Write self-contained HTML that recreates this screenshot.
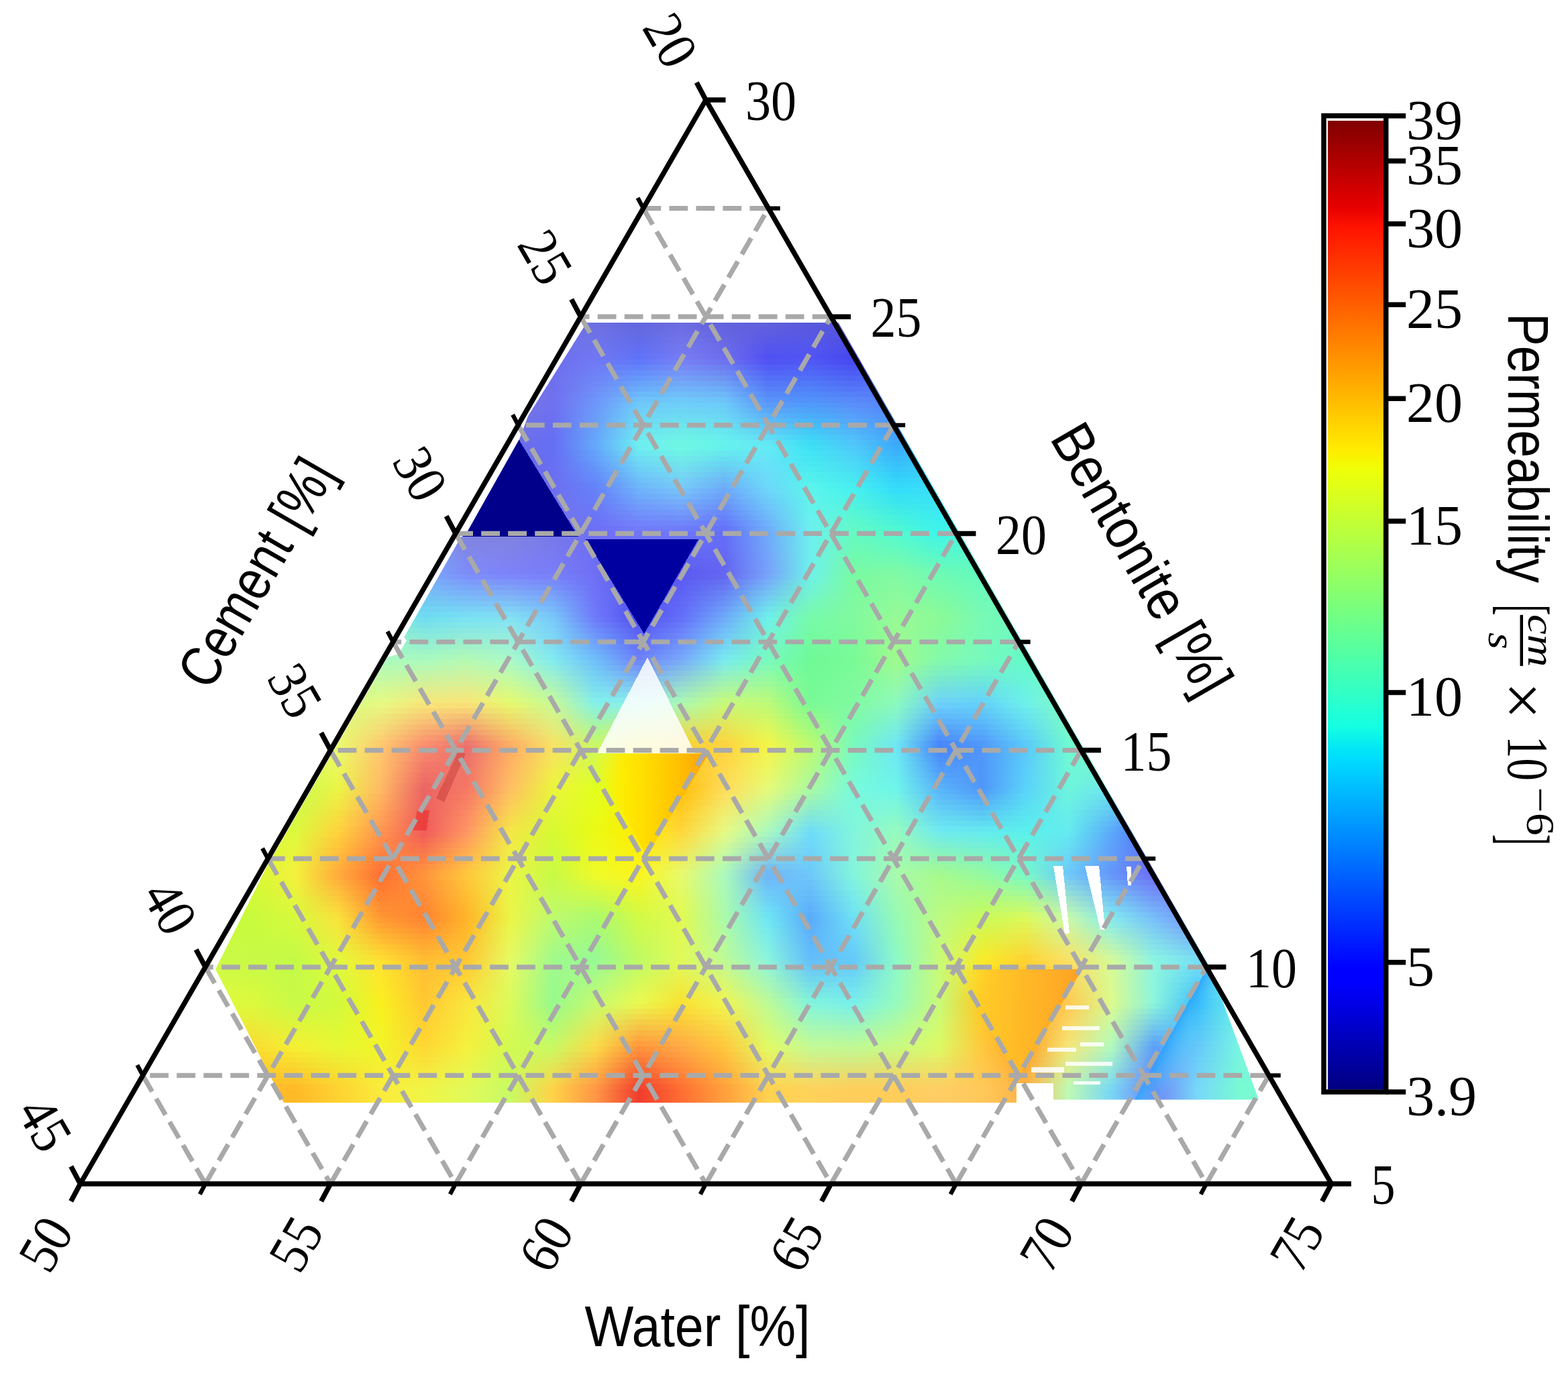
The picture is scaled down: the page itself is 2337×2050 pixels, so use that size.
<!DOCTYPE html>
<html><head><meta charset="utf-8"><title>Ternary permeability</title>
<style>html,body{margin:0;padding:0;background:#fff}body{width:2337px;height:2050px;overflow:hidden}svg{display:block}text{fill:#000}.s{font-family:"Liberation Serif",serif}.n{font-family:"Liberation Sans",sans-serif}</style></head><body>
<svg width="2337" height="2050" viewBox="0 0 2337 2050">
<rect width="2337" height="2050" fill="#fff"/>
<defs>
<clipPath id="hm"><polygon points="874.4,481 1249.6,481 1804.8,1445 1876,1639.5 1570,1639.5 1570,1644 423,1644 321.2,1445 398.7,1290 577.5,980 594.4,975 606,955 602.3,950 686.8,801 695.3,795 774,655 787.2,620"/></clipPath>
<linearGradient id="r0" gradientUnits="userSpaceOnUse" x1="312" y1="0" x2="1976" y2="0"><stop offset="0.3077" stop-color="#6e6ee5"/><stop offset="0.3462" stop-color="#6e70e1"/><stop offset="0.3846" stop-color="#6367de"/><stop offset="0.4231" stop-color="#6c6de1"/><stop offset="0.4615" stop-color="#6363dc"/><stop offset="0.5000" stop-color="#6060dd"/><stop offset="0.5385" stop-color="#5859dd"/><stop offset="0.5769" stop-color="#5656dc"/></linearGradient>
<linearGradient id="r1" gradientUnits="userSpaceOnUse" x1="312" y1="0" x2="1976" y2="0"><stop offset="0.3077" stop-color="#6e6ee6"/><stop offset="0.3462" stop-color="#6f71e4"/><stop offset="0.3846" stop-color="#6269e2"/><stop offset="0.4231" stop-color="#6e6fe4"/><stop offset="0.4615" stop-color="#6464df"/><stop offset="0.5000" stop-color="#5e5ee0"/><stop offset="0.5385" stop-color="#5758e0"/><stop offset="0.5769" stop-color="#5454df"/></linearGradient>
<linearGradient id="r2" gradientUnits="userSpaceOnUse" x1="312" y1="0" x2="1976" y2="0"><stop offset="0.3077" stop-color="#6e6ee7"/><stop offset="0.3462" stop-color="#6f72e7"/><stop offset="0.3846" stop-color="#626be6"/><stop offset="0.4231" stop-color="#7072e7"/><stop offset="0.4615" stop-color="#6666e2"/><stop offset="0.5000" stop-color="#5b5be4"/><stop offset="0.5385" stop-color="#5658e4"/><stop offset="0.5769" stop-color="#5151e2"/><stop offset="0.6154" stop-color="#565ee4"/></linearGradient>
<linearGradient id="r3" gradientUnits="userSpaceOnUse" x1="312" y1="0" x2="1976" y2="0"><stop offset="0.3077" stop-color="#6e6ee8"/><stop offset="0.3462" stop-color="#6f74ea"/><stop offset="0.3846" stop-color="#616ceb"/><stop offset="0.4231" stop-color="#7174ea"/><stop offset="0.4615" stop-color="#6868e5"/><stop offset="0.5000" stop-color="#5959e8"/><stop offset="0.5385" stop-color="#5457e8"/><stop offset="0.5769" stop-color="#4f4fe5"/><stop offset="0.6154" stop-color="#5460e8"/></linearGradient>
<linearGradient id="r4" gradientUnits="userSpaceOnUse" x1="312" y1="0" x2="1976" y2="0"><stop offset="0.2692" stop-color="#7272e4"/><stop offset="0.3077" stop-color="#6e6ee9"/><stop offset="0.3462" stop-color="#6f75ed"/><stop offset="0.3846" stop-color="#616eef"/><stop offset="0.4231" stop-color="#7377ed"/><stop offset="0.4615" stop-color="#6a6ae8"/><stop offset="0.5000" stop-color="#5656ec"/><stop offset="0.5385" stop-color="#5357ec"/><stop offset="0.5769" stop-color="#4c4ce8"/><stop offset="0.6154" stop-color="#5361ec"/></linearGradient>
<linearGradient id="r5" gradientUnits="userSpaceOnUse" x1="312" y1="0" x2="1976" y2="0"><stop offset="0.2692" stop-color="#7373e4"/><stop offset="0.3077" stop-color="#6e6eea"/><stop offset="0.3462" stop-color="#7076f0"/><stop offset="0.3846" stop-color="#6070f3"/><stop offset="0.4231" stop-color="#7579f0"/><stop offset="0.4615" stop-color="#6b6beb"/><stop offset="0.5000" stop-color="#5454ef"/><stop offset="0.5385" stop-color="#5256ef"/><stop offset="0.5769" stop-color="#4a4aeb"/><stop offset="0.6154" stop-color="#5262ef"/></linearGradient>
<linearGradient id="r6" gradientUnits="userSpaceOnUse" x1="312" y1="0" x2="1976" y2="0"><stop offset="0.2692" stop-color="#7373e4"/><stop offset="0.3077" stop-color="#6e6eeb"/><stop offset="0.3462" stop-color="#7077f3"/><stop offset="0.3846" stop-color="#5f72f8"/><stop offset="0.4231" stop-color="#777cf3"/><stop offset="0.4615" stop-color="#6d6dee"/><stop offset="0.5000" stop-color="#5151f3"/><stop offset="0.5385" stop-color="#5155f3"/><stop offset="0.5769" stop-color="#4747ee"/><stop offset="0.6154" stop-color="#5163f3"/></linearGradient>
<linearGradient id="r7" gradientUnits="userSpaceOnUse" x1="312" y1="0" x2="1976" y2="0"><stop offset="0.2692" stop-color="#7373e3"/><stop offset="0.3077" stop-color="#6e6eeb"/><stop offset="0.3462" stop-color="#707af5"/><stop offset="0.3846" stop-color="#6078fa"/><stop offset="0.4231" stop-color="#7782f5"/><stop offset="0.4615" stop-color="#6e74f1"/><stop offset="0.5000" stop-color="#5154f5"/><stop offset="0.5385" stop-color="#5059f5"/><stop offset="0.5769" stop-color="#474af1"/><stop offset="0.6154" stop-color="#5166f5"/></linearGradient>
<linearGradient id="r8" gradientUnits="userSpaceOnUse" x1="312" y1="0" x2="1976" y2="0"><stop offset="0.2692" stop-color="#7474e2"/><stop offset="0.3077" stop-color="#6e6eec"/><stop offset="0.3462" stop-color="#707ef6"/><stop offset="0.3846" stop-color="#6283fa"/><stop offset="0.4231" stop-color="#768cf6"/><stop offset="0.4615" stop-color="#6e7ff2"/><stop offset="0.5000" stop-color="#525df6"/><stop offset="0.5385" stop-color="#5061f6"/><stop offset="0.5769" stop-color="#4a53f2"/><stop offset="0.6154" stop-color="#526af6"/></linearGradient>
<linearGradient id="r9" gradientUnits="userSpaceOnUse" x1="312" y1="0" x2="1976" y2="0"><stop offset="0.2692" stop-color="#7575e1"/><stop offset="0.3077" stop-color="#6f6fed"/><stop offset="0.3462" stop-color="#6f81f7"/><stop offset="0.3846" stop-color="#648efa"/><stop offset="0.4231" stop-color="#7596f7"/><stop offset="0.4615" stop-color="#6e8af3"/><stop offset="0.5000" stop-color="#5366f7"/><stop offset="0.5385" stop-color="#5069f7"/><stop offset="0.5769" stop-color="#4c5cf3"/><stop offset="0.6154" stop-color="#536df7"/></linearGradient>
<linearGradient id="r10" gradientUnits="userSpaceOnUse" x1="312" y1="0" x2="1976" y2="0"><stop offset="0.2692" stop-color="#7575e0"/><stop offset="0.3077" stop-color="#6f6fed"/><stop offset="0.3462" stop-color="#6f85f7"/><stop offset="0.3846" stop-color="#6698fa"/><stop offset="0.4231" stop-color="#74a0f7"/><stop offset="0.4615" stop-color="#6e95f4"/><stop offset="0.5000" stop-color="#546ff7"/><stop offset="0.5385" stop-color="#5071f7"/><stop offset="0.5769" stop-color="#4f65f4"/><stop offset="0.6154" stop-color="#5471f7"/></linearGradient>
<linearGradient id="r11" gradientUnits="userSpaceOnUse" x1="312" y1="0" x2="1976" y2="0"><stop offset="0.2692" stop-color="#7676df"/><stop offset="0.3077" stop-color="#6f6fee"/><stop offset="0.3462" stop-color="#6f89f8"/><stop offset="0.3846" stop-color="#67a3fa"/><stop offset="0.4231" stop-color="#72aaf8"/><stop offset="0.4615" stop-color="#6ea1f6"/><stop offset="0.5000" stop-color="#5677f8"/><stop offset="0.5385" stop-color="#507af8"/><stop offset="0.5769" stop-color="#516df6"/><stop offset="0.6154" stop-color="#5675f8"/></linearGradient>
<linearGradient id="r12" gradientUnits="userSpaceOnUse" x1="312" y1="0" x2="1976" y2="0"><stop offset="0.2692" stop-color="#7676de"/><stop offset="0.3077" stop-color="#6f6fee"/><stop offset="0.3462" stop-color="#6f8df8"/><stop offset="0.3846" stop-color="#69adfa"/><stop offset="0.4231" stop-color="#71b4f8"/><stop offset="0.4615" stop-color="#6eacf7"/><stop offset="0.5000" stop-color="#5780f8"/><stop offset="0.5385" stop-color="#5082f8"/><stop offset="0.5769" stop-color="#5476f7"/><stop offset="0.6154" stop-color="#5779f8"/></linearGradient>
<linearGradient id="r13" gradientUnits="userSpaceOnUse" x1="312" y1="0" x2="1976" y2="0"><stop offset="0.2692" stop-color="#7777dd"/><stop offset="0.3077" stop-color="#7070ef"/><stop offset="0.3462" stop-color="#6e90f9"/><stop offset="0.3846" stop-color="#6bb8fa"/><stop offset="0.4231" stop-color="#70bef9"/><stop offset="0.4615" stop-color="#6eb7f8"/><stop offset="0.5000" stop-color="#5889f9"/><stop offset="0.5385" stop-color="#508af9"/><stop offset="0.5769" stop-color="#567ff8"/><stop offset="0.6154" stop-color="#587cf9"/></linearGradient>
<linearGradient id="r14" gradientUnits="userSpaceOnUse" x1="312" y1="0" x2="1976" y2="0"><stop offset="0.2692" stop-color="#7878dc"/><stop offset="0.3077" stop-color="#7070f0"/><stop offset="0.3462" stop-color="#6e94fa"/><stop offset="0.3846" stop-color="#6dc3fa"/><stop offset="0.4231" stop-color="#6fc8fa"/><stop offset="0.4615" stop-color="#6ec2f9"/><stop offset="0.5000" stop-color="#5992fa"/><stop offset="0.5385" stop-color="#5092fa"/><stop offset="0.5769" stop-color="#5988f9"/><stop offset="0.6154" stop-color="#5980fa"/></linearGradient>
<linearGradient id="r15" gradientUnits="userSpaceOnUse" x1="312" y1="0" x2="1976" y2="0"><stop offset="0.2692" stop-color="#7777dd"/><stop offset="0.3077" stop-color="#6f70f0"/><stop offset="0.3462" stop-color="#6d97fa"/><stop offset="0.3846" stop-color="#6ecaf9"/><stop offset="0.4231" stop-color="#6ed0f8"/><stop offset="0.4615" stop-color="#6dcbf9"/><stop offset="0.5000" stop-color="#5b9bfa"/><stop offset="0.5385" stop-color="#4f9bfa"/><stop offset="0.5769" stop-color="#5990fa"/><stop offset="0.6154" stop-color="#5884fa"/></linearGradient>
<linearGradient id="r16" gradientUnits="userSpaceOnUse" x1="312" y1="0" x2="1976" y2="0"><stop offset="0.2692" stop-color="#7676de"/><stop offset="0.3077" stop-color="#6e70f1"/><stop offset="0.3462" stop-color="#6c9afa"/><stop offset="0.3846" stop-color="#6ed0f8"/><stop offset="0.4231" stop-color="#6ed5f5"/><stop offset="0.4615" stop-color="#6cd0f7"/><stop offset="0.5000" stop-color="#5ca6f9"/><stop offset="0.5385" stop-color="#4ca4f9"/><stop offset="0.5769" stop-color="#5897fa"/><stop offset="0.6154" stop-color="#548afa"/><stop offset="0.6538" stop-color="#548efa"/></linearGradient>
<linearGradient id="r17" gradientUnits="userSpaceOnUse" x1="312" y1="0" x2="1976" y2="0"><stop offset="0.2692" stop-color="#7575df"/><stop offset="0.3077" stop-color="#6c6ff2"/><stop offset="0.3462" stop-color="#6b9cfa"/><stop offset="0.3846" stop-color="#6ed4f7"/><stop offset="0.4231" stop-color="#6edbf2"/><stop offset="0.4615" stop-color="#6bd6f5"/><stop offset="0.5000" stop-color="#5db1f8"/><stop offset="0.5385" stop-color="#4aadf8"/><stop offset="0.5769" stop-color="#579ffa"/><stop offset="0.6154" stop-color="#518efa"/><stop offset="0.6538" stop-color="#5196fa"/></linearGradient>
<linearGradient id="r18" gradientUnits="userSpaceOnUse" x1="312" y1="0" x2="1976" y2="0"><stop offset="0.2308" stop-color="#7171de"/><stop offset="0.2692" stop-color="#7474e0"/><stop offset="0.3077" stop-color="#6b6ff2"/><stop offset="0.3462" stop-color="#6a9ffa"/><stop offset="0.3846" stop-color="#6edaf6"/><stop offset="0.4231" stop-color="#6ee1ef"/><stop offset="0.4615" stop-color="#6adcf3"/><stop offset="0.5000" stop-color="#5ebbf8"/><stop offset="0.5385" stop-color="#47b7f8"/><stop offset="0.5769" stop-color="#56a6fa"/><stop offset="0.6154" stop-color="#4d94fa"/><stop offset="0.6538" stop-color="#4d9efa"/></linearGradient>
<linearGradient id="r19" gradientUnits="userSpaceOnUse" x1="312" y1="0" x2="1976" y2="0"><stop offset="0.2308" stop-color="#7070df"/><stop offset="0.2692" stop-color="#7272e2"/><stop offset="0.3077" stop-color="#696ff3"/><stop offset="0.3462" stop-color="#68a1fa"/><stop offset="0.3846" stop-color="#6edef4"/><stop offset="0.4231" stop-color="#6ee6ec"/><stop offset="0.4615" stop-color="#68e1f2"/><stop offset="0.5000" stop-color="#60c6f7"/><stop offset="0.5385" stop-color="#45c0f7"/><stop offset="0.5769" stop-color="#54aefa"/><stop offset="0.6154" stop-color="#4998fa"/><stop offset="0.6538" stop-color="#49a7fa"/></linearGradient>
<linearGradient id="r20" gradientUnits="userSpaceOnUse" x1="312" y1="0" x2="1976" y2="0"><stop offset="0.2308" stop-color="#6e6edf"/><stop offset="0.2692" stop-color="#7171e3"/><stop offset="0.3077" stop-color="#686ff3"/><stop offset="0.3462" stop-color="#67a4fa"/><stop offset="0.3846" stop-color="#6ee4f3"/><stop offset="0.4231" stop-color="#6eece9"/><stop offset="0.4615" stop-color="#67e7f0"/><stop offset="0.5000" stop-color="#61d0f7"/><stop offset="0.5385" stop-color="#42caf7"/><stop offset="0.5769" stop-color="#53b5fa"/><stop offset="0.6154" stop-color="#459efa"/><stop offset="0.6538" stop-color="#45affa"/></linearGradient>
<linearGradient id="r21" gradientUnits="userSpaceOnUse" x1="312" y1="0" x2="1976" y2="0"><stop offset="0.2308" stop-color="#6c6ce0"/><stop offset="0.2692" stop-color="#7070e4"/><stop offset="0.3077" stop-color="#666ef4"/><stop offset="0.3462" stop-color="#66a6fa"/><stop offset="0.3846" stop-color="#6ee8f2"/><stop offset="0.4231" stop-color="#6ef2e6"/><stop offset="0.4615" stop-color="#66edee"/><stop offset="0.5000" stop-color="#62dbf6"/><stop offset="0.5385" stop-color="#40d3f6"/><stop offset="0.5769" stop-color="#52bdfa"/><stop offset="0.6154" stop-color="#42a2fa"/><stop offset="0.6538" stop-color="#42b7fa"/></linearGradient>
<linearGradient id="r22" gradientUnits="userSpaceOnUse" x1="312" y1="0" x2="1976" y2="0"><stop offset="0.2308" stop-color="#6a6ae1"/><stop offset="0.2692" stop-color="#6f6fe5"/><stop offset="0.3077" stop-color="#656ef5"/><stop offset="0.3462" stop-color="#65a9fa"/><stop offset="0.3846" stop-color="#6eeef1"/><stop offset="0.4231" stop-color="#6ef7e3"/><stop offset="0.4615" stop-color="#65f2ec"/><stop offset="0.5000" stop-color="#63e6f5"/><stop offset="0.5385" stop-color="#3ddcf5"/><stop offset="0.5769" stop-color="#51c4fa"/><stop offset="0.6154" stop-color="#3ea8fa"/><stop offset="0.6538" stop-color="#3ebffa"/></linearGradient>
<linearGradient id="r23" gradientUnits="userSpaceOnUse" x1="312" y1="0" x2="1976" y2="0"><stop offset="0.2308" stop-color="#6969e1"/><stop offset="0.2692" stop-color="#6d6de5"/><stop offset="0.3077" stop-color="#656ef5"/><stop offset="0.3462" stop-color="#64a8fa"/><stop offset="0.3846" stop-color="#6eecf1"/><stop offset="0.4231" stop-color="#6ff7e3"/><stop offset="0.4615" stop-color="#65f0ec"/><stop offset="0.5000" stop-color="#65eaf5"/><stop offset="0.5385" stop-color="#3ee2f4"/><stop offset="0.5769" stop-color="#4fcaf9"/><stop offset="0.6154" stop-color="#3badfa"/><stop offset="0.6538" stop-color="#3cc5fa"/></linearGradient>
<linearGradient id="r24" gradientUnits="userSpaceOnUse" x1="312" y1="0" x2="1976" y2="0"><stop offset="0.2308" stop-color="#6868e0"/><stop offset="0.2692" stop-color="#6c6ce4"/><stop offset="0.3077" stop-color="#666ef4"/><stop offset="0.3462" stop-color="#64a2fa"/><stop offset="0.3846" stop-color="#6ee5f2"/><stop offset="0.4231" stop-color="#70f1e6"/><stop offset="0.4615" stop-color="#66e7ee"/><stop offset="0.5000" stop-color="#66e7f6"/><stop offset="0.5385" stop-color="#42e5f3"/><stop offset="0.5769" stop-color="#4ed0f8"/><stop offset="0.6154" stop-color="#3ab3fa"/><stop offset="0.6538" stop-color="#3cc8fa"/></linearGradient>
<linearGradient id="r25" gradientUnits="userSpaceOnUse" x1="312" y1="0" x2="1976" y2="0"><stop offset="0.2308" stop-color="#6767df"/><stop offset="0.2692" stop-color="#6b6be3"/><stop offset="0.3077" stop-color="#676ef3"/><stop offset="0.3462" stop-color="#649efa"/><stop offset="0.3846" stop-color="#6eddf3"/><stop offset="0.4231" stop-color="#71eae9"/><stop offset="0.4615" stop-color="#67def0"/><stop offset="0.5000" stop-color="#67e5f7"/><stop offset="0.5385" stop-color="#45e7f2"/><stop offset="0.5769" stop-color="#4dd4f7"/><stop offset="0.6154" stop-color="#39bafa"/><stop offset="0.6538" stop-color="#3ccbfa"/></linearGradient>
<linearGradient id="r26" gradientUnits="userSpaceOnUse" x1="312" y1="0" x2="1976" y2="0"><stop offset="0.2308" stop-color="#6767df"/><stop offset="0.2692" stop-color="#6a6ae2"/><stop offset="0.3077" stop-color="#686ef3"/><stop offset="0.3462" stop-color="#6498fa"/><stop offset="0.3846" stop-color="#6ed6f4"/><stop offset="0.4231" stop-color="#72e4ec"/><stop offset="0.4615" stop-color="#68d4f2"/><stop offset="0.5000" stop-color="#68e2f7"/><stop offset="0.5385" stop-color="#49eaf1"/><stop offset="0.5769" stop-color="#4cdaf6"/><stop offset="0.6154" stop-color="#38c0fa"/><stop offset="0.6538" stop-color="#3ccefa"/></linearGradient>
<linearGradient id="r27" gradientUnits="userSpaceOnUse" x1="312" y1="0" x2="1976" y2="0"><stop offset="0.2308" stop-color="#6666de"/><stop offset="0.2692" stop-color="#6868e0"/><stop offset="0.3077" stop-color="#6a6ef2"/><stop offset="0.3462" stop-color="#6494fa"/><stop offset="0.3846" stop-color="#6ecef6"/><stop offset="0.4231" stop-color="#74deef"/><stop offset="0.4615" stop-color="#6acbf3"/><stop offset="0.5000" stop-color="#6ae0f8"/><stop offset="0.5385" stop-color="#4decef"/><stop offset="0.5769" stop-color="#4adef4"/><stop offset="0.6154" stop-color="#36c6fa"/><stop offset="0.6538" stop-color="#3cd1fa"/></linearGradient>
<linearGradient id="r28" gradientUnits="userSpaceOnUse" x1="312" y1="0" x2="1976" y2="0"><stop offset="0.2308" stop-color="#6666de"/><stop offset="0.2692" stop-color="#6767df"/><stop offset="0.3077" stop-color="#6b6ef2"/><stop offset="0.3462" stop-color="#648efa"/><stop offset="0.3846" stop-color="#6ec7f7"/><stop offset="0.4231" stop-color="#75d8f2"/><stop offset="0.4615" stop-color="#6bc1f5"/><stop offset="0.5000" stop-color="#6bddf8"/><stop offset="0.5385" stop-color="#51efee"/><stop offset="0.5769" stop-color="#49e4f3"/><stop offset="0.6154" stop-color="#35ccfa"/><stop offset="0.6538" stop-color="#3cd4fa"/></linearGradient>
<linearGradient id="r29" gradientUnits="userSpaceOnUse" x1="312" y1="0" x2="1976" y2="0"><stop offset="0.2308" stop-color="#6565dd"/><stop offset="0.2692" stop-color="#6666de"/><stop offset="0.3077" stop-color="#6c6ef1"/><stop offset="0.3462" stop-color="#648afa"/><stop offset="0.3846" stop-color="#6ebff8"/><stop offset="0.4231" stop-color="#76d1f5"/><stop offset="0.4615" stop-color="#6cb8f7"/><stop offset="0.5000" stop-color="#6cdbf9"/><stop offset="0.5385" stop-color="#54f1ed"/><stop offset="0.5769" stop-color="#48e8f2"/><stop offset="0.6154" stop-color="#34d3fa"/><stop offset="0.6538" stop-color="#3cd7fa"/></linearGradient>
<linearGradient id="r30" gradientUnits="userSpaceOnUse" x1="312" y1="0" x2="1976" y2="0"><stop offset="0.2308" stop-color="#6464dc"/><stop offset="0.2692" stop-color="#6565dd"/><stop offset="0.3077" stop-color="#6d6ef0"/><stop offset="0.3462" stop-color="#6484fa"/><stop offset="0.3846" stop-color="#6eb8f9"/><stop offset="0.4231" stop-color="#77cbf8"/><stop offset="0.4615" stop-color="#6daff9"/><stop offset="0.5000" stop-color="#6dd8fa"/><stop offset="0.5385" stop-color="#58f4ec"/><stop offset="0.5769" stop-color="#47eef1"/><stop offset="0.6154" stop-color="#33d9fa"/><stop offset="0.6538" stop-color="#3cdafa"/><stop offset="0.6923" stop-color="#3cdbfa"/></linearGradient>
<linearGradient id="r31" gradientUnits="userSpaceOnUse" x1="312" y1="0" x2="1976" y2="0"><stop offset="0.1923" stop-color="#6667dd"/><stop offset="0.2308" stop-color="#6666dc"/><stop offset="0.2692" stop-color="#6666dc"/><stop offset="0.3077" stop-color="#6f6fef"/><stop offset="0.3462" stop-color="#6581fa"/><stop offset="0.3846" stop-color="#6eb0fa"/><stop offset="0.4231" stop-color="#77c3fa"/><stop offset="0.4615" stop-color="#6da6fa"/><stop offset="0.5000" stop-color="#6ed4fa"/><stop offset="0.5385" stop-color="#5bf5eb"/><stop offset="0.5769" stop-color="#48f1ed"/><stop offset="0.6154" stop-color="#34def8"/><stop offset="0.6538" stop-color="#3cdef9"/><stop offset="0.6923" stop-color="#3ddef8"/></linearGradient>
<linearGradient id="r32" gradientUnits="userSpaceOnUse" x1="312" y1="0" x2="1976" y2="0"><stop offset="0.1923" stop-color="#696ddf"/><stop offset="0.2308" stop-color="#6a6adc"/><stop offset="0.2692" stop-color="#6a6adc"/><stop offset="0.3077" stop-color="#7070ee"/><stop offset="0.3462" stop-color="#667ef9"/><stop offset="0.3846" stop-color="#6fa9fa"/><stop offset="0.4231" stop-color="#76b9fa"/><stop offset="0.4615" stop-color="#6c9ffa"/><stop offset="0.5000" stop-color="#6ecffa"/><stop offset="0.5385" stop-color="#5ef4ec"/><stop offset="0.5769" stop-color="#4cf2e8"/><stop offset="0.6154" stop-color="#38e2f2"/><stop offset="0.6538" stop-color="#3ce1f7"/><stop offset="0.6923" stop-color="#40e1f3"/></linearGradient>
<linearGradient id="r33" gradientUnits="userSpaceOnUse" x1="312" y1="0" x2="1976" y2="0"><stop offset="0.1923" stop-color="#6c74e1"/><stop offset="0.2308" stop-color="#6d6ddc"/><stop offset="0.2692" stop-color="#6d6ddc"/><stop offset="0.3077" stop-color="#7171ed"/><stop offset="0.3462" stop-color="#677cf8"/><stop offset="0.3846" stop-color="#70a1fa"/><stop offset="0.4231" stop-color="#75affa"/><stop offset="0.4615" stop-color="#6b97fa"/><stop offset="0.5000" stop-color="#6ec9fa"/><stop offset="0.5385" stop-color="#60f3ed"/><stop offset="0.5769" stop-color="#4ff3e2"/><stop offset="0.6154" stop-color="#3be5ee"/><stop offset="0.6538" stop-color="#3ce4f5"/><stop offset="0.6923" stop-color="#42e5ee"/></linearGradient>
<linearGradient id="r34" gradientUnits="userSpaceOnUse" x1="312" y1="0" x2="1976" y2="0"><stop offset="0.1923" stop-color="#6f7ae3"/><stop offset="0.2308" stop-color="#7171dc"/><stop offset="0.2692" stop-color="#7171dc"/><stop offset="0.3077" stop-color="#7272ec"/><stop offset="0.3462" stop-color="#6879f8"/><stop offset="0.3846" stop-color="#709afa"/><stop offset="0.4231" stop-color="#74a5fa"/><stop offset="0.4615" stop-color="#6a90fa"/><stop offset="0.5000" stop-color="#6ec3fa"/><stop offset="0.5385" stop-color="#63f3ed"/><stop offset="0.5769" stop-color="#53f4dc"/><stop offset="0.6154" stop-color="#3fe9e8"/><stop offset="0.6538" stop-color="#3ce7f3"/><stop offset="0.6923" stop-color="#45e8ea"/></linearGradient>
<linearGradient id="r35" gradientUnits="userSpaceOnUse" x1="312" y1="0" x2="1976" y2="0"><stop offset="0.1923" stop-color="#7280e4"/><stop offset="0.2308" stop-color="#7575dc"/><stop offset="0.2692" stop-color="#7575dc"/><stop offset="0.3077" stop-color="#7474ea"/><stop offset="0.3462" stop-color="#6a77f7"/><stop offset="0.3846" stop-color="#7192fa"/><stop offset="0.4231" stop-color="#729bfa"/><stop offset="0.4615" stop-color="#6888fa"/><stop offset="0.5000" stop-color="#6ebefa"/><stop offset="0.5385" stop-color="#65f2ee"/><stop offset="0.5769" stop-color="#57f6d7"/><stop offset="0.6154" stop-color="#43ede4"/><stop offset="0.6538" stop-color="#3ceaf2"/><stop offset="0.6923" stop-color="#47ebe5"/></linearGradient>
<linearGradient id="r36" gradientUnits="userSpaceOnUse" x1="312" y1="0" x2="1976" y2="0"><stop offset="0.1923" stop-color="#7586e6"/><stop offset="0.2308" stop-color="#7979dc"/><stop offset="0.2692" stop-color="#7979dc"/><stop offset="0.3077" stop-color="#7575e9"/><stop offset="0.3462" stop-color="#6b74f7"/><stop offset="0.3846" stop-color="#718bfa"/><stop offset="0.4231" stop-color="#7191fa"/><stop offset="0.4615" stop-color="#6781fa"/><stop offset="0.5000" stop-color="#6eb8fa"/><stop offset="0.5385" stop-color="#68f2ee"/><stop offset="0.5769" stop-color="#5bf7d1"/><stop offset="0.6154" stop-color="#47f1de"/><stop offset="0.6538" stop-color="#3cedf0"/><stop offset="0.6923" stop-color="#4aefe0"/></linearGradient>
<linearGradient id="r37" gradientUnits="userSpaceOnUse" x1="312" y1="0" x2="1976" y2="0"><stop offset="0.1923" stop-color="#788de8"/><stop offset="0.2308" stop-color="#7c7cdc"/><stop offset="0.2692" stop-color="#7c7cdc"/><stop offset="0.3077" stop-color="#7676e8"/><stop offset="0.3462" stop-color="#6c72f6"/><stop offset="0.3846" stop-color="#7283fa"/><stop offset="0.4231" stop-color="#7087fa"/><stop offset="0.4615" stop-color="#6679fa"/><stop offset="0.5000" stop-color="#6eb2fa"/><stop offset="0.5385" stop-color="#6af1ef"/><stop offset="0.5769" stop-color="#5ef8cb"/><stop offset="0.6154" stop-color="#4af4da"/><stop offset="0.6538" stop-color="#3cf0ee"/><stop offset="0.6923" stop-color="#4cf2dc"/></linearGradient>
<linearGradient id="r38" gradientUnits="userSpaceOnUse" x1="312" y1="0" x2="1976" y2="0"><stop offset="0.1923" stop-color="#7b93ea"/><stop offset="0.2308" stop-color="#8080dc"/><stop offset="0.2692" stop-color="#8080dc"/><stop offset="0.3077" stop-color="#7777e7"/><stop offset="0.3462" stop-color="#6d6ff5"/><stop offset="0.3846" stop-color="#737cfa"/><stop offset="0.4231" stop-color="#6f7dfa"/><stop offset="0.4615" stop-color="#6572fa"/><stop offset="0.5000" stop-color="#6eadfa"/><stop offset="0.5385" stop-color="#6df0f0"/><stop offset="0.5769" stop-color="#62f9c6"/><stop offset="0.6154" stop-color="#4ef8d4"/><stop offset="0.6538" stop-color="#3cf3ec"/><stop offset="0.6923" stop-color="#4ff6d7"/></linearGradient>
<linearGradient id="r39" gradientUnits="userSpaceOnUse" x1="312" y1="0" x2="1976" y2="0"><stop offset="0.1923" stop-color="#7d97ec"/><stop offset="0.2308" stop-color="#8283de"/><stop offset="0.2692" stop-color="#8282de"/><stop offset="0.3077" stop-color="#7878e7"/><stop offset="0.3462" stop-color="#6e6ef5"/><stop offset="0.3846" stop-color="#7176f9"/><stop offset="0.4231" stop-color="#6d76f9"/><stop offset="0.4615" stop-color="#646df9"/><stop offset="0.5000" stop-color="#6fa9fa"/><stop offset="0.5385" stop-color="#6ef0f0"/><stop offset="0.5769" stop-color="#65fac1"/><stop offset="0.6154" stop-color="#53facf"/><stop offset="0.6538" stop-color="#3ff5e8"/><stop offset="0.6923" stop-color="#51f8d3"/></linearGradient>
<linearGradient id="r40" gradientUnits="userSpaceOnUse" x1="312" y1="0" x2="1976" y2="0"><stop offset="0.1923" stop-color="#7c9aee"/><stop offset="0.2308" stop-color="#8184e2"/><stop offset="0.2692" stop-color="#8182e2"/><stop offset="0.3077" stop-color="#7879ea"/><stop offset="0.3462" stop-color="#6e6ef5"/><stop offset="0.3846" stop-color="#6e72f8"/><stop offset="0.4231" stop-color="#6a72f8"/><stop offset="0.4615" stop-color="#646cf8"/><stop offset="0.5000" stop-color="#70a8fa"/><stop offset="0.5385" stop-color="#6ef0ef"/><stop offset="0.5769" stop-color="#68fabc"/><stop offset="0.6154" stop-color="#59faca"/><stop offset="0.6538" stop-color="#45f6e1"/><stop offset="0.6923" stop-color="#54f8d0"/></linearGradient>
<linearGradient id="r41" gradientUnits="userSpaceOnUse" x1="312" y1="0" x2="1976" y2="0"><stop offset="0.1923" stop-color="#7b9cf0"/><stop offset="0.2308" stop-color="#8085e5"/><stop offset="0.2692" stop-color="#8082e5"/><stop offset="0.3077" stop-color="#787aec"/><stop offset="0.3462" stop-color="#6e6ef5"/><stop offset="0.3846" stop-color="#6b6ff7"/><stop offset="0.4231" stop-color="#686ff7"/><stop offset="0.4615" stop-color="#646bf7"/><stop offset="0.5000" stop-color="#71a7fa"/><stop offset="0.5385" stop-color="#6ef0ee"/><stop offset="0.5769" stop-color="#6afab8"/><stop offset="0.6154" stop-color="#60fac4"/><stop offset="0.6538" stop-color="#4cf7da"/><stop offset="0.6923" stop-color="#56f8cd"/></linearGradient>
<linearGradient id="r42" gradientUnits="userSpaceOnUse" x1="312" y1="0" x2="1976" y2="0"><stop offset="0.1923" stop-color="#7b9ff2"/><stop offset="0.2308" stop-color="#8086e9"/><stop offset="0.2692" stop-color="#8082e9"/><stop offset="0.3077" stop-color="#787aef"/><stop offset="0.3462" stop-color="#6e6ef5"/><stop offset="0.3846" stop-color="#686bf6"/><stop offset="0.4231" stop-color="#656bf6"/><stop offset="0.4615" stop-color="#646af6"/><stop offset="0.5000" stop-color="#72a6fa"/><stop offset="0.5385" stop-color="#6ef0ee"/><stop offset="0.5769" stop-color="#6dfab4"/><stop offset="0.6154" stop-color="#66fabe"/><stop offset="0.6538" stop-color="#52f7d3"/><stop offset="0.6923" stop-color="#59f9cb"/></linearGradient>
<linearGradient id="r43" gradientUnits="userSpaceOnUse" x1="312" y1="0" x2="1976" y2="0"><stop offset="0.1923" stop-color="#7aa1f3"/><stop offset="0.2308" stop-color="#7f88ed"/><stop offset="0.2692" stop-color="#7f82ed"/><stop offset="0.3077" stop-color="#787bf1"/><stop offset="0.3462" stop-color="#6e6ef5"/><stop offset="0.3846" stop-color="#6567f4"/><stop offset="0.4231" stop-color="#6367f4"/><stop offset="0.4615" stop-color="#6468f4"/><stop offset="0.5000" stop-color="#74a4fa"/><stop offset="0.5385" stop-color="#6ef0ed"/><stop offset="0.5769" stop-color="#6ffaaf"/><stop offset="0.6154" stop-color="#6cfab9"/><stop offset="0.6538" stop-color="#58f8cc"/><stop offset="0.6923" stop-color="#5bf9c8"/></linearGradient>
<linearGradient id="r44" gradientUnits="userSpaceOnUse" x1="312" y1="0" x2="1976" y2="0"><stop offset="0.1923" stop-color="#7aa4f5"/><stop offset="0.2308" stop-color="#7f89f1"/><stop offset="0.2692" stop-color="#7f82f1"/><stop offset="0.3077" stop-color="#787bf4"/><stop offset="0.3462" stop-color="#6e6ef5"/><stop offset="0.3846" stop-color="#6263f3"/><stop offset="0.4231" stop-color="#6063f3"/><stop offset="0.4615" stop-color="#6467f3"/><stop offset="0.5000" stop-color="#75a3fa"/><stop offset="0.5385" stop-color="#6ef0ed"/><stop offset="0.5769" stop-color="#72faab"/><stop offset="0.6154" stop-color="#72fab3"/><stop offset="0.6538" stop-color="#5ef8c5"/><stop offset="0.6923" stop-color="#5ef9c5"/><stop offset="0.7308" stop-color="#65fac2"/></linearGradient>
<linearGradient id="r45" gradientUnits="userSpaceOnUse" x1="312" y1="0" x2="1976" y2="0"><stop offset="0.1538" stop-color="#78a8f9"/><stop offset="0.1923" stop-color="#79a6f7"/><stop offset="0.2308" stop-color="#7e8af4"/><stop offset="0.2692" stop-color="#7e82f4"/><stop offset="0.3077" stop-color="#787cf6"/><stop offset="0.3462" stop-color="#6e6ef5"/><stop offset="0.3846" stop-color="#5f60f2"/><stop offset="0.4231" stop-color="#5e60f2"/><stop offset="0.4615" stop-color="#6466f2"/><stop offset="0.5000" stop-color="#76a2fa"/><stop offset="0.5385" stop-color="#6ef0ec"/><stop offset="0.5769" stop-color="#74faa7"/><stop offset="0.6154" stop-color="#79faad"/><stop offset="0.6538" stop-color="#65f9be"/><stop offset="0.6923" stop-color="#60fac2"/><stop offset="0.7308" stop-color="#67fac0"/></linearGradient>
<linearGradient id="r46" gradientUnits="userSpaceOnUse" x1="312" y1="0" x2="1976" y2="0"><stop offset="0.1538" stop-color="#78a9fa"/><stop offset="0.1923" stop-color="#78a9f9"/><stop offset="0.2308" stop-color="#7d8bf8"/><stop offset="0.2692" stop-color="#7d82f8"/><stop offset="0.3077" stop-color="#787df9"/><stop offset="0.3462" stop-color="#6e6ef5"/><stop offset="0.3846" stop-color="#5c5cf1"/><stop offset="0.4231" stop-color="#5b5cf1"/><stop offset="0.4615" stop-color="#6465f1"/><stop offset="0.5000" stop-color="#77a1fa"/><stop offset="0.5385" stop-color="#6ef0eb"/><stop offset="0.5769" stop-color="#77faa2"/><stop offset="0.6154" stop-color="#7ffaa8"/><stop offset="0.6538" stop-color="#6bfab7"/><stop offset="0.6923" stop-color="#63fabf"/><stop offset="0.7308" stop-color="#68fabf"/></linearGradient>
<linearGradient id="r47" gradientUnits="userSpaceOnUse" x1="312" y1="0" x2="1976" y2="0"><stop offset="0.1538" stop-color="#79aef8"/><stop offset="0.1923" stop-color="#77adf9"/><stop offset="0.2308" stop-color="#7d91fa"/><stop offset="0.2692" stop-color="#7d88fa"/><stop offset="0.3077" stop-color="#7882fa"/><stop offset="0.3462" stop-color="#6e6ff5"/><stop offset="0.3846" stop-color="#5959f0"/><stop offset="0.4231" stop-color="#5b5bf1"/><stop offset="0.4615" stop-color="#6568f1"/><stop offset="0.5000" stop-color="#77a5f9"/><stop offset="0.5385" stop-color="#6ff1e7"/><stop offset="0.5769" stop-color="#79faa0"/><stop offset="0.6154" stop-color="#83faa4"/><stop offset="0.6538" stop-color="#70fab2"/><stop offset="0.6923" stop-color="#65fabd"/><stop offset="0.7308" stop-color="#69fabe"/></linearGradient>
<linearGradient id="r48" gradientUnits="userSpaceOnUse" x1="312" y1="0" x2="1976" y2="0"><stop offset="0.1538" stop-color="#7cb6f3"/><stop offset="0.1923" stop-color="#76b3f8"/><stop offset="0.2308" stop-color="#7c9cf9"/><stop offset="0.2692" stop-color="#7e94f9"/><stop offset="0.3077" stop-color="#788bfa"/><stop offset="0.3462" stop-color="#6e70f6"/><stop offset="0.3846" stop-color="#5858f0"/><stop offset="0.4231" stop-color="#5c5ef2"/><stop offset="0.4615" stop-color="#6671f2"/><stop offset="0.5000" stop-color="#76aff7"/><stop offset="0.5385" stop-color="#70f2df"/><stop offset="0.5769" stop-color="#7afaa0"/><stop offset="0.6154" stop-color="#86faa2"/><stop offset="0.6538" stop-color="#74faae"/><stop offset="0.6923" stop-color="#68fabc"/><stop offset="0.7308" stop-color="#6afabe"/></linearGradient>
<linearGradient id="r49" gradientUnits="userSpaceOnUse" x1="312" y1="0" x2="1976" y2="0"><stop offset="0.1538" stop-color="#7ebeef"/><stop offset="0.1923" stop-color="#75baf7"/><stop offset="0.2308" stop-color="#7ba7f8"/><stop offset="0.2692" stop-color="#7fa0f8"/><stop offset="0.3077" stop-color="#7894fa"/><stop offset="0.3462" stop-color="#6e71f7"/><stop offset="0.3846" stop-color="#5757f0"/><stop offset="0.4231" stop-color="#5d60f3"/><stop offset="0.4615" stop-color="#677af3"/><stop offset="0.5000" stop-color="#75b9f5"/><stop offset="0.5385" stop-color="#71f3d7"/><stop offset="0.5769" stop-color="#7bfaa0"/><stop offset="0.6154" stop-color="#88faa0"/><stop offset="0.6538" stop-color="#77faab"/><stop offset="0.6923" stop-color="#6afabb"/><stop offset="0.7308" stop-color="#6bfabe"/></linearGradient>
<linearGradient id="r50" gradientUnits="userSpaceOnUse" x1="312" y1="0" x2="1976" y2="0"><stop offset="0.1538" stop-color="#81c6eb"/><stop offset="0.1923" stop-color="#74c0f6"/><stop offset="0.2308" stop-color="#7bb1f8"/><stop offset="0.2692" stop-color="#7facf8"/><stop offset="0.3077" stop-color="#789efa"/><stop offset="0.3462" stop-color="#6e72f7"/><stop offset="0.3846" stop-color="#5656f0"/><stop offset="0.4231" stop-color="#5e63f4"/><stop offset="0.4615" stop-color="#6883f4"/><stop offset="0.5000" stop-color="#74c3f3"/><stop offset="0.5385" stop-color="#72f4cf"/><stop offset="0.5769" stop-color="#7cfaa0"/><stop offset="0.6154" stop-color="#8bfa9e"/><stop offset="0.6538" stop-color="#7bfaa7"/><stop offset="0.6923" stop-color="#6dfaba"/><stop offset="0.7308" stop-color="#6bfabe"/></linearGradient>
<linearGradient id="r51" gradientUnits="userSpaceOnUse" x1="312" y1="0" x2="1976" y2="0"><stop offset="0.1538" stop-color="#83cfe6"/><stop offset="0.1923" stop-color="#72c6f4"/><stop offset="0.2308" stop-color="#7abcf7"/><stop offset="0.2692" stop-color="#80b7f7"/><stop offset="0.3077" stop-color="#78a7fa"/><stop offset="0.3462" stop-color="#6e74f8"/><stop offset="0.3846" stop-color="#5454f0"/><stop offset="0.4231" stop-color="#6065f6"/><stop offset="0.4615" stop-color="#6a8bf6"/><stop offset="0.5000" stop-color="#72cdf2"/><stop offset="0.5385" stop-color="#74f6c6"/><stop offset="0.5769" stop-color="#7efaa0"/><stop offset="0.6154" stop-color="#8dfa9d"/><stop offset="0.6538" stop-color="#7ffaa3"/><stop offset="0.6923" stop-color="#6ffab8"/><stop offset="0.7308" stop-color="#6cfabe"/></linearGradient>
<linearGradient id="r52" gradientUnits="userSpaceOnUse" x1="312" y1="0" x2="1976" y2="0"><stop offset="0.1538" stop-color="#86d7e2"/><stop offset="0.1923" stop-color="#71ccf3"/><stop offset="0.2308" stop-color="#7ac6f7"/><stop offset="0.2692" stop-color="#80c3f7"/><stop offset="0.3077" stop-color="#78b1fa"/><stop offset="0.3462" stop-color="#6e75f8"/><stop offset="0.3846" stop-color="#5353f0"/><stop offset="0.4231" stop-color="#6168f7"/><stop offset="0.4615" stop-color="#6b94f7"/><stop offset="0.5000" stop-color="#71d7f0"/><stop offset="0.5385" stop-color="#75f7be"/><stop offset="0.5769" stop-color="#7ffaa0"/><stop offset="0.6154" stop-color="#90fa9b"/><stop offset="0.6538" stop-color="#83fa9f"/><stop offset="0.6923" stop-color="#72fab7"/><stop offset="0.7308" stop-color="#6cfabe"/></linearGradient>
<linearGradient id="r53" gradientUnits="userSpaceOnUse" x1="312" y1="0" x2="1976" y2="0"><stop offset="0.1538" stop-color="#88dfde"/><stop offset="0.1923" stop-color="#70d3f2"/><stop offset="0.2308" stop-color="#79d1f6"/><stop offset="0.2692" stop-color="#81cff6"/><stop offset="0.3077" stop-color="#78bafa"/><stop offset="0.3462" stop-color="#6e76f9"/><stop offset="0.3846" stop-color="#5252f0"/><stop offset="0.4231" stop-color="#626af8"/><stop offset="0.4615" stop-color="#6c9df8"/><stop offset="0.5000" stop-color="#70e1ee"/><stop offset="0.5385" stop-color="#76f8b6"/><stop offset="0.5769" stop-color="#80faa0"/><stop offset="0.6154" stop-color="#92fa99"/><stop offset="0.6538" stop-color="#86fa9c"/><stop offset="0.6923" stop-color="#74fab6"/><stop offset="0.7308" stop-color="#6dfabe"/></linearGradient>
<linearGradient id="r54" gradientUnits="userSpaceOnUse" x1="312" y1="0" x2="1976" y2="0"><stop offset="0.1538" stop-color="#8be7d9"/><stop offset="0.1923" stop-color="#6fd9f1"/><stop offset="0.2308" stop-color="#78dcf5"/><stop offset="0.2692" stop-color="#82dbf5"/><stop offset="0.3077" stop-color="#78c3fa"/><stop offset="0.3462" stop-color="#6e77fa"/><stop offset="0.3846" stop-color="#5151f0"/><stop offset="0.4231" stop-color="#636df9"/><stop offset="0.4615" stop-color="#6da6f9"/><stop offset="0.5000" stop-color="#6febec"/><stop offset="0.5385" stop-color="#77f9ae"/><stop offset="0.5769" stop-color="#81faa0"/><stop offset="0.6154" stop-color="#95fa97"/><stop offset="0.6538" stop-color="#8afa98"/><stop offset="0.6923" stop-color="#77fab5"/><stop offset="0.7308" stop-color="#6efabe"/></linearGradient>
<linearGradient id="r55" gradientUnits="userSpaceOnUse" x1="312" y1="0" x2="1976" y2="0"><stop offset="0.1538" stop-color="#8eecd5"/><stop offset="0.1923" stop-color="#72deed"/><stop offset="0.2308" stop-color="#7ce3f1"/><stop offset="0.2692" stop-color="#84e3f2"/><stop offset="0.3077" stop-color="#79caf9"/><stop offset="0.3462" stop-color="#6e7cfa"/><stop offset="0.3846" stop-color="#5253f1"/><stop offset="0.4231" stop-color="#6572fa"/><stop offset="0.4615" stop-color="#6faef9"/><stop offset="0.5000" stop-color="#6ff1e8"/><stop offset="0.5385" stop-color="#77faa9"/><stop offset="0.5769" stop-color="#81fa9f"/><stop offset="0.6154" stop-color="#97fa95"/><stop offset="0.6538" stop-color="#8bfa97"/><stop offset="0.6923" stop-color="#78fab5"/><stop offset="0.7308" stop-color="#6dfabf"/></linearGradient>
<linearGradient id="r56" gradientUnits="userSpaceOnUse" x1="312" y1="0" x2="1976" y2="0"><stop offset="0.1538" stop-color="#92eed2"/><stop offset="0.1923" stop-color="#79e2e7"/><stop offset="0.2308" stop-color="#83e6e9"/><stop offset="0.2692" stop-color="#8ae6ed"/><stop offset="0.3077" stop-color="#7acff8"/><stop offset="0.3462" stop-color="#6e85fa"/><stop offset="0.3846" stop-color="#5659f2"/><stop offset="0.4231" stop-color="#6879fa"/><stop offset="0.4615" stop-color="#70b6f8"/><stop offset="0.5000" stop-color="#70f2e3"/><stop offset="0.5385" stop-color="#76faa6"/><stop offset="0.5769" stop-color="#80fa9e"/><stop offset="0.6154" stop-color="#98fa94"/><stop offset="0.6538" stop-color="#8afa9a"/><stop offset="0.6923" stop-color="#78fab6"/><stop offset="0.7308" stop-color="#6cfac0"/></linearGradient>
<linearGradient id="r57" gradientUnits="userSpaceOnUse" x1="312" y1="0" x2="1976" y2="0"><stop offset="0.1538" stop-color="#95f0cf"/><stop offset="0.1923" stop-color="#81e5e0"/><stop offset="0.2308" stop-color="#8be9e1"/><stop offset="0.2692" stop-color="#8ee9e7"/><stop offset="0.3077" stop-color="#7bd3f7"/><stop offset="0.3462" stop-color="#6e8efa"/><stop offset="0.3846" stop-color="#5960f3"/><stop offset="0.4231" stop-color="#6a81fa"/><stop offset="0.4615" stop-color="#71bef7"/><stop offset="0.5000" stop-color="#71f3dd"/><stop offset="0.5385" stop-color="#75faa4"/><stop offset="0.5769" stop-color="#7ffa9d"/><stop offset="0.6154" stop-color="#99fa93"/><stop offset="0.6538" stop-color="#89fa9c"/><stop offset="0.6923" stop-color="#78fab7"/><stop offset="0.7308" stop-color="#6bfac1"/><stop offset="0.7692" stop-color="#70fac0"/></linearGradient>
<linearGradient id="r58" gradientUnits="userSpaceOnUse" x1="312" y1="0" x2="1976" y2="0"><stop offset="0.1538" stop-color="#99f2cc"/><stop offset="0.1923" stop-color="#88e9da"/><stop offset="0.2308" stop-color="#92ecd9"/><stop offset="0.2692" stop-color="#94ece1"/><stop offset="0.3077" stop-color="#7cd7f6"/><stop offset="0.3462" stop-color="#6e97fa"/><stop offset="0.3846" stop-color="#5d66f4"/><stop offset="0.4231" stop-color="#6d88fa"/><stop offset="0.4615" stop-color="#72c6f6"/><stop offset="0.5000" stop-color="#72f4d7"/><stop offset="0.5385" stop-color="#74faa1"/><stop offset="0.5769" stop-color="#7efa9c"/><stop offset="0.6154" stop-color="#9afa92"/><stop offset="0.6538" stop-color="#88fa9f"/><stop offset="0.6923" stop-color="#78fab8"/><stop offset="0.7308" stop-color="#6afac2"/><stop offset="0.7692" stop-color="#70fac0"/></linearGradient>
<linearGradient id="r59" gradientUnits="userSpaceOnUse" x1="312" y1="0" x2="1976" y2="0"><stop offset="0.1154" stop-color="#b3f7ac"/><stop offset="0.1538" stop-color="#9df3c9"/><stop offset="0.1923" stop-color="#90edd4"/><stop offset="0.2308" stop-color="#9aefd0"/><stop offset="0.2692" stop-color="#98efdc"/><stop offset="0.3077" stop-color="#7edcf4"/><stop offset="0.3462" stop-color="#6e9ffa"/><stop offset="0.3846" stop-color="#616cf6"/><stop offset="0.4231" stop-color="#6f90fa"/><stop offset="0.4615" stop-color="#74cff4"/><stop offset="0.5000" stop-color="#74f6d2"/><stop offset="0.5385" stop-color="#72fa9f"/><stop offset="0.5769" stop-color="#7cfa9a"/><stop offset="0.6154" stop-color="#9cfa90"/><stop offset="0.6538" stop-color="#86faa1"/><stop offset="0.6923" stop-color="#78faba"/><stop offset="0.7308" stop-color="#68fac4"/><stop offset="0.7692" stop-color="#71fac1"/></linearGradient>
<linearGradient id="r60" gradientUnits="userSpaceOnUse" x1="312" y1="0" x2="1976" y2="0"><stop offset="0.1154" stop-color="#b6f8a9"/><stop offset="0.1538" stop-color="#a1f5c6"/><stop offset="0.1923" stop-color="#97f1ce"/><stop offset="0.2308" stop-color="#a1f2c8"/><stop offset="0.2692" stop-color="#9ef2d6"/><stop offset="0.3077" stop-color="#7fe0f3"/><stop offset="0.3462" stop-color="#6ea8fa"/><stop offset="0.3846" stop-color="#6572f7"/><stop offset="0.4231" stop-color="#7297fa"/><stop offset="0.4615" stop-color="#75d7f3"/><stop offset="0.5000" stop-color="#75f7cc"/><stop offset="0.5385" stop-color="#71fa9c"/><stop offset="0.5769" stop-color="#7bfa99"/><stop offset="0.6154" stop-color="#9dfa8f"/><stop offset="0.6538" stop-color="#85faa4"/><stop offset="0.6923" stop-color="#78fabb"/><stop offset="0.7308" stop-color="#67fac5"/><stop offset="0.7692" stop-color="#71fac1"/></linearGradient>
<linearGradient id="r61" gradientUnits="userSpaceOnUse" x1="312" y1="0" x2="1976" y2="0"><stop offset="0.1154" stop-color="#b9f9a5"/><stop offset="0.1538" stop-color="#a4f7c3"/><stop offset="0.1923" stop-color="#9ff4c7"/><stop offset="0.2308" stop-color="#a9f5c0"/><stop offset="0.2692" stop-color="#a2f5d0"/><stop offset="0.3077" stop-color="#80e4f2"/><stop offset="0.3462" stop-color="#6eb1fa"/><stop offset="0.3846" stop-color="#6879f8"/><stop offset="0.4231" stop-color="#749ffa"/><stop offset="0.4615" stop-color="#76dff2"/><stop offset="0.5000" stop-color="#76f8c6"/><stop offset="0.5385" stop-color="#70fa9a"/><stop offset="0.5769" stop-color="#7afa98"/><stop offset="0.6154" stop-color="#9efa8e"/><stop offset="0.6538" stop-color="#84faa6"/><stop offset="0.6923" stop-color="#78fabc"/><stop offset="0.7308" stop-color="#66fac6"/><stop offset="0.7692" stop-color="#72fac2"/></linearGradient>
<linearGradient id="r62" gradientUnits="userSpaceOnUse" x1="312" y1="0" x2="1976" y2="0"><stop offset="0.1154" stop-color="#bcfaa2"/><stop offset="0.1538" stop-color="#a8f9c0"/><stop offset="0.1923" stop-color="#a6f8c1"/><stop offset="0.2308" stop-color="#b0f8b8"/><stop offset="0.2692" stop-color="#a8f8cb"/><stop offset="0.3077" stop-color="#81e9f1"/><stop offset="0.3462" stop-color="#6ebafa"/><stop offset="0.3846" stop-color="#6c7ff9"/><stop offset="0.4231" stop-color="#77a6fa"/><stop offset="0.4615" stop-color="#77e7f1"/><stop offset="0.5000" stop-color="#77f9c1"/><stop offset="0.5385" stop-color="#6ffa97"/><stop offset="0.5769" stop-color="#79fa97"/><stop offset="0.6154" stop-color="#9ffa8d"/><stop offset="0.6538" stop-color="#83faa9"/><stop offset="0.6923" stop-color="#78fabd"/><stop offset="0.7308" stop-color="#65fac7"/><stop offset="0.7692" stop-color="#73fac3"/></linearGradient>
<linearGradient id="r63" gradientUnits="userSpaceOnUse" x1="312" y1="0" x2="1976" y2="0"><stop offset="0.1154" stop-color="#bffa9e"/><stop offset="0.1538" stop-color="#aefaba"/><stop offset="0.1923" stop-color="#aff9ba"/><stop offset="0.2308" stop-color="#b8f9b0"/><stop offset="0.2692" stop-color="#aefac2"/><stop offset="0.3077" stop-color="#86ecea"/><stop offset="0.3462" stop-color="#6fc1f9"/><stop offset="0.3846" stop-color="#7089f9"/><stop offset="0.4231" stop-color="#7baff6"/><stop offset="0.4615" stop-color="#7dece8"/><stop offset="0.5000" stop-color="#7cfaba"/><stop offset="0.5385" stop-color="#6ffa96"/><stop offset="0.5769" stop-color="#79fa97"/><stop offset="0.6154" stop-color="#9ffa8f"/><stop offset="0.6538" stop-color="#81f8af"/><stop offset="0.6923" stop-color="#77f8c2"/><stop offset="0.7308" stop-color="#65f9ca"/><stop offset="0.7692" stop-color="#74fac3"/></linearGradient>
<linearGradient id="r64" gradientUnits="userSpaceOnUse" x1="312" y1="0" x2="1976" y2="0"><stop offset="0.1154" stop-color="#c2fa9a"/><stop offset="0.1538" stop-color="#b5fab3"/><stop offset="0.1923" stop-color="#b9f7b1"/><stop offset="0.2308" stop-color="#c1f6a9"/><stop offset="0.2692" stop-color="#b5fab7"/><stop offset="0.3077" stop-color="#8feedf"/><stop offset="0.3462" stop-color="#72c7f7"/><stop offset="0.3846" stop-color="#7497f7"/><stop offset="0.4231" stop-color="#81b9ed"/><stop offset="0.4615" stop-color="#87eeda"/><stop offset="0.5000" stop-color="#85fab1"/><stop offset="0.5385" stop-color="#70fa96"/><stop offset="0.5769" stop-color="#7afa98"/><stop offset="0.6154" stop-color="#9cfa95"/><stop offset="0.6538" stop-color="#7ef2b9"/><stop offset="0.6923" stop-color="#74f2c9"/><stop offset="0.7308" stop-color="#66f8cf"/><stop offset="0.7692" stop-color="#76fac2"/></linearGradient>
<linearGradient id="r65" gradientUnits="userSpaceOnUse" x1="312" y1="0" x2="1976" y2="0"><stop offset="0.1154" stop-color="#c4fa97"/><stop offset="0.1538" stop-color="#bdfaab"/><stop offset="0.1923" stop-color="#c2f4a8"/><stop offset="0.2308" stop-color="#caf4a1"/><stop offset="0.2692" stop-color="#bdfaac"/><stop offset="0.3077" stop-color="#98f0d4"/><stop offset="0.3462" stop-color="#74cef5"/><stop offset="0.3846" stop-color="#77a4f5"/><stop offset="0.4231" stop-color="#88c3e4"/><stop offset="0.4615" stop-color="#91f0ca"/><stop offset="0.5000" stop-color="#8efaa8"/><stop offset="0.5385" stop-color="#71fa96"/><stop offset="0.5769" stop-color="#7bfa99"/><stop offset="0.6154" stop-color="#9afa9c"/><stop offset="0.6538" stop-color="#7ceec3"/><stop offset="0.6923" stop-color="#72eed1"/><stop offset="0.7308" stop-color="#67f7d3"/><stop offset="0.7692" stop-color="#78fac1"/></linearGradient>
<linearGradient id="r66" gradientUnits="userSpaceOnUse" x1="312" y1="0" x2="1976" y2="0"><stop offset="0.1154" stop-color="#c7fa93"/><stop offset="0.1538" stop-color="#c4faa4"/><stop offset="0.1923" stop-color="#ccf29f"/><stop offset="0.2308" stop-color="#d3f19a"/><stop offset="0.2692" stop-color="#c4faa1"/><stop offset="0.3077" stop-color="#a1f2c9"/><stop offset="0.3462" stop-color="#77d4f3"/><stop offset="0.3846" stop-color="#7bb2f3"/><stop offset="0.4231" stop-color="#8ecddb"/><stop offset="0.4615" stop-color="#9bf2bc"/><stop offset="0.5000" stop-color="#97fa9f"/><stop offset="0.5385" stop-color="#72fa96"/><stop offset="0.5769" stop-color="#7cfa9a"/><stop offset="0.6154" stop-color="#97faa2"/><stop offset="0.6538" stop-color="#79e8cd"/><stop offset="0.6923" stop-color="#6fe8d8"/><stop offset="0.7308" stop-color="#68f6d7"/><stop offset="0.7692" stop-color="#7afac1"/></linearGradient>
<linearGradient id="r67" gradientUnits="userSpaceOnUse" x1="312" y1="0" x2="1976" y2="0"><stop offset="0.1154" stop-color="#c9fa8f"/><stop offset="0.1538" stop-color="#ccfa9c"/><stop offset="0.1923" stop-color="#d6f097"/><stop offset="0.2308" stop-color="#dbef92"/><stop offset="0.2692" stop-color="#ccfa95"/><stop offset="0.3077" stop-color="#a9f3bd"/><stop offset="0.3462" stop-color="#79daf2"/><stop offset="0.3846" stop-color="#7fc0f2"/><stop offset="0.4231" stop-color="#94d7d3"/><stop offset="0.4615" stop-color="#a5f3ac"/><stop offset="0.5000" stop-color="#9ffa97"/><stop offset="0.5385" stop-color="#74fa96"/><stop offset="0.5769" stop-color="#7efa9c"/><stop offset="0.6154" stop-color="#95faa8"/><stop offset="0.6538" stop-color="#77e4d7"/><stop offset="0.6923" stop-color="#6de4e0"/><stop offset="0.7308" stop-color="#6af4dc"/><stop offset="0.7692" stop-color="#7bfac0"/></linearGradient>
<linearGradient id="r68" gradientUnits="userSpaceOnUse" x1="312" y1="0" x2="1976" y2="0"><stop offset="0.1154" stop-color="#ccfa8b"/><stop offset="0.1538" stop-color="#d3fa95"/><stop offset="0.1923" stop-color="#e0ee8e"/><stop offset="0.2308" stop-color="#e4ec8b"/><stop offset="0.2692" stop-color="#d3fa8a"/><stop offset="0.3077" stop-color="#b2f5b2"/><stop offset="0.3462" stop-color="#7ce0f0"/><stop offset="0.3846" stop-color="#83cef0"/><stop offset="0.4231" stop-color="#9ae1ca"/><stop offset="0.4615" stop-color="#aff59e"/><stop offset="0.5000" stop-color="#a8fa8e"/><stop offset="0.5385" stop-color="#75fa96"/><stop offset="0.5769" stop-color="#7ffa9d"/><stop offset="0.6154" stop-color="#92faae"/><stop offset="0.6538" stop-color="#74dee1"/><stop offset="0.6923" stop-color="#6adee7"/><stop offset="0.7308" stop-color="#6bf3e0"/><stop offset="0.7692" stop-color="#7dfac0"/></linearGradient>
<linearGradient id="r69" gradientUnits="userSpaceOnUse" x1="312" y1="0" x2="1976" y2="0"><stop offset="0.1154" stop-color="#cefa88"/><stop offset="0.1538" stop-color="#dbfa8d"/><stop offset="0.1923" stop-color="#e9eb85"/><stop offset="0.2308" stop-color="#edea83"/><stop offset="0.2692" stop-color="#dbfa7f"/><stop offset="0.3077" stop-color="#bbf7a7"/><stop offset="0.3462" stop-color="#7ee7ee"/><stop offset="0.3846" stop-color="#86dbee"/><stop offset="0.4231" stop-color="#a1ebc1"/><stop offset="0.4615" stop-color="#b9f78e"/><stop offset="0.5000" stop-color="#b1fa85"/><stop offset="0.5385" stop-color="#76fa96"/><stop offset="0.5769" stop-color="#80fa9e"/><stop offset="0.6154" stop-color="#90fab5"/><stop offset="0.6538" stop-color="#72daeb"/><stop offset="0.6923" stop-color="#68daef"/><stop offset="0.7308" stop-color="#6cf2e4"/><stop offset="0.7692" stop-color="#7ffabf"/></linearGradient>
<linearGradient id="r70" gradientUnits="userSpaceOnUse" x1="312" y1="0" x2="1976" y2="0"><stop offset="0.1154" stop-color="#d1fa84"/><stop offset="0.1538" stop-color="#e2fa86"/><stop offset="0.1923" stop-color="#f3e97c"/><stop offset="0.2308" stop-color="#f6e77c"/><stop offset="0.2692" stop-color="#e2fa74"/><stop offset="0.3077" stop-color="#c4f99c"/><stop offset="0.3462" stop-color="#81edec"/><stop offset="0.3846" stop-color="#8ae9ec"/><stop offset="0.4231" stop-color="#a7f5b8"/><stop offset="0.4615" stop-color="#c3f980"/><stop offset="0.5000" stop-color="#bafa7c"/><stop offset="0.5385" stop-color="#77fa96"/><stop offset="0.5769" stop-color="#81fa9f"/><stop offset="0.6154" stop-color="#8dfabb"/><stop offset="0.6538" stop-color="#6fd4f5"/><stop offset="0.6923" stop-color="#65d4f6"/><stop offset="0.7308" stop-color="#6df1e9"/><stop offset="0.7692" stop-color="#81fabe"/></linearGradient>
<linearGradient id="r71" gradientUnits="userSpaceOnUse" x1="312" y1="0" x2="1976" y2="0"><stop offset="0.1154" stop-color="#d4fa81"/><stop offset="0.1538" stop-color="#e8f781"/><stop offset="0.1923" stop-color="#f8e277"/><stop offset="0.2308" stop-color="#f9de77"/><stop offset="0.2692" stop-color="#e8f56d"/><stop offset="0.3077" stop-color="#cbf893"/><stop offset="0.3462" stop-color="#86f1e3"/><stop offset="0.3846" stop-color="#93f0df"/><stop offset="0.4231" stop-color="#aff8ac"/><stop offset="0.4615" stop-color="#cbf874"/><stop offset="0.5000" stop-color="#c1fa75"/><stop offset="0.5385" stop-color="#7cfa94"/><stop offset="0.5769" stop-color="#81faa2"/><stop offset="0.6154" stop-color="#8af9c1"/><stop offset="0.6538" stop-color="#6ccdfa"/><stop offset="0.6923" stop-color="#63cefa"/><stop offset="0.7308" stop-color="#6deeec"/><stop offset="0.7692" stop-color="#81fabf"/><stop offset="0.8077" stop-color="#82fab3"/></linearGradient>
<linearGradient id="r72" gradientUnits="userSpaceOnUse" x1="312" y1="0" x2="1976" y2="0"><stop offset="0.1154" stop-color="#d7fa7e"/><stop offset="0.1538" stop-color="#ebf17e"/><stop offset="0.1923" stop-color="#f8d776"/><stop offset="0.2308" stop-color="#f7d076"/><stop offset="0.2692" stop-color="#ebeb6c"/><stop offset="0.3077" stop-color="#d1f58d"/><stop offset="0.3462" stop-color="#8ff2d2"/><stop offset="0.3846" stop-color="#a0efc6"/><stop offset="0.4231" stop-color="#b9f29c"/><stop offset="0.4615" stop-color="#d2f26d"/><stop offset="0.5000" stop-color="#c8f96f"/><stop offset="0.5385" stop-color="#85fa8e"/><stop offset="0.5769" stop-color="#80faa6"/><stop offset="0.6154" stop-color="#86f6c8"/><stop offset="0.6538" stop-color="#66c3fa"/><stop offset="0.6923" stop-color="#60c7fa"/><stop offset="0.7308" stop-color="#6ae8ee"/><stop offset="0.7692" stop-color="#7efac2"/><stop offset="0.8077" stop-color="#82fab2"/></linearGradient>
<linearGradient id="r73" gradientUnits="userSpaceOnUse" x1="312" y1="0" x2="1976" y2="0"><stop offset="0.0769" stop-color="#d4fa77"/><stop offset="0.1154" stop-color="#dafa7c"/><stop offset="0.1538" stop-color="#eeea7c"/><stop offset="0.1923" stop-color="#f9cb75"/><stop offset="0.2308" stop-color="#f5c075"/><stop offset="0.2692" stop-color="#eee16b"/><stop offset="0.3077" stop-color="#d8f286"/><stop offset="0.3462" stop-color="#98f3c1"/><stop offset="0.3846" stop-color="#adeeae"/><stop offset="0.4231" stop-color="#c3ee8b"/><stop offset="0.4615" stop-color="#d9ee65"/><stop offset="0.5000" stop-color="#cff868"/><stop offset="0.5385" stop-color="#8efa8a"/><stop offset="0.5769" stop-color="#7ffaa9"/><stop offset="0.6154" stop-color="#83f4cf"/><stop offset="0.6538" stop-color="#62b9fa"/><stop offset="0.6923" stop-color="#5ebffa"/><stop offset="0.7308" stop-color="#68e4f0"/><stop offset="0.7692" stop-color="#7cfac4"/><stop offset="0.8077" stop-color="#82fab1"/></linearGradient>
<linearGradient id="r74" gradientUnits="userSpaceOnUse" x1="312" y1="0" x2="1976" y2="0"><stop offset="0.0769" stop-color="#d5fa73"/><stop offset="0.1154" stop-color="#ddfa79"/><stop offset="0.1538" stop-color="#f1e479"/><stop offset="0.1923" stop-color="#f9c074"/><stop offset="0.2308" stop-color="#f3b274"/><stop offset="0.2692" stop-color="#f1d76a"/><stop offset="0.3077" stop-color="#deef80"/><stop offset="0.3462" stop-color="#a1f4b0"/><stop offset="0.3846" stop-color="#baee96"/><stop offset="0.4231" stop-color="#cde87b"/><stop offset="0.4615" stop-color="#e0e85e"/><stop offset="0.5000" stop-color="#d6f862"/><stop offset="0.5385" stop-color="#97fa84"/><stop offset="0.5769" stop-color="#7efaad"/><stop offset="0.6154" stop-color="#7ff1d6"/><stop offset="0.6538" stop-color="#5caffa"/><stop offset="0.6923" stop-color="#5bb8fa"/><stop offset="0.7308" stop-color="#65def2"/><stop offset="0.7692" stop-color="#79fac7"/><stop offset="0.8077" stop-color="#82fab0"/></linearGradient>
<linearGradient id="r75" gradientUnits="userSpaceOnUse" x1="312" y1="0" x2="1976" y2="0"><stop offset="0.0769" stop-color="#d6fa6e"/><stop offset="0.1154" stop-color="#e0fa77"/><stop offset="0.1538" stop-color="#f4de77"/><stop offset="0.1923" stop-color="#f9b472"/><stop offset="0.2308" stop-color="#f2a272"/><stop offset="0.2692" stop-color="#f4cd68"/><stop offset="0.3077" stop-color="#e4ec7a"/><stop offset="0.3462" stop-color="#a9f69f"/><stop offset="0.3846" stop-color="#c7ed7d"/><stop offset="0.4231" stop-color="#d7e46b"/><stop offset="0.4615" stop-color="#e7e456"/><stop offset="0.5000" stop-color="#ddf75c"/><stop offset="0.5385" stop-color="#9ffa80"/><stop offset="0.5769" stop-color="#7cfab1"/><stop offset="0.6154" stop-color="#7befdd"/><stop offset="0.6538" stop-color="#58a5fa"/><stop offset="0.6923" stop-color="#59b0fa"/><stop offset="0.7308" stop-color="#63daf3"/><stop offset="0.7692" stop-color="#77fac9"/><stop offset="0.8077" stop-color="#82faae"/></linearGradient>
<linearGradient id="r76" gradientUnits="userSpaceOnUse" x1="312" y1="0" x2="1976" y2="0"><stop offset="0.0769" stop-color="#d7fa6a"/><stop offset="0.1154" stop-color="#e3fa74"/><stop offset="0.1538" stop-color="#f7d874"/><stop offset="0.1923" stop-color="#f9a971"/><stop offset="0.2308" stop-color="#f09471"/><stop offset="0.2692" stop-color="#f7c367"/><stop offset="0.3077" stop-color="#eae974"/><stop offset="0.3462" stop-color="#b2f78e"/><stop offset="0.3846" stop-color="#d4ed65"/><stop offset="0.4231" stop-color="#e1de5b"/><stop offset="0.4615" stop-color="#eede4f"/><stop offset="0.5000" stop-color="#e4f756"/><stop offset="0.5385" stop-color="#a8fa7a"/><stop offset="0.5769" stop-color="#7bfab5"/><stop offset="0.6154" stop-color="#77ece4"/><stop offset="0.6538" stop-color="#529bfa"/><stop offset="0.6923" stop-color="#56a9fa"/><stop offset="0.7308" stop-color="#60d4f5"/><stop offset="0.7692" stop-color="#74facc"/><stop offset="0.8077" stop-color="#82faad"/></linearGradient>
<linearGradient id="r77" gradientUnits="userSpaceOnUse" x1="312" y1="0" x2="1976" y2="0"><stop offset="0.0769" stop-color="#d8fa66"/><stop offset="0.1154" stop-color="#e6fa72"/><stop offset="0.1538" stop-color="#fad172"/><stop offset="0.1923" stop-color="#fa9d70"/><stop offset="0.2308" stop-color="#ee8470"/><stop offset="0.2692" stop-color="#fab966"/><stop offset="0.3077" stop-color="#f1e66d"/><stop offset="0.3462" stop-color="#bbf87d"/><stop offset="0.3846" stop-color="#e1ec4d"/><stop offset="0.4231" stop-color="#ebda4a"/><stop offset="0.4615" stop-color="#f5da47"/><stop offset="0.5000" stop-color="#ebf64f"/><stop offset="0.5385" stop-color="#b1fa76"/><stop offset="0.5769" stop-color="#7afab8"/><stop offset="0.6154" stop-color="#74eaeb"/><stop offset="0.6538" stop-color="#4e91fa"/><stop offset="0.6923" stop-color="#54a1fa"/><stop offset="0.7308" stop-color="#5ed0f7"/><stop offset="0.7692" stop-color="#72face"/><stop offset="0.8077" stop-color="#82faac"/></linearGradient>
<linearGradient id="r78" gradientUnits="userSpaceOnUse" x1="312" y1="0" x2="1976" y2="0"><stop offset="0.0769" stop-color="#d9fa61"/><stop offset="0.1154" stop-color="#e9fa6f"/><stop offset="0.1538" stop-color="#fdcb6f"/><stop offset="0.1923" stop-color="#fa926f"/><stop offset="0.2308" stop-color="#ec766f"/><stop offset="0.2692" stop-color="#fdaf65"/><stop offset="0.3077" stop-color="#f7e367"/><stop offset="0.3462" stop-color="#c4f96c"/><stop offset="0.3846" stop-color="#eeeb34"/><stop offset="0.4231" stop-color="#f5d43a"/><stop offset="0.4615" stop-color="#fcd440"/><stop offset="0.5000" stop-color="#f2f549"/><stop offset="0.5385" stop-color="#bafa70"/><stop offset="0.5769" stop-color="#79fabc"/><stop offset="0.6154" stop-color="#70e7f2"/><stop offset="0.6538" stop-color="#4887fa"/><stop offset="0.6923" stop-color="#519afa"/><stop offset="0.7308" stop-color="#5bcaf9"/><stop offset="0.7692" stop-color="#6ffad1"/><stop offset="0.8077" stop-color="#82faab"/></linearGradient>
<linearGradient id="r79" gradientUnits="userSpaceOnUse" x1="312" y1="0" x2="1976" y2="0"><stop offset="0.0769" stop-color="#d8fa5e"/><stop offset="0.1154" stop-color="#ebfa6c"/><stop offset="0.1538" stop-color="#ffc76d"/><stop offset="0.1923" stop-color="#f98a6d"/><stop offset="0.2308" stop-color="#ec6f6d"/><stop offset="0.2692" stop-color="#ffab64"/><stop offset="0.3077" stop-color="#f9e262"/><stop offset="0.3462" stop-color="#cafa60"/><stop offset="0.3846" stop-color="#f6eb26"/><stop offset="0.4231" stop-color="#fad130"/><stop offset="0.4615" stop-color="#ffd33e"/><stop offset="0.5000" stop-color="#f4f549"/><stop offset="0.5385" stop-color="#bdfa71"/><stop offset="0.5769" stop-color="#78fac0"/><stop offset="0.6154" stop-color="#6ee7f4"/><stop offset="0.6538" stop-color="#4785fa"/><stop offset="0.6923" stop-color="#5096fa"/><stop offset="0.7308" stop-color="#5ac9fa"/><stop offset="0.7692" stop-color="#6efad3"/><stop offset="0.8077" stop-color="#81f9ae"/></linearGradient>
<linearGradient id="r80" gradientUnits="userSpaceOnUse" x1="312" y1="0" x2="1976" y2="0"><stop offset="0.0769" stop-color="#d6fa5c"/><stop offset="0.1154" stop-color="#ebf966"/><stop offset="0.1538" stop-color="#ffc56c"/><stop offset="0.1923" stop-color="#f7846c"/><stop offset="0.2308" stop-color="#ed706c"/><stop offset="0.2692" stop-color="#ffae64"/><stop offset="0.3077" stop-color="#f7e55c"/><stop offset="0.3462" stop-color="#cdfb57"/><stop offset="0.3846" stop-color="#f7eb20"/><stop offset="0.4231" stop-color="#fbce2a"/><stop offset="0.4615" stop-color="#ffd442"/><stop offset="0.5000" stop-color="#f2f64f"/><stop offset="0.5385" stop-color="#bafa77"/><stop offset="0.5769" stop-color="#78fac4"/><stop offset="0.6154" stop-color="#6ee9f3"/><stop offset="0.6538" stop-color="#4a8bfa"/><stop offset="0.6923" stop-color="#5096fa"/><stop offset="0.7308" stop-color="#5acafa"/><stop offset="0.7692" stop-color="#6ef9d4"/><stop offset="0.8077" stop-color="#7ef6b7"/></linearGradient>
<linearGradient id="r81" gradientUnits="userSpaceOnUse" x1="312" y1="0" x2="1976" y2="0"><stop offset="0.0769" stop-color="#d4fa5a"/><stop offset="0.1154" stop-color="#ebf862"/><stop offset="0.1538" stop-color="#ffc36b"/><stop offset="0.1923" stop-color="#f5806b"/><stop offset="0.2308" stop-color="#ee716b"/><stop offset="0.2692" stop-color="#ffb064"/><stop offset="0.3077" stop-color="#f5e758"/><stop offset="0.3462" stop-color="#d0fc4e"/><stop offset="0.3846" stop-color="#f8eb1c"/><stop offset="0.4231" stop-color="#fccc26"/><stop offset="0.4615" stop-color="#ffd545"/><stop offset="0.5000" stop-color="#f0f756"/><stop offset="0.5385" stop-color="#b8fa7e"/><stop offset="0.5769" stop-color="#78fac7"/><stop offset="0.6154" stop-color="#6eebf2"/><stop offset="0.6538" stop-color="#4c92fa"/><stop offset="0.6923" stop-color="#5096fa"/><stop offset="0.7308" stop-color="#5acbfa"/><stop offset="0.7692" stop-color="#6ef8d5"/><stop offset="0.8077" stop-color="#7cf4c0"/></linearGradient>
<linearGradient id="r82" gradientUnits="userSpaceOnUse" x1="312" y1="0" x2="1976" y2="0"><stop offset="0.0769" stop-color="#d2fa58"/><stop offset="0.1154" stop-color="#ebf85c"/><stop offset="0.1538" stop-color="#ffc16a"/><stop offset="0.1923" stop-color="#f37a6a"/><stop offset="0.2308" stop-color="#ef726a"/><stop offset="0.2692" stop-color="#ffb364"/><stop offset="0.3077" stop-color="#f3ea52"/><stop offset="0.3462" stop-color="#d3fc45"/><stop offset="0.3846" stop-color="#f9eb16"/><stop offset="0.4231" stop-color="#fcc920"/><stop offset="0.4615" stop-color="#ffd649"/><stop offset="0.5000" stop-color="#eef75c"/><stop offset="0.5385" stop-color="#b5fa84"/><stop offset="0.5769" stop-color="#78facb"/><stop offset="0.6154" stop-color="#6eedf1"/><stop offset="0.6538" stop-color="#4f98fa"/><stop offset="0.6923" stop-color="#5096fa"/><stop offset="0.7308" stop-color="#5accfa"/><stop offset="0.7692" stop-color="#6ef8d6"/><stop offset="0.8077" stop-color="#79f1c9"/></linearGradient>
<linearGradient id="r83" gradientUnits="userSpaceOnUse" x1="312" y1="0" x2="1976" y2="0"><stop offset="0.0769" stop-color="#d0fa57"/><stop offset="0.1154" stop-color="#ebf758"/><stop offset="0.1538" stop-color="#ffc068"/><stop offset="0.1923" stop-color="#f27668"/><stop offset="0.2308" stop-color="#f17468"/><stop offset="0.2692" stop-color="#ffb564"/><stop offset="0.3077" stop-color="#f2ec4e"/><stop offset="0.3462" stop-color="#d6fd3d"/><stop offset="0.3846" stop-color="#fbeb12"/><stop offset="0.4231" stop-color="#fdc71c"/><stop offset="0.4615" stop-color="#ffd84d"/><stop offset="0.5000" stop-color="#edf862"/><stop offset="0.5385" stop-color="#b3fa8a"/><stop offset="0.5769" stop-color="#78facf"/><stop offset="0.6154" stop-color="#6eeeef"/><stop offset="0.6538" stop-color="#519efa"/><stop offset="0.6923" stop-color="#5096fa"/><stop offset="0.7308" stop-color="#5acefa"/><stop offset="0.7692" stop-color="#6ef7d8"/><stop offset="0.8077" stop-color="#77efd1"/></linearGradient>
<linearGradient id="r84" gradientUnits="userSpaceOnUse" x1="312" y1="0" x2="1976" y2="0"><stop offset="0.0769" stop-color="#cdfa55"/><stop offset="0.1154" stop-color="#ebf752"/><stop offset="0.1538" stop-color="#ffbe67"/><stop offset="0.1923" stop-color="#f07067"/><stop offset="0.2308" stop-color="#f27567"/><stop offset="0.2692" stop-color="#ffb864"/><stop offset="0.3077" stop-color="#f0ef48"/><stop offset="0.3462" stop-color="#d9fd34"/><stop offset="0.3846" stop-color="#fceb0c"/><stop offset="0.4231" stop-color="#fdc416"/><stop offset="0.4615" stop-color="#ffd951"/><stop offset="0.5000" stop-color="#ebf868"/><stop offset="0.5385" stop-color="#b0fa90"/><stop offset="0.5769" stop-color="#78fad3"/><stop offset="0.6154" stop-color="#6ef0ee"/><stop offset="0.6538" stop-color="#54a4fa"/><stop offset="0.6923" stop-color="#5096fa"/><stop offset="0.7308" stop-color="#5acffa"/><stop offset="0.7692" stop-color="#6ef7d9"/><stop offset="0.8077" stop-color="#74ecda"/></linearGradient>
<linearGradient id="r85" gradientUnits="userSpaceOnUse" x1="312" y1="0" x2="1976" y2="0"><stop offset="0.0769" stop-color="#cbfa53"/><stop offset="0.1154" stop-color="#ebf64e"/><stop offset="0.1538" stop-color="#ffbc66"/><stop offset="0.1923" stop-color="#ee6c66"/><stop offset="0.2308" stop-color="#f37666"/><stop offset="0.2692" stop-color="#ffba64"/><stop offset="0.3077" stop-color="#eef144"/><stop offset="0.3462" stop-color="#dcfe2b"/><stop offset="0.3846" stop-color="#fdeb08"/><stop offset="0.4231" stop-color="#fec212"/><stop offset="0.4615" stop-color="#ffda54"/><stop offset="0.5000" stop-color="#e9f96f"/><stop offset="0.5385" stop-color="#aefa97"/><stop offset="0.5769" stop-color="#78fad6"/><stop offset="0.6154" stop-color="#6ef2ed"/><stop offset="0.6538" stop-color="#56abfa"/><stop offset="0.6923" stop-color="#5096fa"/><stop offset="0.7308" stop-color="#5ad0fa"/><stop offset="0.7692" stop-color="#6ef6da"/><stop offset="0.8077" stop-color="#72eae3"/><stop offset="0.8462" stop-color="#66b5e7"/></linearGradient>
<linearGradient id="r86" gradientUnits="userSpaceOnUse" x1="312" y1="0" x2="1976" y2="0"><stop offset="0.0769" stop-color="#c9fa51"/><stop offset="0.1154" stop-color="#ebf548"/><stop offset="0.1538" stop-color="#ffba65"/><stop offset="0.1923" stop-color="#ec6665"/><stop offset="0.2308" stop-color="#f47765"/><stop offset="0.2692" stop-color="#ffbd64"/><stop offset="0.3077" stop-color="#ecf43e"/><stop offset="0.3462" stop-color="#dfff22"/><stop offset="0.3846" stop-color="#feeb02"/><stop offset="0.4231" stop-color="#ffbf0c"/><stop offset="0.4615" stop-color="#ffdb58"/><stop offset="0.5000" stop-color="#e7fa75"/><stop offset="0.5385" stop-color="#abfa9d"/><stop offset="0.5769" stop-color="#78fada"/><stop offset="0.6154" stop-color="#6ef4ec"/><stop offset="0.6538" stop-color="#59b1fa"/><stop offset="0.6923" stop-color="#5096fa"/><stop offset="0.7308" stop-color="#5ad1fa"/><stop offset="0.7692" stop-color="#6ef5db"/><stop offset="0.8077" stop-color="#6fe7ec"/><stop offset="0.8462" stop-color="#61aaf0"/></linearGradient>
<linearGradient id="r87" gradientUnits="userSpaceOnUse" x1="312" y1="0" x2="1976" y2="0"><stop offset="0.0385" stop-color="#c9fa4e"/><stop offset="0.0769" stop-color="#c9fa4f"/><stop offset="0.1154" stop-color="#ecf345"/><stop offset="0.1538" stop-color="#ffb763"/><stop offset="0.1923" stop-color="#eb6363"/><stop offset="0.2308" stop-color="#f67a64"/><stop offset="0.2692" stop-color="#fec062"/><stop offset="0.3077" stop-color="#eaf53b"/><stop offset="0.3462" stop-color="#e2ff1d"/><stop offset="0.3846" stop-color="#ffeb00"/><stop offset="0.4231" stop-color="#ffc00d"/><stop offset="0.4615" stop-color="#fdde5c"/><stop offset="0.5000" stop-color="#e2fa7c"/><stop offset="0.5385" stop-color="#a6f8a6"/><stop offset="0.5769" stop-color="#79fadc"/><stop offset="0.6154" stop-color="#70f5e8"/><stop offset="0.6538" stop-color="#5bb7f9"/><stop offset="0.6923" stop-color="#519bf9"/><stop offset="0.7308" stop-color="#5ad4f9"/><stop offset="0.7692" stop-color="#6df4dd"/><stop offset="0.8077" stop-color="#6de2f1"/><stop offset="0.8462" stop-color="#5ea1f5"/></linearGradient>
<linearGradient id="r88" gradientUnits="userSpaceOnUse" x1="312" y1="0" x2="1976" y2="0"><stop offset="0.0385" stop-color="#cbfa4b"/><stop offset="0.0769" stop-color="#ccfa4c"/><stop offset="0.1154" stop-color="#efee44"/><stop offset="0.1538" stop-color="#ffb260"/><stop offset="0.1923" stop-color="#ec6262"/><stop offset="0.2308" stop-color="#f77e64"/><stop offset="0.2692" stop-color="#fdc65e"/><stop offset="0.3077" stop-color="#e7f63a"/><stop offset="0.3462" stop-color="#e3fe1c"/><stop offset="0.3846" stop-color="#ffeb00"/><stop offset="0.4231" stop-color="#ffc313"/><stop offset="0.4615" stop-color="#fae262"/><stop offset="0.5000" stop-color="#dbfa85"/><stop offset="0.5385" stop-color="#9ff4b1"/><stop offset="0.5769" stop-color="#7af9dc"/><stop offset="0.6154" stop-color="#76f6e3"/><stop offset="0.6538" stop-color="#5ebef8"/><stop offset="0.6923" stop-color="#54a6f8"/><stop offset="0.7308" stop-color="#5ad8f7"/><stop offset="0.7692" stop-color="#6cf3e0"/><stop offset="0.8077" stop-color="#6adbf2"/><stop offset="0.8462" stop-color="#5c99f6"/></linearGradient>
<linearGradient id="r89" gradientUnits="userSpaceOnUse" x1="312" y1="0" x2="1976" y2="0"><stop offset="0.0385" stop-color="#cdfa48"/><stop offset="0.0769" stop-color="#cefa4a"/><stop offset="0.1154" stop-color="#f1ea43"/><stop offset="0.1538" stop-color="#ffae5e"/><stop offset="0.1923" stop-color="#ed6161"/><stop offset="0.2308" stop-color="#f88164"/><stop offset="0.2692" stop-color="#fcca5b"/><stop offset="0.3077" stop-color="#e5f739"/><stop offset="0.3462" stop-color="#e4fd1b"/><stop offset="0.3846" stop-color="#ffeb00"/><stop offset="0.4231" stop-color="#ffc61a"/><stop offset="0.4615" stop-color="#f7e566"/><stop offset="0.5000" stop-color="#d3fa8e"/><stop offset="0.5385" stop-color="#97f1bc"/><stop offset="0.5769" stop-color="#7bf8dc"/><stop offset="0.6154" stop-color="#7af7dd"/><stop offset="0.6538" stop-color="#60c5f7"/><stop offset="0.6923" stop-color="#56b1f7"/><stop offset="0.7308" stop-color="#5adbf5"/><stop offset="0.7692" stop-color="#6bf2e2"/><stop offset="0.8077" stop-color="#68d3f3"/><stop offset="0.8462" stop-color="#5a91f7"/></linearGradient>
<linearGradient id="r90" gradientUnits="userSpaceOnUse" x1="312" y1="0" x2="1976" y2="0"><stop offset="0.0385" stop-color="#d0fa45"/><stop offset="0.0769" stop-color="#d1fa47"/><stop offset="0.1154" stop-color="#f4e642"/><stop offset="0.1538" stop-color="#ffaa5b"/><stop offset="0.1923" stop-color="#ed6060"/><stop offset="0.2308" stop-color="#f98564"/><stop offset="0.2692" stop-color="#fbd057"/><stop offset="0.3077" stop-color="#e2f738"/><stop offset="0.3462" stop-color="#e5fd1a"/><stop offset="0.3846" stop-color="#ffeb00"/><stop offset="0.4231" stop-color="#ffc920"/><stop offset="0.4615" stop-color="#f4e96c"/><stop offset="0.5000" stop-color="#ccfa97"/><stop offset="0.5385" stop-color="#90edc7"/><stop offset="0.5769" stop-color="#7cf8dc"/><stop offset="0.6154" stop-color="#80f7d7"/><stop offset="0.6538" stop-color="#63ccf6"/><stop offset="0.6923" stop-color="#59bbf6"/><stop offset="0.7308" stop-color="#5adff3"/><stop offset="0.7692" stop-color="#6af1e5"/><stop offset="0.8077" stop-color="#65ccf4"/><stop offset="0.8462" stop-color="#5889f7"/></linearGradient>
<linearGradient id="r91" gradientUnits="userSpaceOnUse" x1="312" y1="0" x2="1976" y2="0"><stop offset="0.0385" stop-color="#d2fa42"/><stop offset="0.0769" stop-color="#d3fa45"/><stop offset="0.1154" stop-color="#f6e140"/><stop offset="0.1538" stop-color="#ffa559"/><stop offset="0.1923" stop-color="#ee5e5e"/><stop offset="0.2308" stop-color="#fb8964"/><stop offset="0.2692" stop-color="#f9d453"/><stop offset="0.3077" stop-color="#e0f836"/><stop offset="0.3462" stop-color="#e7fc18"/><stop offset="0.3846" stop-color="#ffeb00"/><stop offset="0.4231" stop-color="#ffcc26"/><stop offset="0.4615" stop-color="#f1ed70"/><stop offset="0.5000" stop-color="#c4fa9f"/><stop offset="0.5385" stop-color="#88e9d3"/><stop offset="0.5769" stop-color="#7ef7dc"/><stop offset="0.6154" stop-color="#84f8d2"/><stop offset="0.6538" stop-color="#65d3f4"/><stop offset="0.6923" stop-color="#5bc6f4"/><stop offset="0.7308" stop-color="#5ae3f2"/><stop offset="0.7692" stop-color="#68efe7"/><stop offset="0.8077" stop-color="#63c4f6"/><stop offset="0.8462" stop-color="#5780f8"/></linearGradient>
<linearGradient id="r92" gradientUnits="userSpaceOnUse" x1="312" y1="0" x2="1976" y2="0"><stop offset="0.0385" stop-color="#d4fa3f"/><stop offset="0.0769" stop-color="#d6fa42"/><stop offset="0.1154" stop-color="#f9dd3f"/><stop offset="0.1538" stop-color="#ffa156"/><stop offset="0.1923" stop-color="#ee5d5d"/><stop offset="0.2308" stop-color="#fc8d64"/><stop offset="0.2692" stop-color="#f8da4f"/><stop offset="0.3077" stop-color="#ddf835"/><stop offset="0.3462" stop-color="#e8fc17"/><stop offset="0.3846" stop-color="#ffeb00"/><stop offset="0.4231" stop-color="#ffcf2c"/><stop offset="0.4615" stop-color="#eef176"/><stop offset="0.5000" stop-color="#bdfaa8"/><stop offset="0.5385" stop-color="#81e5de"/><stop offset="0.5769" stop-color="#7ff7dc"/><stop offset="0.6154" stop-color="#8af8cc"/><stop offset="0.6538" stop-color="#68daf3"/><stop offset="0.6923" stop-color="#5ed0f3"/><stop offset="0.7308" stop-color="#5ae7f0"/><stop offset="0.7692" stop-color="#67eeea"/><stop offset="0.8077" stop-color="#60bdf7"/><stop offset="0.8462" stop-color="#5578f8"/></linearGradient>
<linearGradient id="r93" gradientUnits="userSpaceOnUse" x1="312" y1="0" x2="1976" y2="0"><stop offset="0.0385" stop-color="#d6fa3c"/><stop offset="0.0769" stop-color="#d8fa40"/><stop offset="0.1154" stop-color="#fbd93e"/><stop offset="0.1538" stop-color="#ff9d54"/><stop offset="0.1923" stop-color="#ef5c5c"/><stop offset="0.2308" stop-color="#fd9064"/><stop offset="0.2692" stop-color="#f7de4c"/><stop offset="0.3077" stop-color="#dbf934"/><stop offset="0.3462" stop-color="#e9fb16"/><stop offset="0.3846" stop-color="#ffeb00"/><stop offset="0.4231" stop-color="#ffd233"/><stop offset="0.4615" stop-color="#ebf47a"/><stop offset="0.5000" stop-color="#b5fab1"/><stop offset="0.5385" stop-color="#79e2e9"/><stop offset="0.5769" stop-color="#80f6dc"/><stop offset="0.6154" stop-color="#8ef9c6"/><stop offset="0.6538" stop-color="#6ae1f2"/><stop offset="0.6923" stop-color="#60dbf2"/><stop offset="0.7308" stop-color="#5aeaee"/><stop offset="0.7692" stop-color="#66edec"/><stop offset="0.8077" stop-color="#5eb5f8"/><stop offset="0.8462" stop-color="#5370f9"/></linearGradient>
<linearGradient id="r94" gradientUnits="userSpaceOnUse" x1="312" y1="0" x2="1976" y2="0"><stop offset="0.0385" stop-color="#d8fa39"/><stop offset="0.0769" stop-color="#dbfa3d"/><stop offset="0.1154" stop-color="#fed43d"/><stop offset="0.1538" stop-color="#ff9851"/><stop offset="0.1923" stop-color="#f05b5b"/><stop offset="0.2308" stop-color="#fe9464"/><stop offset="0.2692" stop-color="#f6e448"/><stop offset="0.3077" stop-color="#d8fa33"/><stop offset="0.3462" stop-color="#eafa15"/><stop offset="0.3846" stop-color="#ffeb00"/><stop offset="0.4231" stop-color="#ffd539"/><stop offset="0.4615" stop-color="#e8f880"/><stop offset="0.5000" stop-color="#aefaba"/><stop offset="0.5385" stop-color="#72def4"/><stop offset="0.5769" stop-color="#81f5dc"/><stop offset="0.6154" stop-color="#94fac1"/><stop offset="0.6538" stop-color="#6de8f1"/><stop offset="0.6923" stop-color="#63e6f1"/><stop offset="0.7308" stop-color="#5aeeec"/><stop offset="0.7692" stop-color="#65ecef"/><stop offset="0.8077" stop-color="#5baef9"/><stop offset="0.8462" stop-color="#5168fa"/></linearGradient>
<linearGradient id="r95" gradientUnits="userSpaceOnUse" x1="312" y1="0" x2="1976" y2="0"><stop offset="0.0385" stop-color="#d9fa37"/><stop offset="0.0769" stop-color="#def93c"/><stop offset="0.1154" stop-color="#ffd03c"/><stop offset="0.1538" stop-color="#ff944e"/><stop offset="0.1923" stop-color="#f15e58"/><stop offset="0.2308" stop-color="#ff9962"/><stop offset="0.2692" stop-color="#f4e746"/><stop offset="0.3077" stop-color="#d6fa33"/><stop offset="0.3462" stop-color="#ebfa15"/><stop offset="0.3846" stop-color="#ffec02"/><stop offset="0.4231" stop-color="#fdd93f"/><stop offset="0.4615" stop-color="#e2fa86"/><stop offset="0.5000" stop-color="#a6f6c2"/><stop offset="0.5385" stop-color="#6edbfa"/><stop offset="0.5769" stop-color="#82f5dc"/><stop offset="0.6154" stop-color="#97fabd"/><stop offset="0.6538" stop-color="#71ecea"/><stop offset="0.6923" stop-color="#67eceb"/><stop offset="0.7308" stop-color="#5cf1e9"/><stop offset="0.7692" stop-color="#65e9f1"/><stop offset="0.8077" stop-color="#5ba9fa"/><stop offset="0.8462" stop-color="#5265fa"/></linearGradient>
<linearGradient id="r96" gradientUnits="userSpaceOnUse" x1="312" y1="0" x2="1976" y2="0"><stop offset="0.0385" stop-color="#d9fa36"/><stop offset="0.0769" stop-color="#e1f83c"/><stop offset="0.1154" stop-color="#ffca3c"/><stop offset="0.1538" stop-color="#ff8e4a"/><stop offset="0.1923" stop-color="#f36554"/><stop offset="0.2308" stop-color="#ff9f5c"/><stop offset="0.2692" stop-color="#f3e946"/><stop offset="0.3077" stop-color="#d4fa36"/><stop offset="0.3462" stop-color="#ecfa18"/><stop offset="0.3846" stop-color="#feed06"/><stop offset="0.4231" stop-color="#fade45"/><stop offset="0.4615" stop-color="#dbfa8d"/><stop offset="0.5000" stop-color="#9fedc9"/><stop offset="0.5385" stop-color="#6ed8fa"/><stop offset="0.5769" stop-color="#82f5dc"/><stop offset="0.6154" stop-color="#9afaba"/><stop offset="0.6538" stop-color="#78eedd"/><stop offset="0.6923" stop-color="#6deee1"/><stop offset="0.7308" stop-color="#60f2e4"/><stop offset="0.7692" stop-color="#66e4f2"/><stop offset="0.8077" stop-color="#5ca6fa"/><stop offset="0.8462" stop-color="#5666f9"/></linearGradient>
<linearGradient id="r97" gradientUnits="userSpaceOnUse" x1="312" y1="0" x2="1976" y2="0"><stop offset="0.0385" stop-color="#d9fa35"/><stop offset="0.0769" stop-color="#e4f73c"/><stop offset="0.1154" stop-color="#ffc63c"/><stop offset="0.1538" stop-color="#ff8a47"/><stop offset="0.1923" stop-color="#f56d51"/><stop offset="0.2308" stop-color="#ffa658"/><stop offset="0.2692" stop-color="#f2eb46"/><stop offset="0.3077" stop-color="#d2fa38"/><stop offset="0.3462" stop-color="#edfa1a"/><stop offset="0.3846" stop-color="#fdee09"/><stop offset="0.4231" stop-color="#f7e24c"/><stop offset="0.4615" stop-color="#d3fa95"/><stop offset="0.5000" stop-color="#97e4d1"/><stop offset="0.5385" stop-color="#6ed6fa"/><stop offset="0.5769" stop-color="#82f5dc"/><stop offset="0.6154" stop-color="#9cfab8"/><stop offset="0.6538" stop-color="#7ff0d1"/><stop offset="0.6923" stop-color="#74f0d7"/><stop offset="0.7308" stop-color="#63f3e0"/><stop offset="0.7692" stop-color="#67e0f3"/><stop offset="0.8077" stop-color="#5da4fa"/><stop offset="0.8462" stop-color="#5967f8"/></linearGradient>
<linearGradient id="r98" gradientUnits="userSpaceOnUse" x1="312" y1="0" x2="1976" y2="0"><stop offset="0.0385" stop-color="#d8fa35"/><stop offset="0.0769" stop-color="#e7f63c"/><stop offset="0.1154" stop-color="#ffc03c"/><stop offset="0.1538" stop-color="#ff8443"/><stop offset="0.1923" stop-color="#f7744d"/><stop offset="0.2308" stop-color="#ffac52"/><stop offset="0.2692" stop-color="#f1ed46"/><stop offset="0.3077" stop-color="#d0fa3b"/><stop offset="0.3462" stop-color="#edfa1d"/><stop offset="0.3846" stop-color="#fdef0d"/><stop offset="0.4231" stop-color="#f4e652"/><stop offset="0.4615" stop-color="#ccfa9c"/><stop offset="0.5000" stop-color="#90dbd8"/><stop offset="0.5385" stop-color="#6ed3fa"/><stop offset="0.5769" stop-color="#82f5dc"/><stop offset="0.6154" stop-color="#9ffab5"/><stop offset="0.6538" stop-color="#86f2c4"/><stop offset="0.6923" stop-color="#7af2cd"/><stop offset="0.7308" stop-color="#67f4dc"/><stop offset="0.7692" stop-color="#68dcf4"/><stop offset="0.8077" stop-color="#5ea1fa"/><stop offset="0.8462" stop-color="#5d68f8"/></linearGradient>
<linearGradient id="r99" gradientUnits="userSpaceOnUse" x1="312" y1="0" x2="1976" y2="0"><stop offset="0.0385" stop-color="#d8fa34"/><stop offset="0.0769" stop-color="#eaf43c"/><stop offset="0.1154" stop-color="#ffbc3c"/><stop offset="0.1538" stop-color="#ff803f"/><stop offset="0.1923" stop-color="#f87c49"/><stop offset="0.2308" stop-color="#ffb24e"/><stop offset="0.2692" stop-color="#efee46"/><stop offset="0.3077" stop-color="#cffa3d"/><stop offset="0.3462" stop-color="#eefa1f"/><stop offset="0.3846" stop-color="#fcf111"/><stop offset="0.4231" stop-color="#f1eb58"/><stop offset="0.4615" stop-color="#c4faa4"/><stop offset="0.5000" stop-color="#88d3e0"/><stop offset="0.5385" stop-color="#6ed1fa"/><stop offset="0.5769" stop-color="#82f5dc"/><stop offset="0.6154" stop-color="#a1fab3"/><stop offset="0.6538" stop-color="#8df3b8"/><stop offset="0.6923" stop-color="#80f3c3"/><stop offset="0.7308" stop-color="#6bf6d7"/><stop offset="0.7692" stop-color="#6ad7f6"/><stop offset="0.8077" stop-color="#609ffa"/><stop offset="0.8462" stop-color="#616af7"/><stop offset="0.8846" stop-color="#6472f9"/></linearGradient>
<linearGradient id="r100" gradientUnits="userSpaceOnUse" x1="312" y1="0" x2="1976" y2="0"><stop offset="0.0385" stop-color="#d8fa34"/><stop offset="0.0769" stop-color="#edf33c"/><stop offset="0.1154" stop-color="#ffb63c"/><stop offset="0.1538" stop-color="#ff7a3b"/><stop offset="0.1923" stop-color="#fa8345"/><stop offset="0.2308" stop-color="#ffb848"/><stop offset="0.2692" stop-color="#eef046"/><stop offset="0.3077" stop-color="#cdfa40"/><stop offset="0.3462" stop-color="#eefa22"/><stop offset="0.3846" stop-color="#fcf215"/><stop offset="0.4231" stop-color="#eeef5e"/><stop offset="0.4615" stop-color="#bdfaab"/><stop offset="0.5000" stop-color="#81cae7"/><stop offset="0.5385" stop-color="#6ecefa"/><stop offset="0.5769" stop-color="#82f5dc"/><stop offset="0.6154" stop-color="#a4fab0"/><stop offset="0.6538" stop-color="#94f5ab"/><stop offset="0.6923" stop-color="#86f5b9"/><stop offset="0.7308" stop-color="#6ff7d3"/><stop offset="0.7692" stop-color="#6bd3f7"/><stop offset="0.8077" stop-color="#619cfa"/><stop offset="0.8462" stop-color="#656bf7"/><stop offset="0.8846" stop-color="#6875f8"/></linearGradient>
<linearGradient id="r101" gradientUnits="userSpaceOnUse" x1="312" y1="0" x2="1976" y2="0"><stop offset="0.0000" stop-color="#d3fa37"/><stop offset="0.0385" stop-color="#d7fa33"/><stop offset="0.0769" stop-color="#f0f23c"/><stop offset="0.1154" stop-color="#ffb23c"/><stop offset="0.1538" stop-color="#ff7638"/><stop offset="0.1923" stop-color="#fc8b42"/><stop offset="0.2308" stop-color="#ffbf44"/><stop offset="0.2692" stop-color="#edf246"/><stop offset="0.3077" stop-color="#cbfa42"/><stop offset="0.3462" stop-color="#effa24"/><stop offset="0.3846" stop-color="#fbf318"/><stop offset="0.4231" stop-color="#ebf365"/><stop offset="0.4615" stop-color="#b5fab3"/><stop offset="0.5000" stop-color="#79c1ef"/><stop offset="0.5385" stop-color="#6eccfa"/><stop offset="0.5769" stop-color="#82f5dc"/><stop offset="0.6154" stop-color="#a6faae"/><stop offset="0.6538" stop-color="#9bf79f"/><stop offset="0.6923" stop-color="#8df7af"/><stop offset="0.7308" stop-color="#72f8cf"/><stop offset="0.7692" stop-color="#6ccff8"/><stop offset="0.8077" stop-color="#629afa"/><stop offset="0.8462" stop-color="#686cf6"/><stop offset="0.8846" stop-color="#6c78f8"/></linearGradient>
<linearGradient id="r102" gradientUnits="userSpaceOnUse" x1="312" y1="0" x2="1976" y2="0"><stop offset="0.0000" stop-color="#d2fa37"/><stop offset="0.0385" stop-color="#d7fa32"/><stop offset="0.0769" stop-color="#f3f13c"/><stop offset="0.1154" stop-color="#ffac3c"/><stop offset="0.1538" stop-color="#ff7034"/><stop offset="0.1923" stop-color="#fe923e"/><stop offset="0.2308" stop-color="#ffc53e"/><stop offset="0.2692" stop-color="#ecf446"/><stop offset="0.3077" stop-color="#c9fa45"/><stop offset="0.3462" stop-color="#f0fa27"/><stop offset="0.3846" stop-color="#faf41c"/><stop offset="0.4231" stop-color="#e8f86b"/><stop offset="0.4615" stop-color="#aefaba"/><stop offset="0.5000" stop-color="#72b8f6"/><stop offset="0.5385" stop-color="#6ec9fa"/><stop offset="0.5769" stop-color="#82f5dc"/><stop offset="0.6154" stop-color="#a9faab"/><stop offset="0.6538" stop-color="#a2f992"/><stop offset="0.6923" stop-color="#93f9a5"/><stop offset="0.7308" stop-color="#76f9ca"/><stop offset="0.7692" stop-color="#6dcaf9"/><stop offset="0.8077" stop-color="#6397fa"/><stop offset="0.8462" stop-color="#6c6df5"/><stop offset="0.8846" stop-color="#717bf8"/></linearGradient>
<linearGradient id="r103" gradientUnits="userSpaceOnUse" x1="312" y1="0" x2="1976" y2="0"><stop offset="0.0000" stop-color="#d2fa37"/><stop offset="0.0385" stop-color="#d6fa33"/><stop offset="0.0769" stop-color="#f3f13c"/><stop offset="0.1154" stop-color="#ffad3c"/><stop offset="0.1538" stop-color="#ff7032"/><stop offset="0.1923" stop-color="#ff953b"/><stop offset="0.2308" stop-color="#ffc73b"/><stop offset="0.2692" stop-color="#ebf546"/><stop offset="0.3077" stop-color="#c7fa48"/><stop offset="0.3462" stop-color="#ecfa2c"/><stop offset="0.3846" stop-color="#f8f520"/><stop offset="0.4231" stop-color="#e6fa6c"/><stop offset="0.4615" stop-color="#aafabd"/><stop offset="0.5000" stop-color="#6eb7fa"/><stop offset="0.5385" stop-color="#6dc6fa"/><stop offset="0.5769" stop-color="#81f4de"/><stop offset="0.6154" stop-color="#a9faab"/><stop offset="0.6538" stop-color="#a7fa8b"/><stop offset="0.6923" stop-color="#99fa9c"/><stop offset="0.7308" stop-color="#7efac1"/><stop offset="0.7692" stop-color="#74cbf5"/><stop offset="0.8077" stop-color="#669bf9"/><stop offset="0.8462" stop-color="#6f73f5"/><stop offset="0.8846" stop-color="#737ef8"/></linearGradient>
<linearGradient id="r104" gradientUnits="userSpaceOnUse" x1="312" y1="0" x2="1976" y2="0"><stop offset="0.0000" stop-color="#d1fa38"/><stop offset="0.0385" stop-color="#d4fa34"/><stop offset="0.0769" stop-color="#eff23c"/><stop offset="0.1154" stop-color="#feb43c"/><stop offset="0.1538" stop-color="#ff7632"/><stop offset="0.1923" stop-color="#ff923a"/><stop offset="0.2308" stop-color="#ffc438"/><stop offset="0.2692" stop-color="#ebf546"/><stop offset="0.3077" stop-color="#c6fa4e"/><stop offset="0.3462" stop-color="#e3fa35"/><stop offset="0.3846" stop-color="#f2f626"/><stop offset="0.4231" stop-color="#e5fa68"/><stop offset="0.4615" stop-color="#aafaba"/><stop offset="0.5000" stop-color="#6ebdf9"/><stop offset="0.5385" stop-color="#6ac2fa"/><stop offset="0.5769" stop-color="#7ef1e1"/><stop offset="0.6154" stop-color="#a6faac"/><stop offset="0.6538" stop-color="#aafa8a"/><stop offset="0.6923" stop-color="#9ffa93"/><stop offset="0.7308" stop-color="#8bfab3"/><stop offset="0.7692" stop-color="#7fd1eb"/><stop offset="0.8077" stop-color="#6aa6f8"/><stop offset="0.8462" stop-color="#707df6"/><stop offset="0.8846" stop-color="#7480f8"/></linearGradient>
<linearGradient id="r105" gradientUnits="userSpaceOnUse" x1="312" y1="0" x2="1976" y2="0"><stop offset="0.0000" stop-color="#d0fa39"/><stop offset="0.0385" stop-color="#d2fa35"/><stop offset="0.0769" stop-color="#ecf33c"/><stop offset="0.1154" stop-color="#fdbb3c"/><stop offset="0.1538" stop-color="#ff7a32"/><stop offset="0.1923" stop-color="#ff9039"/><stop offset="0.2308" stop-color="#ffc236"/><stop offset="0.2692" stop-color="#ebf546"/><stop offset="0.3077" stop-color="#c5fa52"/><stop offset="0.3462" stop-color="#dafa3e"/><stop offset="0.3846" stop-color="#eef72a"/><stop offset="0.4231" stop-color="#e4fa65"/><stop offset="0.4615" stop-color="#aafab8"/><stop offset="0.5000" stop-color="#6ec4f8"/><stop offset="0.5385" stop-color="#68bffa"/><stop offset="0.5769" stop-color="#7cefe4"/><stop offset="0.6154" stop-color="#a4faad"/><stop offset="0.6538" stop-color="#adfa89"/><stop offset="0.6923" stop-color="#a6fa8a"/><stop offset="0.7308" stop-color="#97faa6"/><stop offset="0.7692" stop-color="#8ad8e1"/><stop offset="0.8077" stop-color="#6db1f7"/><stop offset="0.8462" stop-color="#7187f7"/><stop offset="0.8846" stop-color="#7582f8"/></linearGradient>
<linearGradient id="r106" gradientUnits="userSpaceOnUse" x1="312" y1="0" x2="1976" y2="0"><stop offset="0.0000" stop-color="#d0fa39"/><stop offset="0.0385" stop-color="#d0fa36"/><stop offset="0.0769" stop-color="#e8f43c"/><stop offset="0.1154" stop-color="#fdc23c"/><stop offset="0.1538" stop-color="#ff8032"/><stop offset="0.1923" stop-color="#ff8d38"/><stop offset="0.2308" stop-color="#ffbf33"/><stop offset="0.2692" stop-color="#ebf546"/><stop offset="0.3077" stop-color="#c4fa58"/><stop offset="0.3462" stop-color="#d1fa47"/><stop offset="0.3846" stop-color="#e8f730"/><stop offset="0.4231" stop-color="#e4fa61"/><stop offset="0.4615" stop-color="#aafab5"/><stop offset="0.5000" stop-color="#6ecaf8"/><stop offset="0.5385" stop-color="#65bbfa"/><stop offset="0.5769" stop-color="#79ece7"/><stop offset="0.6154" stop-color="#a1faae"/><stop offset="0.6538" stop-color="#b0fa88"/><stop offset="0.6923" stop-color="#acfa81"/><stop offset="0.7308" stop-color="#a4fa98"/><stop offset="0.7692" stop-color="#95ded7"/><stop offset="0.8077" stop-color="#71bbf6"/><stop offset="0.8462" stop-color="#7291f7"/><stop offset="0.8846" stop-color="#7584f9"/></linearGradient>
<linearGradient id="r107" gradientUnits="userSpaceOnUse" x1="312" y1="0" x2="1976" y2="0"><stop offset="0.0000" stop-color="#cffa3a"/><stop offset="0.0385" stop-color="#cffa38"/><stop offset="0.0769" stop-color="#e4f63c"/><stop offset="0.1154" stop-color="#fcc93c"/><stop offset="0.1538" stop-color="#ff8432"/><stop offset="0.1923" stop-color="#ff8b36"/><stop offset="0.2308" stop-color="#ffbd31"/><stop offset="0.2692" stop-color="#ebf546"/><stop offset="0.3077" stop-color="#c2fa5c"/><stop offset="0.3462" stop-color="#c9fa4f"/><stop offset="0.3846" stop-color="#e4f834"/><stop offset="0.4231" stop-color="#e3fa5d"/><stop offset="0.4615" stop-color="#aafab3"/><stop offset="0.5000" stop-color="#6ed0f7"/><stop offset="0.5385" stop-color="#63b7fa"/><stop offset="0.5769" stop-color="#77eaea"/><stop offset="0.6154" stop-color="#9ffab0"/><stop offset="0.6538" stop-color="#b3fa86"/><stop offset="0.6923" stop-color="#b2fa79"/><stop offset="0.7308" stop-color="#b0fa8a"/><stop offset="0.7692" stop-color="#a1e4cd"/><stop offset="0.8077" stop-color="#75c6f4"/><stop offset="0.8462" stop-color="#749bf8"/><stop offset="0.8846" stop-color="#7685f9"/></linearGradient>
<linearGradient id="r108" gradientUnits="userSpaceOnUse" x1="312" y1="0" x2="1976" y2="0"><stop offset="0.0000" stop-color="#cffa3a"/><stop offset="0.0385" stop-color="#cdfa39"/><stop offset="0.0769" stop-color="#e0f73c"/><stop offset="0.1154" stop-color="#fcd03c"/><stop offset="0.1538" stop-color="#ff8a32"/><stop offset="0.1923" stop-color="#ff8835"/><stop offset="0.2308" stop-color="#ffba2e"/><stop offset="0.2692" stop-color="#ebf546"/><stop offset="0.3077" stop-color="#c1fa62"/><stop offset="0.3462" stop-color="#c0fa58"/><stop offset="0.3846" stop-color="#def83a"/><stop offset="0.4231" stop-color="#e3fa59"/><stop offset="0.4615" stop-color="#aafab0"/><stop offset="0.5000" stop-color="#6ed6f7"/><stop offset="0.5385" stop-color="#60b3fa"/><stop offset="0.5769" stop-color="#74e7ed"/><stop offset="0.6154" stop-color="#9cfab1"/><stop offset="0.6538" stop-color="#b6fa85"/><stop offset="0.6923" stop-color="#b8fa70"/><stop offset="0.7308" stop-color="#bdfa7c"/><stop offset="0.7692" stop-color="#aceac3"/><stop offset="0.8077" stop-color="#79d0f3"/><stop offset="0.8462" stop-color="#75a5f8"/><stop offset="0.8846" stop-color="#7687f9"/></linearGradient>
<linearGradient id="r109" gradientUnits="userSpaceOnUse" x1="312" y1="0" x2="1976" y2="0"><stop offset="0.0000" stop-color="#cefa3b"/><stop offset="0.0385" stop-color="#cbfa3a"/><stop offset="0.0769" stop-color="#ddf83c"/><stop offset="0.1154" stop-color="#fbd73c"/><stop offset="0.1538" stop-color="#ff8e32"/><stop offset="0.1923" stop-color="#ff8634"/><stop offset="0.2308" stop-color="#ffb82c"/><stop offset="0.2692" stop-color="#ebf546"/><stop offset="0.3077" stop-color="#c0fa66"/><stop offset="0.3462" stop-color="#b7fa61"/><stop offset="0.3846" stop-color="#daf93e"/><stop offset="0.4231" stop-color="#e2fa56"/><stop offset="0.4615" stop-color="#aafaae"/><stop offset="0.5000" stop-color="#6eddf6"/><stop offset="0.5385" stop-color="#5eb0fa"/><stop offset="0.5769" stop-color="#72e5f0"/><stop offset="0.6154" stop-color="#9afab2"/><stop offset="0.6538" stop-color="#b9fa84"/><stop offset="0.6923" stop-color="#bffa67"/><stop offset="0.7308" stop-color="#c9fa6f"/><stop offset="0.7692" stop-color="#b7f1b9"/><stop offset="0.8077" stop-color="#7cdbf2"/><stop offset="0.8462" stop-color="#76aff9"/><stop offset="0.8846" stop-color="#7789fa"/></linearGradient>
<linearGradient id="r110" gradientUnits="userSpaceOnUse" x1="312" y1="0" x2="1976" y2="0"><stop offset="0.0000" stop-color="#cdfa3c"/><stop offset="0.0385" stop-color="#c9fa3b"/><stop offset="0.0769" stop-color="#d9f93c"/><stop offset="0.1154" stop-color="#fade3c"/><stop offset="0.1538" stop-color="#ff9432"/><stop offset="0.1923" stop-color="#ff8333"/><stop offset="0.2308" stop-color="#ffb529"/><stop offset="0.2692" stop-color="#ebf546"/><stop offset="0.3077" stop-color="#bffa6c"/><stop offset="0.3462" stop-color="#aefa6a"/><stop offset="0.3846" stop-color="#d4fa44"/><stop offset="0.4231" stop-color="#e1fa52"/><stop offset="0.4615" stop-color="#aafaab"/><stop offset="0.5000" stop-color="#6ee3f5"/><stop offset="0.5385" stop-color="#5bacfa"/><stop offset="0.5769" stop-color="#6fe2f3"/><stop offset="0.6154" stop-color="#97fab3"/><stop offset="0.6538" stop-color="#bcfa83"/><stop offset="0.6923" stop-color="#c5fa5e"/><stop offset="0.7308" stop-color="#d6fa61"/><stop offset="0.7692" stop-color="#c2f7af"/><stop offset="0.8077" stop-color="#80e6f1"/><stop offset="0.8462" stop-color="#77b9fa"/><stop offset="0.8846" stop-color="#788bfa"/></linearGradient>
<linearGradient id="r111" gradientUnits="userSpaceOnUse" x1="312" y1="0" x2="1976" y2="0"><stop offset="0.0000" stop-color="#cdfa3d"/><stop offset="0.0385" stop-color="#c8fa3d"/><stop offset="0.0769" stop-color="#d6fa3d"/><stop offset="0.1154" stop-color="#f8e33c"/><stop offset="0.1538" stop-color="#ff9b32"/><stop offset="0.1923" stop-color="#ff8632"/><stop offset="0.2308" stop-color="#ffb529"/><stop offset="0.2692" stop-color="#ebf548"/><stop offset="0.3077" stop-color="#bcfa70"/><stop offset="0.3462" stop-color="#a9fa70"/><stop offset="0.3846" stop-color="#d1fa48"/><stop offset="0.4231" stop-color="#e1fa51"/><stop offset="0.4615" stop-color="#abfaa9"/><stop offset="0.5000" stop-color="#70e7f3"/><stop offset="0.5385" stop-color="#5babfa"/><stop offset="0.5769" stop-color="#6ddff5"/><stop offset="0.6154" stop-color="#95fab5"/><stop offset="0.6538" stop-color="#bffa81"/><stop offset="0.6923" stop-color="#cbf957"/><stop offset="0.7308" stop-color="#def858"/><stop offset="0.7692" stop-color="#cbf8a6"/><stop offset="0.8077" stop-color="#87ecea"/><stop offset="0.8462" stop-color="#79c1f8"/><stop offset="0.8846" stop-color="#7891fa"/></linearGradient>
<linearGradient id="r112" gradientUnits="userSpaceOnUse" x1="312" y1="0" x2="1976" y2="0"><stop offset="0.0000" stop-color="#cdfa3e"/><stop offset="0.0385" stop-color="#c8fa3e"/><stop offset="0.0769" stop-color="#d3fa3e"/><stop offset="0.1154" stop-color="#f5e63c"/><stop offset="0.1538" stop-color="#ffa432"/><stop offset="0.1923" stop-color="#ff8d32"/><stop offset="0.2308" stop-color="#ffb82a"/><stop offset="0.2692" stop-color="#eaf64c"/><stop offset="0.3077" stop-color="#b8fa74"/><stop offset="0.3462" stop-color="#a6fa76"/><stop offset="0.3846" stop-color="#cefa4c"/><stop offset="0.4231" stop-color="#e1fa52"/><stop offset="0.4615" stop-color="#aefaa6"/><stop offset="0.5000" stop-color="#74e9f0"/><stop offset="0.5385" stop-color="#5caefa"/><stop offset="0.5769" stop-color="#6cdcf6"/><stop offset="0.6154" stop-color="#94fab8"/><stop offset="0.6538" stop-color="#c0fa80"/><stop offset="0.6923" stop-color="#d1f751"/><stop offset="0.7308" stop-color="#e3f252"/><stop offset="0.7692" stop-color="#d1f59d"/><stop offset="0.8077" stop-color="#92eedf"/><stop offset="0.8462" stop-color="#7cc8f5"/><stop offset="0.8846" stop-color="#789cf9"/></linearGradient>
<linearGradient id="r113" gradientUnits="userSpaceOnUse" x1="312" y1="0" x2="1976" y2="0"><stop offset="0.0000" stop-color="#cdfa3f"/><stop offset="0.0385" stop-color="#c8fa3f"/><stop offset="0.0769" stop-color="#d1fa3f"/><stop offset="0.1154" stop-color="#f2e93c"/><stop offset="0.1538" stop-color="#ffad32"/><stop offset="0.1923" stop-color="#ff9532"/><stop offset="0.2308" stop-color="#ffba2b"/><stop offset="0.2692" stop-color="#e9f74f"/><stop offset="0.3077" stop-color="#b5fa77"/><stop offset="0.3462" stop-color="#a4fa7a"/><stop offset="0.3846" stop-color="#ccfa4f"/><stop offset="0.4231" stop-color="#e1fa53"/><stop offset="0.4615" stop-color="#b0faa4"/><stop offset="0.5000" stop-color="#77ebed"/><stop offset="0.5385" stop-color="#5db0fa"/><stop offset="0.5769" stop-color="#6bd9f7"/><stop offset="0.6154" stop-color="#93faba"/><stop offset="0.6538" stop-color="#c1fa7f"/><stop offset="0.6923" stop-color="#d8f54a"/><stop offset="0.7308" stop-color="#e7ee4e"/><stop offset="0.7692" stop-color="#d8f294"/><stop offset="0.8077" stop-color="#9df0d4"/><stop offset="0.8462" stop-color="#7ecff2"/><stop offset="0.8846" stop-color="#78a7f8"/><stop offset="0.9231" stop-color="#76a9f7"/></linearGradient>
<linearGradient id="r114" gradientUnits="userSpaceOnUse" x1="312" y1="0" x2="1976" y2="0"><stop offset="0.0000" stop-color="#cdfa40"/><stop offset="0.0385" stop-color="#c8fa40"/><stop offset="0.0769" stop-color="#cefa40"/><stop offset="0.1154" stop-color="#efec3c"/><stop offset="0.1538" stop-color="#ffb732"/><stop offset="0.1923" stop-color="#ff9c32"/><stop offset="0.2308" stop-color="#ffbd2c"/><stop offset="0.2692" stop-color="#e9f753"/><stop offset="0.3077" stop-color="#b1fa7b"/><stop offset="0.3462" stop-color="#a1fa80"/><stop offset="0.3846" stop-color="#c9fa53"/><stop offset="0.4231" stop-color="#e1fa54"/><stop offset="0.4615" stop-color="#b3faa1"/><stop offset="0.5000" stop-color="#7bedea"/><stop offset="0.5385" stop-color="#5eb3fa"/><stop offset="0.5769" stop-color="#6ad6f7"/><stop offset="0.6154" stop-color="#92fabd"/><stop offset="0.6538" stop-color="#c2fa7e"/><stop offset="0.6923" stop-color="#def344"/><stop offset="0.7308" stop-color="#ebe848"/><stop offset="0.7692" stop-color="#deef8b"/><stop offset="0.8077" stop-color="#a7f2c9"/><stop offset="0.8462" stop-color="#81d6ef"/><stop offset="0.8846" stop-color="#78b1f8"/><stop offset="0.9231" stop-color="#76b4f6"/></linearGradient>
<linearGradient id="r115" gradientUnits="userSpaceOnUse" x1="312" y1="0" x2="1976" y2="0"><stop offset="0.0000" stop-color="#cdfa42"/><stop offset="0.0385" stop-color="#c8fa42"/><stop offset="0.0769" stop-color="#ccfa42"/><stop offset="0.1154" stop-color="#ecef3c"/><stop offset="0.1538" stop-color="#ffc032"/><stop offset="0.1923" stop-color="#ffa432"/><stop offset="0.2308" stop-color="#ffbf2e"/><stop offset="0.2692" stop-color="#e8f857"/><stop offset="0.3077" stop-color="#adfa7f"/><stop offset="0.3462" stop-color="#9ffa84"/><stop offset="0.3846" stop-color="#c7fa57"/><stop offset="0.4231" stop-color="#e1fa56"/><stop offset="0.4615" stop-color="#b5fa9f"/><stop offset="0.5000" stop-color="#7feee7"/><stop offset="0.5385" stop-color="#60b5fa"/><stop offset="0.5769" stop-color="#68d3f8"/><stop offset="0.6154" stop-color="#90fabf"/><stop offset="0.6538" stop-color="#c4fa7c"/><stop offset="0.6923" stop-color="#e4f23e"/><stop offset="0.7308" stop-color="#f0e444"/><stop offset="0.7692" stop-color="#e4ec83"/><stop offset="0.8077" stop-color="#b2f3bd"/><stop offset="0.8462" stop-color="#83ddec"/><stop offset="0.8846" stop-color="#78bcf7"/><stop offset="0.9231" stop-color="#75c0f4"/></linearGradient>
<linearGradient id="r116" gradientUnits="userSpaceOnUse" x1="312" y1="0" x2="1976" y2="0"><stop offset="0.0000" stop-color="#cdfa43"/><stop offset="0.0385" stop-color="#c8fa43"/><stop offset="0.0769" stop-color="#c9fa43"/><stop offset="0.1154" stop-color="#e9f23c"/><stop offset="0.1538" stop-color="#ffca32"/><stop offset="0.1923" stop-color="#ffab32"/><stop offset="0.2308" stop-color="#ffc22f"/><stop offset="0.2692" stop-color="#e8f85b"/><stop offset="0.3077" stop-color="#a9fa83"/><stop offset="0.3462" stop-color="#9cfa8a"/><stop offset="0.3846" stop-color="#c4fa5b"/><stop offset="0.4231" stop-color="#e1fa57"/><stop offset="0.4615" stop-color="#b8fa9c"/><stop offset="0.5000" stop-color="#83f0e4"/><stop offset="0.5385" stop-color="#61b8fa"/><stop offset="0.5769" stop-color="#67d0f8"/><stop offset="0.6154" stop-color="#8ffac2"/><stop offset="0.6538" stop-color="#c5fa7b"/><stop offset="0.6923" stop-color="#eaf038"/><stop offset="0.7308" stop-color="#f4de3e"/><stop offset="0.7692" stop-color="#eae97a"/><stop offset="0.8077" stop-color="#bcf5b2"/><stop offset="0.8462" stop-color="#86e4e9"/><stop offset="0.8846" stop-color="#78c6f7"/><stop offset="0.9231" stop-color="#75ccf3"/></linearGradient>
<linearGradient id="r117" gradientUnits="userSpaceOnUse" x1="312" y1="0" x2="1976" y2="0"><stop offset="0.0000" stop-color="#cdfa44"/><stop offset="0.0385" stop-color="#c8fa44"/><stop offset="0.0769" stop-color="#c7fa44"/><stop offset="0.1154" stop-color="#e6f53c"/><stop offset="0.1538" stop-color="#ffd332"/><stop offset="0.1923" stop-color="#ffb332"/><stop offset="0.2308" stop-color="#ffc430"/><stop offset="0.2692" stop-color="#e7f95e"/><stop offset="0.3077" stop-color="#a6fa86"/><stop offset="0.3462" stop-color="#9afa8e"/><stop offset="0.3846" stop-color="#c2fa5e"/><stop offset="0.4231" stop-color="#e1fa58"/><stop offset="0.4615" stop-color="#bafa9a"/><stop offset="0.5000" stop-color="#86f2e1"/><stop offset="0.5385" stop-color="#62bafa"/><stop offset="0.5769" stop-color="#66cdf9"/><stop offset="0.6154" stop-color="#8efac4"/><stop offset="0.6538" stop-color="#c6fa7a"/><stop offset="0.6923" stop-color="#f1ee31"/><stop offset="0.7308" stop-color="#f8da3a"/><stop offset="0.7692" stop-color="#f1e671"/><stop offset="0.8077" stop-color="#c7f7a7"/><stop offset="0.8462" stop-color="#88ebe6"/><stop offset="0.8846" stop-color="#78d1f6"/><stop offset="0.9231" stop-color="#74d7f2"/></linearGradient>
<linearGradient id="r118" gradientUnits="userSpaceOnUse" x1="312" y1="0" x2="1976" y2="0"><stop offset="0.0000" stop-color="#cdfa45"/><stop offset="0.0385" stop-color="#c8fa45"/><stop offset="0.0769" stop-color="#c4fa45"/><stop offset="0.1154" stop-color="#e3f83c"/><stop offset="0.1538" stop-color="#ffdc32"/><stop offset="0.1923" stop-color="#ffba32"/><stop offset="0.2308" stop-color="#ffc731"/><stop offset="0.2692" stop-color="#e6fa62"/><stop offset="0.3077" stop-color="#a2fa8a"/><stop offset="0.3462" stop-color="#97fa94"/><stop offset="0.3846" stop-color="#bffa62"/><stop offset="0.4231" stop-color="#e1fa59"/><stop offset="0.4615" stop-color="#bdfa97"/><stop offset="0.5000" stop-color="#8af4de"/><stop offset="0.5385" stop-color="#63bdfa"/><stop offset="0.5769" stop-color="#65cafa"/><stop offset="0.6154" stop-color="#8dfac7"/><stop offset="0.6538" stop-color="#c7fa79"/><stop offset="0.6923" stop-color="#f7ec2b"/><stop offset="0.7308" stop-color="#fdd434"/><stop offset="0.7692" stop-color="#f7e368"/><stop offset="0.8077" stop-color="#d2f99c"/><stop offset="0.8462" stop-color="#8bf2e3"/><stop offset="0.8846" stop-color="#78dcf5"/><stop offset="0.9231" stop-color="#73e3f1"/></linearGradient>
<linearGradient id="r119" gradientUnits="userSpaceOnUse" x1="312" y1="0" x2="1976" y2="0"><stop offset="0.0000" stop-color="#cefa45"/><stop offset="0.0385" stop-color="#c9fa45"/><stop offset="0.0769" stop-color="#c3fa46"/><stop offset="0.1154" stop-color="#e0fa3c"/><stop offset="0.1538" stop-color="#ffe231"/><stop offset="0.1923" stop-color="#ffbf32"/><stop offset="0.2308" stop-color="#ffca33"/><stop offset="0.2692" stop-color="#e5fa63"/><stop offset="0.3077" stop-color="#9ffa8c"/><stop offset="0.3462" stop-color="#99fa94"/><stop offset="0.3846" stop-color="#c1fa63"/><stop offset="0.4231" stop-color="#e3f858"/><stop offset="0.4615" stop-color="#c1fa92"/><stop offset="0.5000" stop-color="#8ff5d8"/><stop offset="0.5385" stop-color="#66c1f8"/><stop offset="0.5769" stop-color="#65caf9"/><stop offset="0.6154" stop-color="#8dfac7"/><stop offset="0.6538" stop-color="#c8fa78"/><stop offset="0.6923" stop-color="#fae927"/><stop offset="0.7308" stop-color="#ffd031"/><stop offset="0.7692" stop-color="#fadf63"/><stop offset="0.8077" stop-color="#d7fa95"/><stop offset="0.8462" stop-color="#8cf5e1"/><stop offset="0.8846" stop-color="#74dff5"/><stop offset="0.9231" stop-color="#73e9f0"/></linearGradient>
<linearGradient id="r120" gradientUnits="userSpaceOnUse" x1="312" y1="0" x2="1976" y2="0"><stop offset="0.0000" stop-color="#d1fa44"/><stop offset="0.0385" stop-color="#ccfa44"/><stop offset="0.0769" stop-color="#c4fa46"/><stop offset="0.1154" stop-color="#defa3c"/><stop offset="0.1538" stop-color="#fee42e"/><stop offset="0.1923" stop-color="#ffc032"/><stop offset="0.2308" stop-color="#fece34"/><stop offset="0.2692" stop-color="#e4fa62"/><stop offset="0.3077" stop-color="#9efa8c"/><stop offset="0.3462" stop-color="#9ffa8e"/><stop offset="0.3846" stop-color="#c6fa60"/><stop offset="0.4231" stop-color="#e6f552"/><stop offset="0.4615" stop-color="#c7f989"/><stop offset="0.5000" stop-color="#95f6cf"/><stop offset="0.5385" stop-color="#6ac8f4"/><stop offset="0.5769" stop-color="#68d0f7"/><stop offset="0.6154" stop-color="#8efac6"/><stop offset="0.6538" stop-color="#c8fa78"/><stop offset="0.6923" stop-color="#fbe426"/><stop offset="0.7308" stop-color="#ffca2e"/><stop offset="0.7692" stop-color="#fbdc60"/><stop offset="0.8077" stop-color="#d8fa94"/><stop offset="0.8462" stop-color="#8cf5e0"/><stop offset="0.8846" stop-color="#6ddaf6"/><stop offset="0.9231" stop-color="#72eaef"/></linearGradient>
<linearGradient id="r121" gradientUnits="userSpaceOnUse" x1="312" y1="0" x2="1976" y2="0"><stop offset="0.0000" stop-color="#d3fa43"/><stop offset="0.0385" stop-color="#cefa43"/><stop offset="0.0769" stop-color="#c5fa46"/><stop offset="0.1154" stop-color="#dcfa3c"/><stop offset="0.1538" stop-color="#fde62c"/><stop offset="0.1923" stop-color="#ffc132"/><stop offset="0.2308" stop-color="#fdd135"/><stop offset="0.2692" stop-color="#e3fa61"/><stop offset="0.3077" stop-color="#9dfa8c"/><stop offset="0.3462" stop-color="#a6fa8a"/><stop offset="0.3846" stop-color="#ccfa5e"/><stop offset="0.4231" stop-color="#e9f24e"/><stop offset="0.4615" stop-color="#cef880"/><stop offset="0.5000" stop-color="#9cf7c6"/><stop offset="0.5385" stop-color="#6dcff1"/><stop offset="0.5769" stop-color="#6ad4f5"/><stop offset="0.6154" stop-color="#8ffac5"/><stop offset="0.6538" stop-color="#c8fa78"/><stop offset="0.6923" stop-color="#fce025"/><stop offset="0.7308" stop-color="#ffc62c"/><stop offset="0.7692" stop-color="#fcd95e"/><stop offset="0.8077" stop-color="#d9fa93"/><stop offset="0.8462" stop-color="#8cf5df"/><stop offset="0.8846" stop-color="#65d6f7"/><stop offset="0.9231" stop-color="#71ebee"/></linearGradient>
<linearGradient id="r122" gradientUnits="userSpaceOnUse" x1="312" y1="0" x2="1976" y2="0"><stop offset="0.0000" stop-color="#d6fa42"/><stop offset="0.0385" stop-color="#d1fa42"/><stop offset="0.0769" stop-color="#c5fa46"/><stop offset="0.1154" stop-color="#dafa3c"/><stop offset="0.1538" stop-color="#fde829"/><stop offset="0.1923" stop-color="#ffc232"/><stop offset="0.2308" stop-color="#fdd536"/><stop offset="0.2692" stop-color="#e2fa60"/><stop offset="0.3077" stop-color="#9cfa8c"/><stop offset="0.3462" stop-color="#acfa84"/><stop offset="0.3846" stop-color="#d2fa5b"/><stop offset="0.4231" stop-color="#ecef48"/><stop offset="0.4615" stop-color="#d4f877"/><stop offset="0.5000" stop-color="#a2f7bd"/><stop offset="0.5385" stop-color="#71d6ed"/><stop offset="0.5769" stop-color="#6ddaf3"/><stop offset="0.6154" stop-color="#90fac4"/><stop offset="0.6538" stop-color="#c8fa78"/><stop offset="0.6923" stop-color="#fcdc24"/><stop offset="0.7308" stop-color="#ffc029"/><stop offset="0.7692" stop-color="#fcd65b"/><stop offset="0.8077" stop-color="#d9fa92"/><stop offset="0.8462" stop-color="#8cf5df"/><stop offset="0.8846" stop-color="#5ed2f7"/><stop offset="0.9231" stop-color="#71ecee"/></linearGradient>
<linearGradient id="r123" gradientUnits="userSpaceOnUse" x1="312" y1="0" x2="1976" y2="0"><stop offset="0.0000" stop-color="#d8fa40"/><stop offset="0.0385" stop-color="#d3fa40"/><stop offset="0.0769" stop-color="#c6fa46"/><stop offset="0.1154" stop-color="#d9fa3c"/><stop offset="0.1538" stop-color="#fce927"/><stop offset="0.1923" stop-color="#ffc432"/><stop offset="0.2308" stop-color="#fcd938"/><stop offset="0.2692" stop-color="#e0fa5e"/><stop offset="0.3077" stop-color="#9afa8c"/><stop offset="0.3462" stop-color="#b2fa80"/><stop offset="0.3846" stop-color="#d7fa59"/><stop offset="0.4231" stop-color="#efec44"/><stop offset="0.4615" stop-color="#daf76f"/><stop offset="0.5000" stop-color="#a8f8b5"/><stop offset="0.5385" stop-color="#75dde9"/><stop offset="0.5769" stop-color="#6fdef2"/><stop offset="0.6154" stop-color="#92fac2"/><stop offset="0.6538" stop-color="#c8fa78"/><stop offset="0.6923" stop-color="#fdd722"/><stop offset="0.7308" stop-color="#ffbc27"/><stop offset="0.7692" stop-color="#fdd359"/><stop offset="0.8077" stop-color="#dafa90"/><stop offset="0.8462" stop-color="#8cf5de"/><stop offset="0.8846" stop-color="#56cdf8"/><stop offset="0.9231" stop-color="#70eded"/></linearGradient>
<linearGradient id="r124" gradientUnits="userSpaceOnUse" x1="312" y1="0" x2="1976" y2="0"><stop offset="0.0000" stop-color="#dbfa3f"/><stop offset="0.0385" stop-color="#d6fa3f"/><stop offset="0.0769" stop-color="#c6fa46"/><stop offset="0.1154" stop-color="#d7fa3c"/><stop offset="0.1538" stop-color="#fceb24"/><stop offset="0.1923" stop-color="#ffc532"/><stop offset="0.2308" stop-color="#fcdd39"/><stop offset="0.2692" stop-color="#dffa5d"/><stop offset="0.3077" stop-color="#99fa8c"/><stop offset="0.3462" stop-color="#b8fa7a"/><stop offset="0.3846" stop-color="#ddfa56"/><stop offset="0.4231" stop-color="#f2e93e"/><stop offset="0.4615" stop-color="#e0f766"/><stop offset="0.5000" stop-color="#aef8ac"/><stop offset="0.5385" stop-color="#79e4e5"/><stop offset="0.5769" stop-color="#72e4f0"/><stop offset="0.6154" stop-color="#93fac1"/><stop offset="0.6538" stop-color="#c8fa78"/><stop offset="0.6923" stop-color="#fdd321"/><stop offset="0.7308" stop-color="#ffb624"/><stop offset="0.7692" stop-color="#fdd056"/><stop offset="0.8077" stop-color="#dafa8f"/><stop offset="0.8462" stop-color="#8cf5de"/><stop offset="0.8846" stop-color="#4fc9f8"/><stop offset="0.9231" stop-color="#70eeed"/></linearGradient>
<linearGradient id="r125" gradientUnits="userSpaceOnUse" x1="312" y1="0" x2="1976" y2="0"><stop offset="0.0000" stop-color="#ddfa3e"/><stop offset="0.0385" stop-color="#d8fa3e"/><stop offset="0.0769" stop-color="#c7fa46"/><stop offset="0.1154" stop-color="#d5fa3c"/><stop offset="0.1538" stop-color="#fbed22"/><stop offset="0.1923" stop-color="#ffc632"/><stop offset="0.2308" stop-color="#fbe03a"/><stop offset="0.2692" stop-color="#defa5c"/><stop offset="0.3077" stop-color="#98fa8c"/><stop offset="0.3462" stop-color="#bffa76"/><stop offset="0.3846" stop-color="#e3fa54"/><stop offset="0.4231" stop-color="#f5e63a"/><stop offset="0.4615" stop-color="#e7f65d"/><stop offset="0.5000" stop-color="#b5f9a3"/><stop offset="0.5385" stop-color="#7cebe2"/><stop offset="0.5769" stop-color="#74e8ee"/><stop offset="0.6154" stop-color="#94fac0"/><stop offset="0.6538" stop-color="#c8fa78"/><stop offset="0.6923" stop-color="#fecf20"/><stop offset="0.7308" stop-color="#ffb222"/><stop offset="0.7692" stop-color="#fecd54"/><stop offset="0.8077" stop-color="#dbfa8e"/><stop offset="0.8462" stop-color="#8cf5dd"/><stop offset="0.8846" stop-color="#47c5f9"/><stop offset="0.9231" stop-color="#6fefec"/></linearGradient>
<linearGradient id="r126" gradientUnits="userSpaceOnUse" x1="312" y1="0" x2="1976" y2="0"><stop offset="0.0000" stop-color="#e0fa3d"/><stop offset="0.0385" stop-color="#dbfa3d"/><stop offset="0.0769" stop-color="#c8fa46"/><stop offset="0.1154" stop-color="#d3fa3c"/><stop offset="0.1538" stop-color="#faef1f"/><stop offset="0.1923" stop-color="#ffc732"/><stop offset="0.2308" stop-color="#fae43b"/><stop offset="0.2692" stop-color="#ddfa5b"/><stop offset="0.3077" stop-color="#97fa8c"/><stop offset="0.3462" stop-color="#c5fa70"/><stop offset="0.3846" stop-color="#e8fa51"/><stop offset="0.4231" stop-color="#f8e334"/><stop offset="0.4615" stop-color="#edf554"/><stop offset="0.5000" stop-color="#bbfa9a"/><stop offset="0.5385" stop-color="#80f2de"/><stop offset="0.5769" stop-color="#77eeec"/><stop offset="0.6154" stop-color="#95fabf"/><stop offset="0.6538" stop-color="#c8fa78"/><stop offset="0.6923" stop-color="#ffca1f"/><stop offset="0.7308" stop-color="#ffac1f"/><stop offset="0.7692" stop-color="#ffca51"/><stop offset="0.8077" stop-color="#dcfa8d"/><stop offset="0.8462" stop-color="#8cf5dc"/><stop offset="0.8846" stop-color="#40c0fa"/><stop offset="0.9231" stop-color="#6ef0eb"/></linearGradient>
<linearGradient id="r127" gradientUnits="userSpaceOnUse" x1="312" y1="0" x2="1976" y2="0"><stop offset="0.0000" stop-color="#e2f93c"/><stop offset="0.0385" stop-color="#def83b"/><stop offset="0.0769" stop-color="#cbf945"/><stop offset="0.1154" stop-color="#d3fa3b"/><stop offset="0.1538" stop-color="#f9f01f"/><stop offset="0.1923" stop-color="#ffc932"/><stop offset="0.2308" stop-color="#fae73c"/><stop offset="0.2692" stop-color="#dbfa59"/><stop offset="0.3077" stop-color="#99fa8a"/><stop offset="0.3462" stop-color="#cbf86c"/><stop offset="0.3846" stop-color="#ecf44f"/><stop offset="0.4231" stop-color="#fade33"/><stop offset="0.4615" stop-color="#f1f24f"/><stop offset="0.5000" stop-color="#c0fa93"/><stop offset="0.5385" stop-color="#86f5d8"/><stop offset="0.5769" stop-color="#7cf1e6"/><stop offset="0.6154" stop-color="#99faba"/><stop offset="0.6538" stop-color="#c9fa77"/><stop offset="0.6923" stop-color="#ffc820"/><stop offset="0.7308" stop-color="#ffa91e"/><stop offset="0.7692" stop-color="#feca52"/><stop offset="0.8077" stop-color="#dafa8f"/><stop offset="0.8462" stop-color="#89f0de"/><stop offset="0.8846" stop-color="#3ebffa"/><stop offset="0.9231" stop-color="#6ff0ea"/><stop offset="0.9615" stop-color="#6ff0ea"/></linearGradient>
<linearGradient id="r128" gradientUnits="userSpaceOnUse" x1="312" y1="0" x2="1976" y2="0"><stop offset="0.0000" stop-color="#e3f73b"/><stop offset="0.0385" stop-color="#e2f43a"/><stop offset="0.0769" stop-color="#d0f842"/><stop offset="0.1154" stop-color="#d6fa3a"/><stop offset="0.1538" stop-color="#f8f120"/><stop offset="0.1923" stop-color="#ffcb32"/><stop offset="0.2308" stop-color="#f9e83c"/><stop offset="0.2692" stop-color="#dafa58"/><stop offset="0.3077" stop-color="#9ffa84"/><stop offset="0.3462" stop-color="#d1f466"/><stop offset="0.3846" stop-color="#efe74c"/><stop offset="0.4231" stop-color="#fbd736"/><stop offset="0.4615" stop-color="#f3ed4c"/><stop offset="0.5000" stop-color="#c5fa8d"/><stop offset="0.5385" stop-color="#8ef6cf"/><stop offset="0.5769" stop-color="#85f2db"/><stop offset="0.6154" stop-color="#9ffab3"/><stop offset="0.6538" stop-color="#ccfa74"/><stop offset="0.6923" stop-color="#ffc824"/><stop offset="0.7308" stop-color="#ffa81e"/><stop offset="0.7692" stop-color="#fdce58"/><stop offset="0.8077" stop-color="#d4fa95"/><stop offset="0.8462" stop-color="#83e5e2"/><stop offset="0.8846" stop-color="#44c0fa"/><stop offset="0.9231" stop-color="#70f1e9"/><stop offset="0.9615" stop-color="#70f1e9"/></linearGradient>
<linearGradient id="r129" gradientUnits="userSpaceOnUse" x1="312" y1="0" x2="1976" y2="0"><stop offset="0.0000" stop-color="#e5f53a"/><stop offset="0.0385" stop-color="#e5f139"/><stop offset="0.0769" stop-color="#d6f740"/><stop offset="0.1154" stop-color="#d8f939"/><stop offset="0.1538" stop-color="#f7f221"/><stop offset="0.1923" stop-color="#ffcd32"/><stop offset="0.2308" stop-color="#f8e93c"/><stop offset="0.2692" stop-color="#d9fa57"/><stop offset="0.3077" stop-color="#a6fa80"/><stop offset="0.3462" stop-color="#d8f162"/><stop offset="0.3846" stop-color="#f1db4a"/><stop offset="0.4231" stop-color="#fcd038"/><stop offset="0.4615" stop-color="#f5e74a"/><stop offset="0.5000" stop-color="#c9fa86"/><stop offset="0.5385" stop-color="#96f7c6"/><stop offset="0.5769" stop-color="#8ef3d0"/><stop offset="0.6154" stop-color="#a6faab"/><stop offset="0.6538" stop-color="#cefa72"/><stop offset="0.6923" stop-color="#ffc827"/><stop offset="0.7308" stop-color="#ffa71e"/><stop offset="0.7692" stop-color="#fcd15c"/><stop offset="0.8077" stop-color="#d0fa9c"/><stop offset="0.8462" stop-color="#7cdae5"/><stop offset="0.8846" stop-color="#48c1fa"/><stop offset="0.9231" stop-color="#71f2e8"/><stop offset="0.9615" stop-color="#71f2e8"/></linearGradient>
<linearGradient id="r130" gradientUnits="userSpaceOnUse" x1="312" y1="0" x2="1976" y2="0"><stop offset="0.0000" stop-color="#e6f33a"/><stop offset="0.0385" stop-color="#e9ed38"/><stop offset="0.0769" stop-color="#dcf63d"/><stop offset="0.1154" stop-color="#dbf938"/><stop offset="0.1538" stop-color="#f6f222"/><stop offset="0.1923" stop-color="#ffcf32"/><stop offset="0.2308" stop-color="#f8ea3c"/><stop offset="0.2692" stop-color="#d8fa56"/><stop offset="0.3077" stop-color="#acfa7a"/><stop offset="0.3462" stop-color="#deed5c"/><stop offset="0.3846" stop-color="#f4ce47"/><stop offset="0.4231" stop-color="#fcc93b"/><stop offset="0.4615" stop-color="#f7e147"/><stop offset="0.5000" stop-color="#cdfa80"/><stop offset="0.5385" stop-color="#9ef7bd"/><stop offset="0.5769" stop-color="#97f4c6"/><stop offset="0.6154" stop-color="#acfaa4"/><stop offset="0.6538" stop-color="#d1fa6f"/><stop offset="0.6923" stop-color="#ffc82b"/><stop offset="0.7308" stop-color="#ffa61e"/><stop offset="0.7692" stop-color="#fbd562"/><stop offset="0.8077" stop-color="#cafaa2"/><stop offset="0.8462" stop-color="#76d0e9"/><stop offset="0.8846" stop-color="#4ec2fa"/><stop offset="0.9231" stop-color="#72f2e7"/><stop offset="0.9615" stop-color="#72f2e7"/></linearGradient>
<linearGradient id="r131" gradientUnits="userSpaceOnUse" x1="312" y1="0" x2="1976" y2="0"><stop offset="0.0000" stop-color="#e8f239"/><stop offset="0.0385" stop-color="#ede936"/><stop offset="0.0769" stop-color="#e1f43b"/><stop offset="0.1154" stop-color="#ddf936"/><stop offset="0.1538" stop-color="#f4f324"/><stop offset="0.1923" stop-color="#ffd032"/><stop offset="0.2308" stop-color="#f7ec3c"/><stop offset="0.2692" stop-color="#d6fa54"/><stop offset="0.3077" stop-color="#b2fa76"/><stop offset="0.3462" stop-color="#e4e958"/><stop offset="0.3846" stop-color="#f6c245"/><stop offset="0.4231" stop-color="#fdc23d"/><stop offset="0.4615" stop-color="#f8dc45"/><stop offset="0.5000" stop-color="#d2fa7a"/><stop offset="0.5385" stop-color="#a7f8b5"/><stop offset="0.5769" stop-color="#9ff6bb"/><stop offset="0.6154" stop-color="#b2fa9c"/><stop offset="0.6538" stop-color="#d3fa6d"/><stop offset="0.6923" stop-color="#ffc82f"/><stop offset="0.7308" stop-color="#ffa41e"/><stop offset="0.7692" stop-color="#f9d966"/><stop offset="0.8077" stop-color="#c6faa8"/><stop offset="0.8462" stop-color="#70c5ed"/><stop offset="0.8846" stop-color="#52c4fa"/><stop offset="0.9231" stop-color="#74f3e5"/><stop offset="0.9615" stop-color="#74f3e5"/></linearGradient>
<linearGradient id="r132" gradientUnits="userSpaceOnUse" x1="312" y1="0" x2="1976" y2="0"><stop offset="0.0000" stop-color="#eaf039"/><stop offset="0.0385" stop-color="#f1e535"/><stop offset="0.0769" stop-color="#e7f338"/><stop offset="0.1154" stop-color="#e0f935"/><stop offset="0.1538" stop-color="#f3f325"/><stop offset="0.1923" stop-color="#ffd232"/><stop offset="0.2308" stop-color="#f7ed3c"/><stop offset="0.2692" stop-color="#d5fa53"/><stop offset="0.3077" stop-color="#b8fa70"/><stop offset="0.3462" stop-color="#eae552"/><stop offset="0.3846" stop-color="#f9b542"/><stop offset="0.4231" stop-color="#fdbb40"/><stop offset="0.4615" stop-color="#fad642"/><stop offset="0.5000" stop-color="#d6fa74"/><stop offset="0.5385" stop-color="#aff8ac"/><stop offset="0.5769" stop-color="#a8f7b1"/><stop offset="0.6154" stop-color="#b8fa95"/><stop offset="0.6538" stop-color="#d6fa6a"/><stop offset="0.6923" stop-color="#ffc833"/><stop offset="0.7308" stop-color="#ffa31e"/><stop offset="0.7692" stop-color="#f8dd6c"/><stop offset="0.8077" stop-color="#c0faae"/><stop offset="0.8462" stop-color="#6abbf1"/><stop offset="0.8846" stop-color="#58c5fa"/><stop offset="0.9231" stop-color="#75f3e4"/><stop offset="0.9615" stop-color="#75f3e4"/></linearGradient>
<linearGradient id="r133" gradientUnits="userSpaceOnUse" x1="312" y1="0" x2="1976" y2="0"><stop offset="0.0000" stop-color="#ebee38"/><stop offset="0.0385" stop-color="#f4e234"/><stop offset="0.0769" stop-color="#edf236"/><stop offset="0.1154" stop-color="#e2f834"/><stop offset="0.1538" stop-color="#f2f426"/><stop offset="0.1923" stop-color="#ffd432"/><stop offset="0.2308" stop-color="#f6ee3c"/><stop offset="0.2692" stop-color="#d4fa52"/><stop offset="0.3077" stop-color="#bffa6c"/><stop offset="0.3462" stop-color="#f1e24e"/><stop offset="0.3846" stop-color="#fba940"/><stop offset="0.4231" stop-color="#feb442"/><stop offset="0.4615" stop-color="#fcd040"/><stop offset="0.5000" stop-color="#dafa6d"/><stop offset="0.5385" stop-color="#b7f9a3"/><stop offset="0.5769" stop-color="#b1f8a6"/><stop offset="0.6154" stop-color="#bffa8d"/><stop offset="0.6538" stop-color="#d8fa68"/><stop offset="0.6923" stop-color="#ffc836"/><stop offset="0.7308" stop-color="#ffa21e"/><stop offset="0.7692" stop-color="#f7e070"/><stop offset="0.8077" stop-color="#bcfab5"/><stop offset="0.8462" stop-color="#63b0f4"/><stop offset="0.8846" stop-color="#5cc6fa"/><stop offset="0.9231" stop-color="#76f4e3"/><stop offset="0.9615" stop-color="#76f4e3"/></linearGradient>
<linearGradient id="r134" gradientUnits="userSpaceOnUse" x1="312" y1="0" x2="1976" y2="0"><stop offset="0.0000" stop-color="#edec37"/><stop offset="0.0385" stop-color="#f8de33"/><stop offset="0.0769" stop-color="#f2f133"/><stop offset="0.1154" stop-color="#e5f833"/><stop offset="0.1538" stop-color="#f1f527"/><stop offset="0.1923" stop-color="#ffd632"/><stop offset="0.2308" stop-color="#f5ef3c"/><stop offset="0.2692" stop-color="#d3fa51"/><stop offset="0.3077" stop-color="#c5fa66"/><stop offset="0.3462" stop-color="#f7de48"/><stop offset="0.3846" stop-color="#fe9c3d"/><stop offset="0.4231" stop-color="#ffad45"/><stop offset="0.4615" stop-color="#fecb3d"/><stop offset="0.5000" stop-color="#dffa67"/><stop offset="0.5385" stop-color="#bffa9a"/><stop offset="0.5769" stop-color="#baf99b"/><stop offset="0.6154" stop-color="#c5fa86"/><stop offset="0.6538" stop-color="#dbfa65"/><stop offset="0.6923" stop-color="#ffc83a"/><stop offset="0.7308" stop-color="#ffa11e"/><stop offset="0.7692" stop-color="#f6e476"/><stop offset="0.8077" stop-color="#b6fabb"/><stop offset="0.8462" stop-color="#5da5f8"/><stop offset="0.8846" stop-color="#62c7fa"/><stop offset="0.9231" stop-color="#77f5e2"/><stop offset="0.9615" stop-color="#77f5e2"/></linearGradient>
<linearGradient id="r135" gradientUnits="userSpaceOnUse" x1="312" y1="0" x2="1976" y2="0"><stop offset="0.0000" stop-color="#efe836"/><stop offset="0.0385" stop-color="#fada31"/><stop offset="0.0769" stop-color="#f6ed31"/><stop offset="0.1154" stop-color="#e8f632"/><stop offset="0.1538" stop-color="#f1f429"/><stop offset="0.1923" stop-color="#fed933"/><stop offset="0.2308" stop-color="#f4f13e"/><stop offset="0.2692" stop-color="#d1fa51"/><stop offset="0.3077" stop-color="#cbf862"/><stop offset="0.3462" stop-color="#fad846"/><stop offset="0.3846" stop-color="#fe903b"/><stop offset="0.4231" stop-color="#ffa645"/><stop offset="0.4615" stop-color="#ffc63c"/><stop offset="0.5000" stop-color="#e3f863"/><stop offset="0.5385" stop-color="#c7f892"/><stop offset="0.5769" stop-color="#c2f792"/><stop offset="0.6154" stop-color="#cbf780"/><stop offset="0.6538" stop-color="#def764"/><stop offset="0.6923" stop-color="#ffc83e"/><stop offset="0.7308" stop-color="#ffa120"/><stop offset="0.7692" stop-color="#f2e77c"/><stop offset="0.8077" stop-color="#b0f8c1"/><stop offset="0.8462" stop-color="#5b9efa"/><stop offset="0.8846" stop-color="#65c9fa"/><stop offset="0.9231" stop-color="#78f5e0"/><stop offset="0.9615" stop-color="#78f5e0"/></linearGradient>
<linearGradient id="r136" gradientUnits="userSpaceOnUse" x1="312" y1="0" x2="1976" y2="0"><stop offset="0.0000" stop-color="#f1e334"/><stop offset="0.0385" stop-color="#fbd630"/><stop offset="0.0769" stop-color="#f7e630"/><stop offset="0.1154" stop-color="#ebf132"/><stop offset="0.1538" stop-color="#f2f32c"/><stop offset="0.1923" stop-color="#fcdd36"/><stop offset="0.2308" stop-color="#f1f242"/><stop offset="0.2692" stop-color="#d0fa54"/><stop offset="0.3077" stop-color="#d2f25e"/><stop offset="0.3462" stop-color="#fbcf46"/><stop offset="0.3846" stop-color="#fc8539"/><stop offset="0.4231" stop-color="#ff9f42"/><stop offset="0.4615" stop-color="#ffc03c"/><stop offset="0.5000" stop-color="#e7f260"/><stop offset="0.5385" stop-color="#cef28b"/><stop offset="0.5769" stop-color="#caf28b"/><stop offset="0.6154" stop-color="#d2f27a"/><stop offset="0.6538" stop-color="#e3f264"/><stop offset="0.6923" stop-color="#ffc842"/><stop offset="0.7308" stop-color="#ffa426"/><stop offset="0.7692" stop-color="#ebea83"/><stop offset="0.8077" stop-color="#a9f3c8"/><stop offset="0.8462" stop-color="#5e9af9"/><stop offset="0.8846" stop-color="#68cbfa"/><stop offset="0.9231" stop-color="#78f6de"/><stop offset="0.9615" stop-color="#78f6de"/></linearGradient>
<linearGradient id="r137" gradientUnits="userSpaceOnUse" x1="312" y1="0" x2="1976" y2="0"><stop offset="0.0000" stop-color="#f3dd32"/><stop offset="0.0385" stop-color="#fcd32f"/><stop offset="0.0769" stop-color="#f8df2f"/><stop offset="0.1154" stop-color="#eeec32"/><stop offset="0.1538" stop-color="#f3f22e"/><stop offset="0.1923" stop-color="#fae038"/><stop offset="0.2308" stop-color="#eff345"/><stop offset="0.2692" stop-color="#cffa56"/><stop offset="0.3077" stop-color="#d9ee5b"/><stop offset="0.3462" stop-color="#fcc646"/><stop offset="0.3846" stop-color="#fa7a37"/><stop offset="0.4231" stop-color="#ff9740"/><stop offset="0.4615" stop-color="#ffbc3c"/><stop offset="0.5000" stop-color="#eaee5e"/><stop offset="0.5385" stop-color="#d6ee83"/><stop offset="0.5769" stop-color="#d2ec83"/><stop offset="0.6154" stop-color="#d9ec76"/><stop offset="0.6538" stop-color="#e7ec64"/><stop offset="0.6923" stop-color="#ffc845"/><stop offset="0.7308" stop-color="#ffa62a"/><stop offset="0.7692" stop-color="#e4ec8b"/><stop offset="0.8077" stop-color="#a1efcf"/><stop offset="0.8462" stop-color="#6097f8"/><stop offset="0.8846" stop-color="#6acdfa"/><stop offset="0.9231" stop-color="#78f7dc"/><stop offset="0.9615" stop-color="#78f7dc"/></linearGradient>
<linearGradient id="r138" gradientUnits="userSpaceOnUse" x1="312" y1="0" x2="1976" y2="0"><stop offset="0.0000" stop-color="#f5d730"/><stop offset="0.0385" stop-color="#fccf2e"/><stop offset="0.0769" stop-color="#f9d82e"/><stop offset="0.1154" stop-color="#f1e732"/><stop offset="0.1538" stop-color="#f4f131"/><stop offset="0.1923" stop-color="#f8e43b"/><stop offset="0.2308" stop-color="#ecf449"/><stop offset="0.2692" stop-color="#cefa59"/><stop offset="0.3077" stop-color="#e0e857"/><stop offset="0.3462" stop-color="#fcbd46"/><stop offset="0.3846" stop-color="#f86f35"/><stop offset="0.4231" stop-color="#ff903d"/><stop offset="0.4615" stop-color="#ffb63c"/><stop offset="0.5000" stop-color="#eee85b"/><stop offset="0.5385" stop-color="#dde87c"/><stop offset="0.5769" stop-color="#dae67c"/><stop offset="0.6154" stop-color="#e0e670"/><stop offset="0.6538" stop-color="#ebe664"/><stop offset="0.6923" stop-color="#ffc849"/><stop offset="0.7308" stop-color="#ffa930"/><stop offset="0.7692" stop-color="#ddef92"/><stop offset="0.8077" stop-color="#9aebd6"/><stop offset="0.8462" stop-color="#6393f8"/><stop offset="0.8846" stop-color="#6dcffa"/><stop offset="0.9231" stop-color="#78f7da"/><stop offset="0.9615" stop-color="#78f7da"/></linearGradient>
<linearGradient id="r139" gradientUnits="userSpaceOnUse" x1="312" y1="0" x2="1976" y2="0"><stop offset="0.0000" stop-color="#f7d22f"/><stop offset="0.0385" stop-color="#fdcb2c"/><stop offset="0.0769" stop-color="#fbd12c"/><stop offset="0.1154" stop-color="#f4e332"/><stop offset="0.1538" stop-color="#f6ef33"/><stop offset="0.1923" stop-color="#f7e83d"/><stop offset="0.2308" stop-color="#eaf64d"/><stop offset="0.2692" stop-color="#ccfa5b"/><stop offset="0.3077" stop-color="#e7e453"/><stop offset="0.3462" stop-color="#fdb546"/><stop offset="0.3846" stop-color="#f76334"/><stop offset="0.4231" stop-color="#ff883b"/><stop offset="0.4615" stop-color="#ffb23c"/><stop offset="0.5000" stop-color="#f2e459"/><stop offset="0.5385" stop-color="#e5e474"/><stop offset="0.5769" stop-color="#e3e174"/><stop offset="0.6154" stop-color="#e7e16c"/><stop offset="0.6538" stop-color="#f0e164"/><stop offset="0.6923" stop-color="#ffc84d"/><stop offset="0.7308" stop-color="#ffab34"/><stop offset="0.7692" stop-color="#d6f19a"/><stop offset="0.8077" stop-color="#92e6dd"/><stop offset="0.8462" stop-color="#658ff7"/><stop offset="0.8846" stop-color="#6fd0fa"/><stop offset="0.9231" stop-color="#78f8d9"/><stop offset="0.9615" stop-color="#78f8d9"/></linearGradient>
<linearGradient id="r140" gradientUnits="userSpaceOnUse" x1="312" y1="0" x2="1976" y2="0"><stop offset="0.0000" stop-color="#facc2d"/><stop offset="0.0385" stop-color="#fdc72b"/><stop offset="0.0769" stop-color="#fcca2b"/><stop offset="0.1154" stop-color="#f7de32"/><stop offset="0.1538" stop-color="#f7ee36"/><stop offset="0.1923" stop-color="#f5ec40"/><stop offset="0.2308" stop-color="#e7f751"/><stop offset="0.2692" stop-color="#cbfa5e"/><stop offset="0.3077" stop-color="#eede4f"/><stop offset="0.3462" stop-color="#fdac46"/><stop offset="0.3846" stop-color="#f55832"/><stop offset="0.4231" stop-color="#ff8138"/><stop offset="0.4615" stop-color="#ffac3c"/><stop offset="0.5000" stop-color="#f6de56"/><stop offset="0.5385" stop-color="#ecde6d"/><stop offset="0.5769" stop-color="#ebdb6d"/><stop offset="0.6154" stop-color="#eedb66"/><stop offset="0.6538" stop-color="#f4db64"/><stop offset="0.6923" stop-color="#ffc851"/><stop offset="0.7308" stop-color="#ffae3a"/><stop offset="0.7692" stop-color="#cff4a1"/><stop offset="0.8077" stop-color="#8be2e4"/><stop offset="0.8462" stop-color="#688bf7"/><stop offset="0.8846" stop-color="#72d2fa"/><stop offset="0.9231" stop-color="#78f8d7"/><stop offset="0.9615" stop-color="#78f8d7"/></linearGradient>
<linearGradient id="r141" gradientUnits="userSpaceOnUse" x1="312" y1="0" x2="1976" y2="0"><stop offset="0.0000" stop-color="#fcc62b"/><stop offset="0.0385" stop-color="#fec42a"/><stop offset="0.0769" stop-color="#fdc32a"/><stop offset="0.1154" stop-color="#fad932"/><stop offset="0.1538" stop-color="#f8ed38"/><stop offset="0.1923" stop-color="#f3ef42"/><stop offset="0.2308" stop-color="#e5f854"/><stop offset="0.2692" stop-color="#cafa60"/><stop offset="0.3077" stop-color="#f5da4c"/><stop offset="0.3462" stop-color="#fea346"/><stop offset="0.3846" stop-color="#f34d30"/><stop offset="0.4231" stop-color="#ff7936"/><stop offset="0.4615" stop-color="#ffa83c"/><stop offset="0.5000" stop-color="#f9da54"/><stop offset="0.5385" stop-color="#f4da65"/><stop offset="0.5769" stop-color="#f3d565"/><stop offset="0.6154" stop-color="#f5d562"/><stop offset="0.6538" stop-color="#f8d564"/><stop offset="0.6923" stop-color="#ffc854"/><stop offset="0.7308" stop-color="#ffb03e"/><stop offset="0.7692" stop-color="#c8f6a9"/><stop offset="0.8077" stop-color="#83deeb"/><stop offset="0.8462" stop-color="#6a88f6"/><stop offset="0.8846" stop-color="#74d4fa"/><stop offset="0.9231" stop-color="#78f9d5"/><stop offset="0.9615" stop-color="#78f9d5"/><stop offset="1.0000" stop-color="#78f9d5"/></linearGradient>
<linearGradient id="r142" gradientUnits="userSpaceOnUse" x1="312" y1="0" x2="1976" y2="0"><stop offset="0.0000" stop-color="#fec129"/><stop offset="0.0385" stop-color="#ffc029"/><stop offset="0.0769" stop-color="#febc29"/><stop offset="0.1154" stop-color="#fdd432"/><stop offset="0.1538" stop-color="#f9ec3b"/><stop offset="0.1923" stop-color="#f1f345"/><stop offset="0.2308" stop-color="#e2f958"/><stop offset="0.2692" stop-color="#c9fa63"/><stop offset="0.3077" stop-color="#fcd448"/><stop offset="0.3462" stop-color="#ff9a46"/><stop offset="0.3846" stop-color="#f1422e"/><stop offset="0.4231" stop-color="#ff7233"/><stop offset="0.4615" stop-color="#ffa23c"/><stop offset="0.5000" stop-color="#fdd451"/><stop offset="0.5385" stop-color="#fbd45e"/><stop offset="0.5769" stop-color="#fbd05e"/><stop offset="0.6154" stop-color="#fcd05c"/><stop offset="0.6538" stop-color="#fdd064"/><stop offset="0.6923" stop-color="#ffc858"/><stop offset="0.7308" stop-color="#ffb344"/><stop offset="0.7692" stop-color="#c1f9b0"/><stop offset="0.8077" stop-color="#7cd9f2"/><stop offset="0.8462" stop-color="#6d84f5"/><stop offset="0.8846" stop-color="#77d6fa"/><stop offset="0.9231" stop-color="#78fad3"/><stop offset="0.9615" stop-color="#78fad3"/><stop offset="1.0000" stop-color="#78fad3"/></linearGradient>
<linearGradient id="r143" gradientUnits="userSpaceOnUse" x1="312" y1="0" x2="1976" y2="0"><stop offset="0.0000" stop-color="#ffbe28"/><stop offset="0.0385" stop-color="#ffbe28"/><stop offset="0.0769" stop-color="#ffb928"/><stop offset="0.1154" stop-color="#ffd232"/><stop offset="0.1538" stop-color="#faeb3c"/><stop offset="0.1923" stop-color="#f0f546"/><stop offset="0.2308" stop-color="#e1fa5a"/><stop offset="0.2692" stop-color="#c8fa64"/><stop offset="0.3077" stop-color="#ffd246"/><stop offset="0.3462" stop-color="#ff9646"/><stop offset="0.3846" stop-color="#f03c2d"/><stop offset="0.4231" stop-color="#ff6e32"/><stop offset="0.4615" stop-color="#ffa03c"/><stop offset="0.5000" stop-color="#ffd250"/><stop offset="0.5385" stop-color="#ffd25a"/><stop offset="0.5769" stop-color="#ffcd5a"/><stop offset="0.6154" stop-color="#ffcd5a"/><stop offset="0.6538" stop-color="#ffcd64"/><stop offset="0.6923" stop-color="#ffc85a"/><stop offset="0.7308" stop-color="#ffb446"/><stop offset="0.7692" stop-color="#befab4"/><stop offset="0.8077" stop-color="#78d7f5"/><stop offset="0.8462" stop-color="#6e82f5"/><stop offset="0.8846" stop-color="#78d7fa"/><stop offset="0.9231" stop-color="#78fad2"/><stop offset="0.9615" stop-color="#78fad2"/><stop offset="1.0000" stop-color="#78fad2"/></linearGradient>
<linearGradient id="r144" gradientUnits="userSpaceOnUse" x1="312" y1="0" x2="1976" y2="0"><stop offset="0.0000" stop-color="#ffbe28"/><stop offset="0.0385" stop-color="#ffbe28"/><stop offset="0.0769" stop-color="#ffb928"/><stop offset="0.1154" stop-color="#ffd232"/><stop offset="0.1538" stop-color="#faeb3c"/><stop offset="0.1923" stop-color="#f0f546"/><stop offset="0.2308" stop-color="#e1fa5a"/><stop offset="0.2692" stop-color="#c8fa64"/><stop offset="0.3077" stop-color="#ffd246"/><stop offset="0.3462" stop-color="#ff9646"/><stop offset="0.3846" stop-color="#f03c2d"/><stop offset="0.4231" stop-color="#ff6e32"/><stop offset="0.4615" stop-color="#ffa03c"/><stop offset="0.5000" stop-color="#ffd250"/><stop offset="0.5385" stop-color="#ffd25a"/><stop offset="0.5769" stop-color="#ffcd5a"/><stop offset="0.6154" stop-color="#ffcd5a"/><stop offset="0.6538" stop-color="#ffcd64"/><stop offset="0.6923" stop-color="#ffc85a"/><stop offset="0.7308" stop-color="#ffb446"/><stop offset="0.7692" stop-color="#befab4"/><stop offset="0.8077" stop-color="#78d7f5"/><stop offset="0.8462" stop-color="#6e82f5"/><stop offset="0.8846" stop-color="#78d7fa"/><stop offset="0.9231" stop-color="#78fad2"/><stop offset="0.9615" stop-color="#78fad2"/><stop offset="1.0000" stop-color="#78fad2"/></linearGradient>
<linearGradient id="r145" gradientUnits="userSpaceOnUse" x1="312" y1="0" x2="1976" y2="0"><stop offset="0.0000" stop-color="#ffbe28"/><stop offset="0.0385" stop-color="#ffbe28"/><stop offset="0.0769" stop-color="#ffb928"/><stop offset="0.1154" stop-color="#ffd232"/><stop offset="0.1538" stop-color="#faeb3c"/><stop offset="0.1923" stop-color="#f0f546"/><stop offset="0.2308" stop-color="#e1fa5a"/><stop offset="0.2692" stop-color="#c8fa64"/><stop offset="0.3077" stop-color="#ffd246"/><stop offset="0.3462" stop-color="#ff9646"/><stop offset="0.3846" stop-color="#f03c2d"/><stop offset="0.4231" stop-color="#ff6e32"/><stop offset="0.4615" stop-color="#ffa03c"/><stop offset="0.5000" stop-color="#ffd250"/><stop offset="0.5385" stop-color="#ffd25a"/><stop offset="0.5769" stop-color="#ffcd5a"/><stop offset="0.6154" stop-color="#ffcd5a"/><stop offset="0.6538" stop-color="#ffcd64"/><stop offset="0.6923" stop-color="#ffc85a"/><stop offset="0.7308" stop-color="#ffb446"/><stop offset="0.7692" stop-color="#befab4"/><stop offset="0.8077" stop-color="#78d7f5"/><stop offset="0.8462" stop-color="#6e82f5"/><stop offset="0.8846" stop-color="#78d7fa"/><stop offset="0.9231" stop-color="#78fad2"/><stop offset="0.9615" stop-color="#78fad2"/><stop offset="1.0000" stop-color="#78fad2"/></linearGradient>
<linearGradient id="jet" x1="0" y1="1" x2="0" y2="0"><stop offset="0.000" stop-color="#000080"/><stop offset="0.110" stop-color="#0000ff"/><stop offset="0.125" stop-color="#0000ff"/><stop offset="0.340" stop-color="#00dbff"/><stop offset="0.350" stop-color="#00e5f7"/><stop offset="0.375" stop-color="#15ffe2"/><stop offset="0.640" stop-color="#efff08"/><stop offset="0.650" stop-color="#f7f600"/><stop offset="0.660" stop-color="#ffec00"/><stop offset="0.890" stop-color="#ff1300"/><stop offset="0.910" stop-color="#e80000"/><stop offset="1.000" stop-color="#800000"/></linearGradient>
</defs>
<g clip-path="url(#hm)" shape-rendering="crispEdges">
<rect x="838.7" y="480" width="426.6" height="8.6" fill="url(#r0)"/>
<rect x="834.1" y="488" width="435.8" height="8.6" fill="url(#r1)"/>
<rect x="829.5" y="496" width="445" height="8.6" fill="url(#r2)"/>
<rect x="824.9" y="504" width="454.3" height="8.6" fill="url(#r3)"/>
<rect x="820.2" y="512" width="463.5" height="8.6" fill="url(#r4)"/>
<rect x="815.6" y="520" width="472.7" height="8.6" fill="url(#r5)"/>
<rect x="811" y="528" width="482" height="8.6" fill="url(#r6)"/>
<rect x="806.4" y="536" width="491.2" height="8.6" fill="url(#r7)"/>
<rect x="801.8" y="544" width="500.4" height="8.6" fill="url(#r8)"/>
<rect x="797.2" y="552" width="509.7" height="8.6" fill="url(#r9)"/>
<rect x="792.6" y="560" width="518.9" height="8.6" fill="url(#r10)"/>
<rect x="787.9" y="568" width="528.1" height="8.6" fill="url(#r11)"/>
<rect x="783.3" y="576" width="537.4" height="8.6" fill="url(#r12)"/>
<rect x="778.7" y="584" width="546.6" height="8.6" fill="url(#r13)"/>
<rect x="774.1" y="592" width="555.8" height="8.6" fill="url(#r14)"/>
<rect x="769.5" y="600" width="565.1" height="8.6" fill="url(#r15)"/>
<rect x="764.9" y="608" width="574.3" height="8.6" fill="url(#r16)"/>
<rect x="760.2" y="616" width="583.5" height="8.6" fill="url(#r17)"/>
<rect x="755.6" y="624" width="592.7" height="8.6" fill="url(#r18)"/>
<rect x="751" y="632" width="602" height="8.6" fill="url(#r19)"/>
<rect x="746.4" y="640" width="611.2" height="8.6" fill="url(#r20)"/>
<rect x="741.8" y="648" width="620.4" height="8.6" fill="url(#r21)"/>
<rect x="737.2" y="656" width="629.7" height="8.6" fill="url(#r22)"/>
<rect x="732.5" y="664" width="638.9" height="8.6" fill="url(#r23)"/>
<rect x="727.9" y="672" width="648.1" height="8.6" fill="url(#r24)"/>
<rect x="723.3" y="680" width="657.4" height="8.6" fill="url(#r25)"/>
<rect x="718.7" y="688" width="666.6" height="8.6" fill="url(#r26)"/>
<rect x="714.1" y="696" width="675.8" height="8.6" fill="url(#r27)"/>
<rect x="709.5" y="704" width="685.1" height="8.6" fill="url(#r28)"/>
<rect x="704.9" y="712" width="694.3" height="8.6" fill="url(#r29)"/>
<rect x="700.2" y="720" width="703.5" height="8.6" fill="url(#r30)"/>
<rect x="695.6" y="728" width="712.8" height="8.6" fill="url(#r31)"/>
<rect x="691" y="736" width="722" height="8.6" fill="url(#r32)"/>
<rect x="686.4" y="744" width="731.2" height="8.6" fill="url(#r33)"/>
<rect x="681.8" y="752" width="740.5" height="8.6" fill="url(#r34)"/>
<rect x="677.2" y="760" width="749.7" height="8.6" fill="url(#r35)"/>
<rect x="672.5" y="768" width="758.9" height="8.6" fill="url(#r36)"/>
<rect x="667.9" y="776" width="768.1" height="8.6" fill="url(#r37)"/>
<rect x="663.3" y="784" width="777.4" height="8.6" fill="url(#r38)"/>
<rect x="658.7" y="792" width="786.6" height="8.6" fill="url(#r39)"/>
<rect x="654.1" y="800" width="795.8" height="8.6" fill="url(#r40)"/>
<rect x="649.5" y="808" width="805.1" height="8.6" fill="url(#r41)"/>
<rect x="644.8" y="816" width="814.3" height="8.6" fill="url(#r42)"/>
<rect x="640.2" y="824" width="823.5" height="8.6" fill="url(#r43)"/>
<rect x="635.6" y="832" width="832.8" height="8.6" fill="url(#r44)"/>
<rect x="631" y="840" width="842" height="8.6" fill="url(#r45)"/>
<rect x="626.4" y="848" width="851.2" height="8.6" fill="url(#r46)"/>
<rect x="621.8" y="856" width="860.5" height="8.6" fill="url(#r47)"/>
<rect x="617.2" y="864" width="869.7" height="8.6" fill="url(#r48)"/>
<rect x="612.5" y="872" width="878.9" height="8.6" fill="url(#r49)"/>
<rect x="607.9" y="880" width="888.2" height="8.6" fill="url(#r50)"/>
<rect x="603.3" y="888" width="897.4" height="8.6" fill="url(#r51)"/>
<rect x="598.7" y="896" width="906.6" height="8.6" fill="url(#r52)"/>
<rect x="594.1" y="904" width="915.9" height="8.6" fill="url(#r53)"/>
<rect x="589.5" y="912" width="925.1" height="8.6" fill="url(#r54)"/>
<rect x="584.8" y="920" width="934.3" height="8.6" fill="url(#r55)"/>
<rect x="580.2" y="928" width="943.6" height="8.6" fill="url(#r56)"/>
<rect x="575.6" y="936" width="952.8" height="8.6" fill="url(#r57)"/>
<rect x="571" y="944" width="962" height="8.6" fill="url(#r58)"/>
<rect x="566.4" y="952" width="971.2" height="8.6" fill="url(#r59)"/>
<rect x="561.8" y="960" width="980.5" height="8.6" fill="url(#r60)"/>
<rect x="557.1" y="968" width="989.7" height="8.6" fill="url(#r61)"/>
<rect x="552.5" y="976" width="998.9" height="8.6" fill="url(#r62)"/>
<rect x="547.9" y="984" width="1008.2" height="8.6" fill="url(#r63)"/>
<rect x="543.3" y="992" width="1017.4" height="8.6" fill="url(#r64)"/>
<rect x="538.7" y="1000" width="1026.6" height="8.6" fill="url(#r65)"/>
<rect x="534.1" y="1008" width="1035.9" height="8.6" fill="url(#r66)"/>
<rect x="529.5" y="1016" width="1045.1" height="8.6" fill="url(#r67)"/>
<rect x="524.8" y="1024" width="1054.3" height="8.6" fill="url(#r68)"/>
<rect x="520.2" y="1032" width="1063.6" height="8.6" fill="url(#r69)"/>
<rect x="515.6" y="1040" width="1072.8" height="8.6" fill="url(#r70)"/>
<rect x="511" y="1048" width="1082" height="8.6" fill="url(#r71)"/>
<rect x="506.4" y="1056" width="1091.3" height="8.6" fill="url(#r72)"/>
<rect x="501.8" y="1064" width="1100.5" height="8.6" fill="url(#r73)"/>
<rect x="497.1" y="1072" width="1109.7" height="8.6" fill="url(#r74)"/>
<rect x="492.5" y="1080" width="1119" height="8.6" fill="url(#r75)"/>
<rect x="487.9" y="1088" width="1128.2" height="8.6" fill="url(#r76)"/>
<rect x="483.3" y="1096" width="1137.4" height="8.6" fill="url(#r77)"/>
<rect x="478.7" y="1104" width="1146.6" height="8.6" fill="url(#r78)"/>
<rect x="474.1" y="1112" width="1155.9" height="8.6" fill="url(#r79)"/>
<rect x="469.4" y="1120" width="1165.1" height="8.6" fill="url(#r80)"/>
<rect x="464.8" y="1128" width="1174.3" height="8.6" fill="url(#r81)"/>
<rect x="460.2" y="1136" width="1183.6" height="8.6" fill="url(#r82)"/>
<rect x="455.6" y="1144" width="1192.8" height="8.6" fill="url(#r83)"/>
<rect x="451" y="1152" width="1202" height="8.6" fill="url(#r84)"/>
<rect x="446.4" y="1160" width="1211.3" height="8.6" fill="url(#r85)"/>
<rect x="441.7" y="1168" width="1220.5" height="8.6" fill="url(#r86)"/>
<rect x="437.1" y="1176" width="1229.7" height="8.6" fill="url(#r87)"/>
<rect x="432.5" y="1184" width="1239" height="8.6" fill="url(#r88)"/>
<rect x="427.9" y="1192" width="1248.2" height="8.6" fill="url(#r89)"/>
<rect x="423.3" y="1200" width="1257.4" height="8.6" fill="url(#r90)"/>
<rect x="418.7" y="1208" width="1266.7" height="8.6" fill="url(#r91)"/>
<rect x="414.1" y="1216" width="1275.9" height="8.6" fill="url(#r92)"/>
<rect x="409.4" y="1224" width="1285.1" height="8.6" fill="url(#r93)"/>
<rect x="404.8" y="1232" width="1294.4" height="8.6" fill="url(#r94)"/>
<rect x="400.2" y="1240" width="1303.6" height="8.6" fill="url(#r95)"/>
<rect x="395.6" y="1248" width="1312.8" height="8.6" fill="url(#r96)"/>
<rect x="391" y="1256" width="1322.1" height="8.6" fill="url(#r97)"/>
<rect x="386.4" y="1264" width="1331.3" height="8.6" fill="url(#r98)"/>
<rect x="381.7" y="1272" width="1340.5" height="8.6" fill="url(#r99)"/>
<rect x="377.1" y="1280" width="1349.7" height="8.6" fill="url(#r100)"/>
<rect x="372.5" y="1288" width="1359" height="8.6" fill="url(#r101)"/>
<rect x="367.9" y="1296" width="1368.2" height="8.6" fill="url(#r102)"/>
<rect x="363.3" y="1304" width="1377.4" height="8.6" fill="url(#r103)"/>
<rect x="358.7" y="1312" width="1386.7" height="8.6" fill="url(#r104)"/>
<rect x="354" y="1320" width="1395.9" height="8.6" fill="url(#r105)"/>
<rect x="349.4" y="1328" width="1405.1" height="8.6" fill="url(#r106)"/>
<rect x="344.8" y="1336" width="1414.4" height="8.6" fill="url(#r107)"/>
<rect x="340.2" y="1344" width="1423.6" height="8.6" fill="url(#r108)"/>
<rect x="335.6" y="1352" width="1432.8" height="8.6" fill="url(#r109)"/>
<rect x="331" y="1360" width="1442.1" height="8.6" fill="url(#r110)"/>
<rect x="326.4" y="1368" width="1451.3" height="8.6" fill="url(#r111)"/>
<rect x="321.7" y="1376" width="1460.5" height="8.6" fill="url(#r112)"/>
<rect x="317.1" y="1384" width="1469.8" height="8.6" fill="url(#r113)"/>
<rect x="312.5" y="1392" width="1479" height="8.6" fill="url(#r114)"/>
<rect x="307.9" y="1400" width="1488.2" height="8.6" fill="url(#r115)"/>
<rect x="303.3" y="1408" width="1497.5" height="8.6" fill="url(#r116)"/>
<rect x="298.7" y="1416" width="1506.7" height="8.6" fill="url(#r117)"/>
<rect x="294" y="1424" width="1515.9" height="8.6" fill="url(#r118)"/>
<rect x="289.4" y="1432" width="1525.1" height="8.6" fill="url(#r119)"/>
<rect x="284.8" y="1440" width="1534.4" height="8.6" fill="url(#r120)"/>
<rect x="280.2" y="1448" width="1543.6" height="8.6" fill="url(#r121)"/>
<rect x="275.6" y="1456" width="1552.8" height="8.6" fill="url(#r122)"/>
<rect x="271" y="1464" width="1562.1" height="8.6" fill="url(#r123)"/>
<rect x="266.3" y="1472" width="1571.3" height="8.6" fill="url(#r124)"/>
<rect x="261.7" y="1480" width="1580.5" height="8.6" fill="url(#r125)"/>
<rect x="257.1" y="1488" width="1589.8" height="8.6" fill="url(#r126)"/>
<rect x="252.5" y="1496" width="1599" height="8.6" fill="url(#r127)"/>
<rect x="250" y="1504" width="1606.1" height="8.6" fill="url(#r128)"/>
<rect x="250" y="1512" width="1610.7" height="8.6" fill="url(#r129)"/>
<rect x="250" y="1520" width="1615.3" height="8.6" fill="url(#r130)"/>
<rect x="250" y="1528" width="1620" height="8.6" fill="url(#r131)"/>
<rect x="250" y="1536" width="1624.6" height="8.6" fill="url(#r132)"/>
<rect x="250" y="1544" width="1629.2" height="8.6" fill="url(#r133)"/>
<rect x="250" y="1552" width="1633.8" height="8.6" fill="url(#r134)"/>
<rect x="250" y="1560" width="1638.4" height="8.6" fill="url(#r135)"/>
<rect x="250" y="1568" width="1643" height="8.6" fill="url(#r136)"/>
<rect x="250" y="1576" width="1647.7" height="8.6" fill="url(#r137)"/>
<rect x="250" y="1584" width="1652.3" height="8.6" fill="url(#r138)"/>
<rect x="250" y="1592" width="1656.9" height="8.6" fill="url(#r139)"/>
<rect x="250" y="1600" width="1661.5" height="8.6" fill="url(#r140)"/>
<rect x="250" y="1608" width="1666.1" height="8.6" fill="url(#r141)"/>
<rect x="250" y="1616" width="1670.7" height="8.6" fill="url(#r142)"/>
<rect x="250" y="1624" width="1675.4" height="8.6" fill="url(#r143)"/>
<rect x="250" y="1632" width="1680" height="8.6" fill="url(#r144)"/>
<rect x="250" y="1640" width="1684.6" height="8.6" fill="url(#r145)"/>
<linearGradient id="o1" gradientUnits="userSpaceOnUse" x1="880" y1="0" x2="1056" y2="0"><stop offset="0" stop-color="#f5fa14" stop-opacity="0"/><stop offset="0.28" stop-color="#ffeb00" stop-opacity="0.9"/><stop offset="0.68" stop-color="#ffc800"/><stop offset="1" stop-color="#ffa00a"/></linearGradient>
<polygon points="880,1124 1056,1124 964,1276" fill="url(#o1)"/>
<linearGradient id="o2" gradientUnits="userSpaceOnUse" x1="1427" y1="0" x2="1613" y2="0"><stop offset="0" stop-color="#ffdc28" stop-opacity="0"/><stop offset="0.25" stop-color="#ffc828" stop-opacity="0.9"/><stop offset="1" stop-color="#ffa023"/></linearGradient>
<polygon points="1427,1445 1613,1445 1516,1608" fill="url(#o2)"/>
<linearGradient id="o3" gradientUnits="userSpaceOnUse" x1="1700" y1="1560" x2="1760" y2="1594"><stop offset="0" stop-color="#3c82fa" stop-opacity="0.9"/><stop offset="0.35" stop-color="#1e96ff" stop-opacity="0.9"/><stop offset="1" stop-color="#50dcfa" stop-opacity="0"/></linearGradient>
<polygon points="1688,1645 1798,1445 1850,1445 1850,1500 1770,1645" fill="url(#o3)"/>
<polygon points="684,1118 694,1124 662,1196 650,1190" fill="#aa1e1e" fill-opacity="0.3"/>
<polygon points="622,1208 640,1208 636,1238 616,1238" fill="#e61414" fill-opacity="0.4"/>
<polygon points="773,655 690,800 862,800" fill="#00008b"/>
<polygon points="873,804 1041,804 960,945" fill="#0000a0"/>
<polygon points="965,980 1036,1123 890,1123" fill="#fff" fill-opacity="0.85"/>
<polygon points="1570,1291 1584,1291 1594,1392 1587,1392" fill="#fff"/>
<polygon points="1617,1291 1638,1291 1647,1386 1640,1386" fill="#fff"/>
<polygon points="1515,1615 1570,1615 1570,1645 1515,1645" fill="#fff"/>
<polygon points="1679,1292 1686,1292 1686,1320 1681,1320" fill="#fff"/>
<rect x="1588" y="1499" width="35" height="6" fill="#fff" fill-opacity="0.85"/>
<rect x="1583" y="1530" width="56" height="6" fill="#fff" fill-opacity="0.85"/>
<rect x="1561" y="1562" width="43" height="6" fill="#fff" fill-opacity="0.85"/>
<rect x="1610" y="1554" width="35" height="6" fill="#fff" fill-opacity="0.85"/>
<rect x="1537" y="1591" width="49" height="8" fill="#fff" fill-opacity="0.85"/>
<rect x="1588" y="1583" width="70" height="6" fill="#fff" fill-opacity="0.85"/>
<rect x="1600" y="1612" width="40" height="5" fill="#fff" fill-opacity="0.85"/>
</g>
<path d="M1891.2 1603.4L212.8 1603.4 M306.1 1765L1145.2 310.6 M958.8 310.6L1797.9 1765 M1797.9 1441.8L306.1 1441.8 M492.6 1765L1238.5 472.2 M865.5 472.2L1611.4 1765 M1704.7 1280.2L399.3 1280.2 M679 1765L1331.7 633.8 M772.3 633.8L1425 1765 M1611.4 1118.6L492.6 1118.6 M865.5 1765L1425 795.4 M679 795.4L1238.5 1765 M1518.2 957L585.8 957 M1052 1765L1518.2 957 M585.8 957L1052 1765 M1425 795.4L679 795.4 M1238.5 1765L1611.4 1118.6 M492.6 1118.6L865.5 1765 M1331.7 633.8L772.3 633.8 M1425 1765L1704.7 1280.2 M399.3 1280.2L679 1765 M1238.5 472.2L865.5 472.2 M1611.4 1765L1797.9 1441.8 M306.1 1441.8L492.6 1765 M1145.2 310.6L958.8 310.6 M1797.9 1765L1891.2 1603.4 M212.8 1603.4L306.1 1765" fill="none" stroke="#a9a9a9" stroke-width="7.2" stroke-dasharray="27.8 12.2"/>
<path d="M119.6 1765L1984.4 1765M1984.4 1765L1052 149M1052 149L119.6 1765" fill="none" stroke="#000" stroke-width="7.5"/>
<path d="M1984.4 1765L2013.9 1765 M119.6 1765L105.8 1739 M119.6 1765L105.8 1791 M1797.9 1441.8L1827.4 1441.8 M306.1 1441.8L292.2 1415.8 M492.6 1765L478.7 1791 M1611.4 1118.6L1640.9 1118.6 M492.6 1118.6L478.7 1092.6 M865.5 1765L851.7 1791 M1425 795.4L1454.5 795.4 M679 795.4L665.2 769.4 M1238.5 1765L1224.6 1791 M1238.5 472.2L1268 472.2 M865.5 472.2L851.7 446.2 M1611.4 1765L1597.6 1791 M1052 149L1081.5 149 M1052 149L1038.2 123 M1984.4 1765L1970.6 1791" fill="none" stroke="#000" stroke-width="7.5"/>
<path d="M1891.2 1603.4L1908.7 1603.4 M212.8 1603.4L204.6 1587.9 M306.1 1765L297.9 1780.5 M1704.7 1280.2L1722.2 1280.2 M399.3 1280.2L391.1 1264.7 M679 1765L670.8 1780.5 M1518.2 957L1535.7 957 M585.8 957L577.6 941.5 M1052 1765L1043.8 1780.5 M1331.7 633.8L1349.2 633.8 M772.3 633.8L764.1 618.3 M1425 1765L1416.7 1780.5 M1145.2 310.6L1162.7 310.6 M958.8 310.6L950.5 295.1 M1797.9 1765L1789.7 1780.5" fill="none" stroke="#000" stroke-width="6.3"/>
<text class="s" font-size="84" text-anchor="middle" transform="translate(2061.4 1795.1) rotate(0)" textLength="36" lengthAdjust="spacingAndGlyphs">5</text>
<g transform="translate(66.3 1676.5) rotate(60)"><text class="s" font-size="84" text-anchor="middle" y="27.5" textLength="76" lengthAdjust="spacingAndGlyphs">45</text></g>
<g transform="translate(68.6 1855) rotate(-60)"><text class="s" font-size="84" text-anchor="middle" y="27.5" textLength="76" lengthAdjust="spacingAndGlyphs">50</text></g>
<text class="s" font-size="84" text-anchor="middle" transform="translate(1894.9 1471.9) rotate(0)" textLength="76" lengthAdjust="spacingAndGlyphs">10</text>
<g transform="translate(252.8 1353.3) rotate(60)"><text class="s" font-size="84" text-anchor="middle" y="27.5" textLength="76" lengthAdjust="spacingAndGlyphs">40</text></g>
<g transform="translate(441.6 1855) rotate(-60)"><text class="s" font-size="84" text-anchor="middle" y="27.5" textLength="76" lengthAdjust="spacingAndGlyphs">55</text></g>
<text class="s" font-size="84" text-anchor="middle" transform="translate(1708.4 1148.7) rotate(0)" textLength="76" lengthAdjust="spacingAndGlyphs">15</text>
<g transform="translate(439.3 1030.1) rotate(60)"><text class="s" font-size="84" text-anchor="middle" y="27.5" textLength="76" lengthAdjust="spacingAndGlyphs">35</text></g>
<g transform="translate(814.5 1855) rotate(-60)"><text class="s" font-size="84" text-anchor="middle" y="27.5" textLength="76" lengthAdjust="spacingAndGlyphs">60</text></g>
<text class="s" font-size="84" text-anchor="middle" transform="translate(1522 825.5) rotate(0)" textLength="76" lengthAdjust="spacingAndGlyphs">20</text>
<g transform="translate(625.7 706.9) rotate(60)"><text class="s" font-size="84" text-anchor="middle" y="27.5" textLength="76" lengthAdjust="spacingAndGlyphs">30</text></g>
<g transform="translate(1187.5 1855) rotate(-60)"><text class="s" font-size="84" text-anchor="middle" y="27.5" textLength="76" lengthAdjust="spacingAndGlyphs">65</text></g>
<text class="s" font-size="84" text-anchor="middle" transform="translate(1335.5 502.3) rotate(0)" textLength="76" lengthAdjust="spacingAndGlyphs">25</text>
<g transform="translate(812.2 383.7) rotate(60)"><text class="s" font-size="84" text-anchor="middle" y="27.5" textLength="76" lengthAdjust="spacingAndGlyphs">25</text></g>
<g transform="translate(1560.4 1855) rotate(-60)"><text class="s" font-size="84" text-anchor="middle" y="27.5" textLength="76" lengthAdjust="spacingAndGlyphs">70</text></g>
<text class="s" font-size="84" text-anchor="middle" transform="translate(1149 179.1) rotate(0)" textLength="76" lengthAdjust="spacingAndGlyphs">30</text>
<g transform="translate(998.7 60.5) rotate(60)"><text class="s" font-size="84" text-anchor="middle" y="27.5" textLength="76" lengthAdjust="spacingAndGlyphs">20</text></g>
<g transform="translate(1933.4 1855) rotate(-60)"><text class="s" font-size="84" text-anchor="middle" y="27.5" textLength="76" lengthAdjust="spacingAndGlyphs">75</text></g>
<text class="n" font-size="86" text-anchor="middle" transform="translate(1039.5 2007.4) rotate(0)" textLength="336" lengthAdjust="spacingAndGlyphs">Water [%]</text>
<text class="n" font-size="86" text-anchor="middle" transform="translate(407 868.6) rotate(-60)" textLength="377" lengthAdjust="spacingAndGlyphs">Cement [%]</text>
<text class="n" font-size="86" text-anchor="middle" transform="translate(1676.4 848.3) rotate(60)" textLength="451" lengthAdjust="spacingAndGlyphs">Bentonite [%]</text>
<rect x="1979" y="180" width="83.5" height="1444.5" fill="url(#jet)"/>
<rect x="1973" y="172.6" width="92.7" height="1455.4" fill="none" stroke="#000" stroke-width="7.5"/>
<path d="M2065.7 172.8L2095.2 172.8 M2065.7 240L2095.2 240 M2065.7 333.7L2095.2 333.7 M2065.7 454.2L2095.2 454.2 M2065.7 594.3L2095.2 594.3 M2065.7 776.9L2095.2 776.9 M2065.7 1032.5L2095.2 1032.5 M2065.7 1434.7L2095.2 1434.7 M2065.7 1628L2095.2 1628" fill="none" stroke="#000" stroke-width="7.5"/>
<text class="s" font-size="84" x="2096" y="207.6">39</text>
<text class="s" font-size="84" x="2096" y="274.8">35</text>
<text class="s" font-size="84" x="2096" y="368.5">30</text>
<text class="s" font-size="84" x="2096" y="489">25</text>
<text class="s" font-size="84" x="2096" y="629.1">20</text>
<text class="s" font-size="84" x="2096" y="811.7">15</text>
<text class="s" font-size="84" x="2096" y="1067.3">10</text>
<text class="s" font-size="84" x="2096" y="1469.5">5</text>
<text class="s" font-size="84" x="2096" y="1662.8">3.9</text>
<g transform="translate(2248 0) rotate(90)"><text class="n" font-size="86" x="467" y="0" textLength="402" lengthAdjust="spacingAndGlyphs">Permeability</text><text class="s" font-size="101" x="901.4" y="9" textLength="16" lengthAdjust="spacingAndGlyphs">[</text><text class="s" font-size="58" x="915.9" y="-30" textLength="78.7" lengthAdjust="spacingAndGlyphs" font-style="italic">cm</text><text class="s" font-size="58" x="943" y="29.5" textLength="25" lengthAdjust="spacingAndGlyphs" font-style="italic">s</text><rect x="916.8" y="-22" width="76.1" height="4.5" fill="#000"/><text class="s" font-size="98.5" x="1016.7" y="12.4">×</text><text class="s" font-size="86" x="1097.1" y="0" textLength="67" lengthAdjust="spacingAndGlyphs">10</text><text class="s" font-size="60" x="1173.4" y="-28" textLength="72.2" lengthAdjust="spacingAndGlyphs">−6</text><text class="s" font-size="101" x="1244" y="9" textLength="16" lengthAdjust="spacingAndGlyphs">]</text></g>
</svg>
</body></html>
